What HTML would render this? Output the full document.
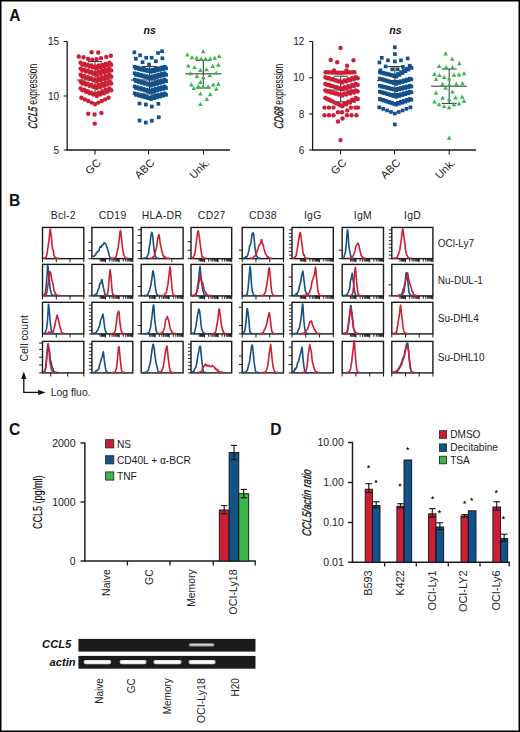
<!DOCTYPE html>
<html><head><meta charset="utf-8"><style>
html,body{margin:0;padding:0;background:#fff;}
body{width:520px;height:732px;overflow:hidden;position:relative;font-family:"Liberation Sans",sans-serif;}
svg{position:absolute;left:0;top:0;}
text{font-family:"Liberation Sans",sans-serif;}
</style></head><body>
<svg width="520" height="732" viewBox="0 0 520 732">
<rect x="0" y="0" width="520" height="732" fill="#fff"/>
<text x="9.2" y="20.5" font-size="15.6" text-anchor="start" font-weight="bold" font-style="normal" fill="#111">A</text>
<line x1="67.2" y1="41.5" x2="67.2" y2="150.6" stroke="#1a1a1a" stroke-width="1.3"/>
<line x1="66.60000000000001" y1="150" x2="230" y2="150" stroke="#1a1a1a" stroke-width="1.3"/>
<line x1="63.7" y1="41.5" x2="67.2" y2="41.5" stroke="#1a1a1a" stroke-width="1.1"/>
<text x="59.0" y="45.1" font-size="10" text-anchor="end" font-weight="normal" font-style="normal" fill="#222">15</text>
<line x1="63.7" y1="96" x2="67.2" y2="96" stroke="#1a1a1a" stroke-width="1.1"/>
<text x="59.0" y="99.6" font-size="10" text-anchor="end" font-weight="normal" font-style="normal" fill="#222">10</text>
<line x1="63.7" y1="150" x2="67.2" y2="150" stroke="#1a1a1a" stroke-width="1.1"/>
<text x="59.0" y="153.6" font-size="10" text-anchor="end" font-weight="normal" font-style="normal" fill="#222">5</text>
<line x1="95" y1="150" x2="95" y2="154.5" stroke="#1a1a1a" stroke-width="1.1"/>
<text x="0" y="0" font-size="11" text-anchor="end" font-weight="normal" font-style="normal" fill="#222" transform="translate(101.5,163.5) rotate(-45)">GC</text>
<line x1="148.5" y1="150" x2="148.5" y2="154.5" stroke="#1a1a1a" stroke-width="1.1"/>
<text x="0" y="0" font-size="11" text-anchor="end" font-weight="normal" font-style="normal" fill="#222" transform="translate(155.0,163.5) rotate(-45)">ABC</text>
<line x1="203.5" y1="150" x2="203.5" y2="154.5" stroke="#1a1a1a" stroke-width="1.1"/>
<text x="0" y="0" font-size="11" text-anchor="end" font-weight="normal" font-style="normal" fill="#222" transform="translate(210.0,163.5) rotate(-45)">Unk.</text>
<g transform="translate(37.2,96.3) rotate(-90) scale(0.68,1)"><text x="-47.93" y="0" font-size="12.5" font-style="italic" fill="#111" stroke="#111" stroke-width="0.35" transform="skewX(-10)">CCL5</text><text x="-15.98" y="0" font-size="12.5" fill="#111" xml:space="preserve"> expression</text></g>
<text x="149.6" y="33.9" font-size="10.6" text-anchor="middle" font-weight="bold" font-style="italic" fill="#111">ns</text>
<line x1="76.8" y1="80" x2="112.4" y2="80" stroke="#333" stroke-width="1"/>
<line x1="95" y1="61.5" x2="95" y2="92.9" stroke="#333" stroke-width="1"/>
<line x1="88" y1="61.5" x2="102" y2="61.5" stroke="#333" stroke-width="1"/>
<line x1="88" y1="92.9" x2="102" y2="92.9" stroke="#333" stroke-width="1"/>
<circle cx="78.8" cy="56.5" r="2.2" fill="#cc1f36"/>
<circle cx="83.5" cy="57.3" r="2.2" fill="#cc1f36"/>
<circle cx="88.1" cy="58.9" r="2.2" fill="#cc1f36"/>
<circle cx="92.2" cy="59.7" r="2.2" fill="#cc1f36"/>
<circle cx="96.6" cy="59.3" r="2.2" fill="#cc1f36"/>
<circle cx="101.0" cy="58.1" r="2.2" fill="#cc1f36"/>
<circle cx="106.3" cy="57.0" r="2.2" fill="#cc1f36"/>
<circle cx="110.8" cy="55.7" r="2.2" fill="#cc1f36"/>
<circle cx="80.6" cy="62.8" r="2.2" fill="#cc1f36"/>
<circle cx="82.4" cy="64.7" r="2.2" fill="#cc1f36"/>
<circle cx="84.2" cy="63.7" r="2.2" fill="#cc1f36"/>
<circle cx="86.0" cy="65.6" r="2.2" fill="#cc1f36"/>
<circle cx="87.8" cy="64.6" r="2.2" fill="#cc1f36"/>
<circle cx="89.6" cy="66.5" r="2.2" fill="#cc1f36"/>
<circle cx="91.4" cy="65.5" r="2.2" fill="#cc1f36"/>
<circle cx="93.2" cy="67.4" r="2.2" fill="#cc1f36"/>
<circle cx="95.0" cy="66.4" r="2.2" fill="#cc1f36"/>
<circle cx="96.8" cy="68.3" r="2.2" fill="#cc1f36"/>
<circle cx="98.6" cy="65.5" r="2.2" fill="#cc1f36"/>
<circle cx="100.4" cy="67.4" r="2.2" fill="#cc1f36"/>
<circle cx="102.2" cy="64.6" r="2.2" fill="#cc1f36"/>
<circle cx="104.0" cy="66.5" r="2.2" fill="#cc1f36"/>
<circle cx="105.8" cy="63.7" r="2.2" fill="#cc1f36"/>
<circle cx="107.6" cy="65.6" r="2.2" fill="#cc1f36"/>
<circle cx="109.4" cy="62.8" r="2.2" fill="#cc1f36"/>
<circle cx="111.2" cy="64.7" r="2.2" fill="#cc1f36"/>
<circle cx="80.6" cy="68.6" r="2.2" fill="#cc1f36"/>
<circle cx="82.4" cy="70.5" r="2.2" fill="#cc1f36"/>
<circle cx="84.2" cy="69.6" r="2.2" fill="#cc1f36"/>
<circle cx="86.0" cy="71.5" r="2.2" fill="#cc1f36"/>
<circle cx="87.8" cy="70.7" r="2.2" fill="#cc1f36"/>
<circle cx="89.6" cy="72.6" r="2.2" fill="#cc1f36"/>
<circle cx="91.4" cy="71.8" r="2.2" fill="#cc1f36"/>
<circle cx="93.2" cy="73.7" r="2.2" fill="#cc1f36"/>
<circle cx="95.0" cy="72.8" r="2.2" fill="#cc1f36"/>
<circle cx="96.8" cy="74.7" r="2.2" fill="#cc1f36"/>
<circle cx="98.6" cy="71.8" r="2.2" fill="#cc1f36"/>
<circle cx="100.4" cy="73.7" r="2.2" fill="#cc1f36"/>
<circle cx="102.2" cy="70.7" r="2.2" fill="#cc1f36"/>
<circle cx="104.0" cy="72.6" r="2.2" fill="#cc1f36"/>
<circle cx="105.8" cy="69.6" r="2.2" fill="#cc1f36"/>
<circle cx="107.6" cy="71.5" r="2.2" fill="#cc1f36"/>
<circle cx="109.4" cy="68.6" r="2.2" fill="#cc1f36"/>
<circle cx="111.2" cy="70.5" r="2.2" fill="#cc1f36"/>
<circle cx="80.6" cy="74.8" r="2.2" fill="#cc1f36"/>
<circle cx="82.4" cy="76.7" r="2.2" fill="#cc1f36"/>
<circle cx="84.2" cy="76.0" r="2.2" fill="#cc1f36"/>
<circle cx="86.0" cy="77.9" r="2.2" fill="#cc1f36"/>
<circle cx="87.8" cy="77.1" r="2.2" fill="#cc1f36"/>
<circle cx="89.6" cy="79.0" r="2.2" fill="#cc1f36"/>
<circle cx="91.4" cy="78.2" r="2.2" fill="#cc1f36"/>
<circle cx="93.2" cy="80.2" r="2.2" fill="#cc1f36"/>
<circle cx="95.0" cy="79.4" r="2.2" fill="#cc1f36"/>
<circle cx="96.8" cy="81.3" r="2.2" fill="#cc1f36"/>
<circle cx="98.6" cy="78.2" r="2.2" fill="#cc1f36"/>
<circle cx="100.4" cy="80.2" r="2.2" fill="#cc1f36"/>
<circle cx="102.2" cy="77.1" r="2.2" fill="#cc1f36"/>
<circle cx="104.0" cy="79.0" r="2.2" fill="#cc1f36"/>
<circle cx="105.8" cy="76.0" r="2.2" fill="#cc1f36"/>
<circle cx="107.6" cy="77.9" r="2.2" fill="#cc1f36"/>
<circle cx="109.4" cy="74.8" r="2.2" fill="#cc1f36"/>
<circle cx="111.2" cy="76.7" r="2.2" fill="#cc1f36"/>
<circle cx="80.6" cy="81.6" r="2.2" fill="#cc1f36"/>
<circle cx="82.4" cy="83.5" r="2.2" fill="#cc1f36"/>
<circle cx="84.2" cy="82.7" r="2.2" fill="#cc1f36"/>
<circle cx="86.0" cy="84.6" r="2.2" fill="#cc1f36"/>
<circle cx="87.8" cy="83.8" r="2.2" fill="#cc1f36"/>
<circle cx="89.6" cy="85.8" r="2.2" fill="#cc1f36"/>
<circle cx="91.4" cy="85.0" r="2.2" fill="#cc1f36"/>
<circle cx="93.2" cy="86.9" r="2.2" fill="#cc1f36"/>
<circle cx="95.0" cy="86.1" r="2.2" fill="#cc1f36"/>
<circle cx="96.8" cy="88.0" r="2.2" fill="#cc1f36"/>
<circle cx="98.6" cy="85.0" r="2.2" fill="#cc1f36"/>
<circle cx="100.4" cy="86.9" r="2.2" fill="#cc1f36"/>
<circle cx="102.2" cy="83.8" r="2.2" fill="#cc1f36"/>
<circle cx="104.0" cy="85.8" r="2.2" fill="#cc1f36"/>
<circle cx="105.8" cy="82.7" r="2.2" fill="#cc1f36"/>
<circle cx="107.6" cy="84.6" r="2.2" fill="#cc1f36"/>
<circle cx="109.4" cy="81.6" r="2.2" fill="#cc1f36"/>
<circle cx="111.2" cy="83.5" r="2.2" fill="#cc1f36"/>
<circle cx="80.6" cy="88.4" r="2.2" fill="#cc1f36"/>
<circle cx="82.4" cy="90.3" r="2.2" fill="#cc1f36"/>
<circle cx="84.2" cy="89.8" r="2.2" fill="#cc1f36"/>
<circle cx="86.0" cy="91.7" r="2.2" fill="#cc1f36"/>
<circle cx="87.8" cy="91.2" r="2.2" fill="#cc1f36"/>
<circle cx="89.6" cy="93.2" r="2.2" fill="#cc1f36"/>
<circle cx="91.4" cy="92.7" r="2.2" fill="#cc1f36"/>
<circle cx="93.2" cy="94.6" r="2.2" fill="#cc1f36"/>
<circle cx="95.0" cy="94.1" r="2.2" fill="#cc1f36"/>
<circle cx="96.8" cy="96.0" r="2.2" fill="#cc1f36"/>
<circle cx="98.6" cy="92.7" r="2.2" fill="#cc1f36"/>
<circle cx="100.4" cy="94.6" r="2.2" fill="#cc1f36"/>
<circle cx="102.2" cy="91.2" r="2.2" fill="#cc1f36"/>
<circle cx="104.0" cy="93.2" r="2.2" fill="#cc1f36"/>
<circle cx="105.8" cy="89.8" r="2.2" fill="#cc1f36"/>
<circle cx="107.6" cy="91.7" r="2.2" fill="#cc1f36"/>
<circle cx="109.4" cy="88.4" r="2.2" fill="#cc1f36"/>
<circle cx="111.2" cy="90.3" r="2.2" fill="#cc1f36"/>
<circle cx="81.4" cy="97.8" r="2.2" fill="#cc1f36"/>
<circle cx="84.8" cy="99.4" r="2.2" fill="#cc1f36"/>
<circle cx="88.2" cy="101.0" r="2.2" fill="#cc1f36"/>
<circle cx="91.6" cy="102.6" r="2.2" fill="#cc1f36"/>
<circle cx="95.0" cy="104.2" r="2.2" fill="#cc1f36"/>
<circle cx="98.4" cy="102.6" r="2.2" fill="#cc1f36"/>
<circle cx="101.8" cy="101.0" r="2.2" fill="#cc1f36"/>
<circle cx="105.2" cy="99.4" r="2.2" fill="#cc1f36"/>
<circle cx="108.6" cy="97.8" r="2.2" fill="#cc1f36"/>
<circle cx="91.6" cy="52.3" r="2.2" fill="#cc1f36"/>
<circle cx="98.2" cy="52.5" r="2.2" fill="#cc1f36"/>
<circle cx="88.2" cy="113.8" r="2.2" fill="#cc1f36"/>
<circle cx="94.6" cy="114.5" r="2.2" fill="#cc1f36"/>
<circle cx="101.4" cy="113.0" r="2.2" fill="#cc1f36"/>
<circle cx="94.7" cy="123.6" r="2.2" fill="#cc1f36"/>
<line x1="131" y1="80" x2="167.5" y2="80" stroke="#3a2a1a" stroke-width="1"/>
<line x1="149.5" y1="66.4" x2="149.5" y2="94" stroke="#3a2a1a" stroke-width="1"/>
<line x1="142.2" y1="66.4" x2="156.8" y2="66.4" stroke="#3a2a1a" stroke-width="1"/>
<line x1="142.2" y1="94" x2="156.8" y2="94" stroke="#3a2a1a" stroke-width="1"/>
<rect x="132.5" y="50.5" width="3.7" height="3.7" fill="#12518a"/>
<rect x="138.2" y="53.4" width="3.7" height="3.7" fill="#12518a"/>
<rect x="134.0" y="56.9" width="3.7" height="3.7" fill="#12518a"/>
<rect x="144.3" y="55.9" width="3.7" height="3.7" fill="#12518a"/>
<rect x="140.7" y="60.4" width="3.7" height="3.7" fill="#12518a"/>
<rect x="149.8" y="55.9" width="3.7" height="3.7" fill="#12518a"/>
<rect x="154.0" y="59.4" width="3.7" height="3.7" fill="#12518a"/>
<rect x="156.2" y="51.1" width="3.7" height="3.7" fill="#12518a"/>
<rect x="160.2" y="49.4" width="3.7" height="3.7" fill="#12518a"/>
<rect x="160.5" y="56.4" width="3.7" height="3.7" fill="#12518a"/>
<rect x="147.2" y="62.6" width="3.7" height="3.7" fill="#12518a"/>
<rect x="132.8" y="65.0" width="3.7" height="3.7" fill="#12518a"/>
<rect x="134.2" y="66.5" width="3.7" height="3.7" fill="#12518a"/>
<rect x="135.8" y="65.7" width="3.7" height="3.7" fill="#12518a"/>
<rect x="137.2" y="67.2" width="3.7" height="3.7" fill="#12518a"/>
<rect x="138.8" y="66.4" width="3.7" height="3.7" fill="#12518a"/>
<rect x="140.2" y="68.0" width="3.7" height="3.7" fill="#12518a"/>
<rect x="141.8" y="67.0" width="3.7" height="3.7" fill="#12518a"/>
<rect x="143.2" y="68.6" width="3.7" height="3.7" fill="#12518a"/>
<rect x="144.8" y="67.8" width="3.7" height="3.7" fill="#12518a"/>
<rect x="146.2" y="69.3" width="3.7" height="3.7" fill="#12518a"/>
<rect x="147.8" y="68.5" width="3.7" height="3.7" fill="#12518a"/>
<rect x="149.2" y="70.0" width="3.7" height="3.7" fill="#12518a"/>
<rect x="150.8" y="67.8" width="3.7" height="3.7" fill="#12518a"/>
<rect x="152.2" y="69.3" width="3.7" height="3.7" fill="#12518a"/>
<rect x="153.8" y="67.0" width="3.7" height="3.7" fill="#12518a"/>
<rect x="155.2" y="68.6" width="3.7" height="3.7" fill="#12518a"/>
<rect x="156.8" y="66.4" width="3.7" height="3.7" fill="#12518a"/>
<rect x="158.2" y="68.0" width="3.7" height="3.7" fill="#12518a"/>
<rect x="159.8" y="65.7" width="3.7" height="3.7" fill="#12518a"/>
<rect x="161.2" y="67.2" width="3.7" height="3.7" fill="#12518a"/>
<rect x="162.8" y="65.0" width="3.7" height="3.7" fill="#12518a"/>
<rect x="164.2" y="66.5" width="3.7" height="3.7" fill="#12518a"/>
<rect x="132.8" y="71.4" width="3.7" height="3.7" fill="#12518a"/>
<rect x="134.2" y="73.0" width="3.7" height="3.7" fill="#12518a"/>
<rect x="135.8" y="72.1" width="3.7" height="3.7" fill="#12518a"/>
<rect x="137.2" y="73.7" width="3.7" height="3.7" fill="#12518a"/>
<rect x="138.8" y="72.9" width="3.7" height="3.7" fill="#12518a"/>
<rect x="140.2" y="74.5" width="3.7" height="3.7" fill="#12518a"/>
<rect x="141.8" y="73.6" width="3.7" height="3.7" fill="#12518a"/>
<rect x="143.2" y="75.2" width="3.7" height="3.7" fill="#12518a"/>
<rect x="144.8" y="74.4" width="3.7" height="3.7" fill="#12518a"/>
<rect x="146.2" y="76.0" width="3.7" height="3.7" fill="#12518a"/>
<rect x="147.8" y="75.2" width="3.7" height="3.7" fill="#12518a"/>
<rect x="149.2" y="76.8" width="3.7" height="3.7" fill="#12518a"/>
<rect x="150.8" y="74.4" width="3.7" height="3.7" fill="#12518a"/>
<rect x="152.2" y="76.0" width="3.7" height="3.7" fill="#12518a"/>
<rect x="153.8" y="73.6" width="3.7" height="3.7" fill="#12518a"/>
<rect x="155.2" y="75.2" width="3.7" height="3.7" fill="#12518a"/>
<rect x="156.8" y="72.9" width="3.7" height="3.7" fill="#12518a"/>
<rect x="158.2" y="74.5" width="3.7" height="3.7" fill="#12518a"/>
<rect x="159.8" y="72.1" width="3.7" height="3.7" fill="#12518a"/>
<rect x="161.2" y="73.7" width="3.7" height="3.7" fill="#12518a"/>
<rect x="162.8" y="71.4" width="3.7" height="3.7" fill="#12518a"/>
<rect x="164.2" y="73.0" width="3.7" height="3.7" fill="#12518a"/>
<rect x="132.8" y="77.8" width="3.7" height="3.7" fill="#12518a"/>
<rect x="134.2" y="79.3" width="3.7" height="3.7" fill="#12518a"/>
<rect x="135.8" y="78.6" width="3.7" height="3.7" fill="#12518a"/>
<rect x="137.2" y="80.2" width="3.7" height="3.7" fill="#12518a"/>
<rect x="138.8" y="79.5" width="3.7" height="3.7" fill="#12518a"/>
<rect x="140.2" y="81.1" width="3.7" height="3.7" fill="#12518a"/>
<rect x="141.8" y="80.4" width="3.7" height="3.7" fill="#12518a"/>
<rect x="143.2" y="82.0" width="3.7" height="3.7" fill="#12518a"/>
<rect x="144.8" y="81.3" width="3.7" height="3.7" fill="#12518a"/>
<rect x="146.2" y="82.9" width="3.7" height="3.7" fill="#12518a"/>
<rect x="147.8" y="82.2" width="3.7" height="3.7" fill="#12518a"/>
<rect x="149.2" y="83.8" width="3.7" height="3.7" fill="#12518a"/>
<rect x="150.8" y="81.3" width="3.7" height="3.7" fill="#12518a"/>
<rect x="152.2" y="82.9" width="3.7" height="3.7" fill="#12518a"/>
<rect x="153.8" y="80.4" width="3.7" height="3.7" fill="#12518a"/>
<rect x="155.2" y="82.0" width="3.7" height="3.7" fill="#12518a"/>
<rect x="156.8" y="79.5" width="3.7" height="3.7" fill="#12518a"/>
<rect x="158.2" y="81.1" width="3.7" height="3.7" fill="#12518a"/>
<rect x="159.8" y="78.6" width="3.7" height="3.7" fill="#12518a"/>
<rect x="161.2" y="80.2" width="3.7" height="3.7" fill="#12518a"/>
<rect x="162.8" y="77.8" width="3.7" height="3.7" fill="#12518a"/>
<rect x="164.2" y="79.3" width="3.7" height="3.7" fill="#12518a"/>
<rect x="132.8" y="84.6" width="3.7" height="3.7" fill="#12518a"/>
<rect x="134.2" y="86.2" width="3.7" height="3.7" fill="#12518a"/>
<rect x="135.8" y="85.4" width="3.7" height="3.7" fill="#12518a"/>
<rect x="137.2" y="87.0" width="3.7" height="3.7" fill="#12518a"/>
<rect x="138.8" y="86.2" width="3.7" height="3.7" fill="#12518a"/>
<rect x="140.2" y="87.8" width="3.7" height="3.7" fill="#12518a"/>
<rect x="141.8" y="87.1" width="3.7" height="3.7" fill="#12518a"/>
<rect x="143.2" y="88.7" width="3.7" height="3.7" fill="#12518a"/>
<rect x="144.8" y="87.9" width="3.7" height="3.7" fill="#12518a"/>
<rect x="146.2" y="89.5" width="3.7" height="3.7" fill="#12518a"/>
<rect x="147.8" y="88.8" width="3.7" height="3.7" fill="#12518a"/>
<rect x="149.2" y="90.3" width="3.7" height="3.7" fill="#12518a"/>
<rect x="150.8" y="87.9" width="3.7" height="3.7" fill="#12518a"/>
<rect x="152.2" y="89.5" width="3.7" height="3.7" fill="#12518a"/>
<rect x="153.8" y="87.1" width="3.7" height="3.7" fill="#12518a"/>
<rect x="155.2" y="88.7" width="3.7" height="3.7" fill="#12518a"/>
<rect x="156.8" y="86.2" width="3.7" height="3.7" fill="#12518a"/>
<rect x="158.2" y="87.8" width="3.7" height="3.7" fill="#12518a"/>
<rect x="159.8" y="85.4" width="3.7" height="3.7" fill="#12518a"/>
<rect x="161.2" y="87.0" width="3.7" height="3.7" fill="#12518a"/>
<rect x="162.8" y="84.6" width="3.7" height="3.7" fill="#12518a"/>
<rect x="164.2" y="86.2" width="3.7" height="3.7" fill="#12518a"/>
<rect x="132.8" y="91.5" width="3.7" height="3.7" fill="#12518a"/>
<rect x="134.2" y="93.0" width="3.7" height="3.7" fill="#12518a"/>
<rect x="135.8" y="92.3" width="3.7" height="3.7" fill="#12518a"/>
<rect x="137.2" y="93.9" width="3.7" height="3.7" fill="#12518a"/>
<rect x="138.8" y="93.1" width="3.7" height="3.7" fill="#12518a"/>
<rect x="140.2" y="94.7" width="3.7" height="3.7" fill="#12518a"/>
<rect x="141.8" y="93.9" width="3.7" height="3.7" fill="#12518a"/>
<rect x="143.2" y="95.5" width="3.7" height="3.7" fill="#12518a"/>
<rect x="144.8" y="94.7" width="3.7" height="3.7" fill="#12518a"/>
<rect x="146.2" y="96.3" width="3.7" height="3.7" fill="#12518a"/>
<rect x="147.8" y="95.6" width="3.7" height="3.7" fill="#12518a"/>
<rect x="149.2" y="97.2" width="3.7" height="3.7" fill="#12518a"/>
<rect x="150.8" y="94.7" width="3.7" height="3.7" fill="#12518a"/>
<rect x="152.2" y="96.3" width="3.7" height="3.7" fill="#12518a"/>
<rect x="153.8" y="93.9" width="3.7" height="3.7" fill="#12518a"/>
<rect x="155.2" y="95.5" width="3.7" height="3.7" fill="#12518a"/>
<rect x="156.8" y="93.1" width="3.7" height="3.7" fill="#12518a"/>
<rect x="158.2" y="94.7" width="3.7" height="3.7" fill="#12518a"/>
<rect x="159.8" y="92.3" width="3.7" height="3.7" fill="#12518a"/>
<rect x="161.2" y="93.9" width="3.7" height="3.7" fill="#12518a"/>
<rect x="162.8" y="91.5" width="3.7" height="3.7" fill="#12518a"/>
<rect x="164.2" y="93.0" width="3.7" height="3.7" fill="#12518a"/>
<rect x="137.7" y="101.7" width="3.7" height="3.7" fill="#12518a"/>
<rect x="144.0" y="102.7" width="3.7" height="3.7" fill="#12518a"/>
<rect x="150.0" y="104.7" width="3.7" height="3.7" fill="#12518a"/>
<rect x="156.5" y="102.0" width="3.7" height="3.7" fill="#12518a"/>
<rect x="137.7" y="118.7" width="3.7" height="3.7" fill="#12518a"/>
<rect x="144.0" y="120.7" width="3.7" height="3.7" fill="#12518a"/>
<rect x="150.0" y="118.9" width="3.7" height="3.7" fill="#12518a"/>
<rect x="157.0" y="115.4" width="3.7" height="3.7" fill="#12518a"/>
<line x1="185.2" y1="73.8" x2="221.5" y2="73.8" stroke="#333" stroke-width="1"/>
<line x1="203.3" y1="60.3" x2="203.3" y2="88" stroke="#333" stroke-width="1"/>
<line x1="195.70000000000002" y1="60.3" x2="210.9" y2="60.3" stroke="#333" stroke-width="1"/>
<line x1="195.70000000000002" y1="88" x2="210.9" y2="88" stroke="#333" stroke-width="1"/>
<path d="M203.3 49.0L205.6 53.2L201.0 53.2Z" fill="#3ab54a"/>
<path d="M187.3 52.3L189.6 56.5L185.0 56.5Z" fill="#3ab54a"/>
<path d="M192.0 55.1L194.3 59.3L189.7 59.3Z" fill="#3ab54a"/>
<path d="M196.7 55.5L199.0 59.7L194.4 59.7Z" fill="#3ab54a"/>
<path d="M201.2 56.4L203.5 60.6L198.9 60.6Z" fill="#3ab54a"/>
<path d="M205.5 56.6L207.8 60.8L203.2 60.8Z" fill="#3ab54a"/>
<path d="M210.2 56.4L212.5 60.6L207.9 60.6Z" fill="#3ab54a"/>
<path d="M214.7 55.5L217.0 59.7L212.4 59.7Z" fill="#3ab54a"/>
<path d="M219.3 53.9L221.6 58.1L217.0 58.1Z" fill="#3ab54a"/>
<path d="M188.3 63.4L190.6 67.6L186.0 67.6Z" fill="#3ab54a"/>
<path d="M194.5 64.9L196.8 69.1L192.2 69.1Z" fill="#3ab54a"/>
<path d="M200.4 67.7L202.7 71.9L198.1 71.9Z" fill="#3ab54a"/>
<path d="M206.5 67.1L208.8 71.3L204.2 71.3Z" fill="#3ab54a"/>
<path d="M212.7 63.7L215.0 67.9L210.4 67.9Z" fill="#3ab54a"/>
<path d="M218.4 62.5L220.7 66.7L216.1 66.7Z" fill="#3ab54a"/>
<path d="M190.5 71.1L192.8 75.3L188.2 75.3Z" fill="#3ab54a"/>
<path d="M196.9 73.8L199.2 78.0L194.6 78.0Z" fill="#3ab54a"/>
<path d="M203.3 75.0L205.6 79.2L201.0 79.2Z" fill="#3ab54a"/>
<path d="M209.8 73.0L212.1 77.2L207.5 77.2Z" fill="#3ab54a"/>
<path d="M216.3 70.5L218.6 74.7L214.0 74.7Z" fill="#3ab54a"/>
<path d="M200.4 79.7L202.7 83.9L198.1 83.9Z" fill="#3ab54a"/>
<path d="M191.4 82.2L193.7 86.4L189.1 86.4Z" fill="#3ab54a"/>
<path d="M193.8 85.9L196.1 90.1L191.5 90.1Z" fill="#3ab54a"/>
<path d="M198.4 84.0L200.7 88.2L196.1 88.2Z" fill="#3ab54a"/>
<path d="M203.3 84.0L205.6 88.2L201.0 88.2Z" fill="#3ab54a"/>
<path d="M208.2 84.3L210.5 88.5L205.9 88.5Z" fill="#3ab54a"/>
<path d="M213.3 82.2L215.6 86.4L211.0 86.4Z" fill="#3ab54a"/>
<path d="M218.4 81.6L220.7 85.8L216.1 85.8Z" fill="#3ab54a"/>
<path d="M216.3 86.5L218.6 90.7L214.0 90.7Z" fill="#3ab54a"/>
<path d="M200.4 91.4L202.7 95.6L198.1 95.6Z" fill="#3ab54a"/>
<path d="M210.2 92.0L212.5 96.2L207.9 96.2Z" fill="#3ab54a"/>
<path d="M206.8 96.7L209.1 100.9L204.5 100.9Z" fill="#3ab54a"/>
<path d="M200.4 101.9L202.7 106.1L198.1 106.1Z" fill="#3ab54a"/>
<line x1="312.6" y1="41.5" x2="312.6" y2="150.6" stroke="#1a1a1a" stroke-width="1.3"/>
<line x1="312.0" y1="150" x2="476" y2="150" stroke="#1a1a1a" stroke-width="1.3"/>
<line x1="309.1" y1="41.5" x2="312.6" y2="41.5" stroke="#1a1a1a" stroke-width="1.1"/>
<text x="304.40000000000003" y="45.1" font-size="10" text-anchor="end" font-weight="normal" font-style="normal" fill="#222">12</text>
<line x1="309.1" y1="77.8" x2="312.6" y2="77.8" stroke="#1a1a1a" stroke-width="1.1"/>
<text x="304.40000000000003" y="81.39999999999999" font-size="10" text-anchor="end" font-weight="normal" font-style="normal" fill="#222">10</text>
<line x1="309.1" y1="114" x2="312.6" y2="114" stroke="#1a1a1a" stroke-width="1.1"/>
<text x="304.40000000000003" y="117.6" font-size="10" text-anchor="end" font-weight="normal" font-style="normal" fill="#222">8</text>
<line x1="309.1" y1="150" x2="312.6" y2="150" stroke="#1a1a1a" stroke-width="1.1"/>
<text x="304.40000000000003" y="153.6" font-size="10" text-anchor="end" font-weight="normal" font-style="normal" fill="#222">6</text>
<line x1="340.5" y1="150" x2="340.5" y2="154.5" stroke="#1a1a1a" stroke-width="1.1"/>
<text x="0" y="0" font-size="11" text-anchor="end" font-weight="normal" font-style="normal" fill="#222" transform="translate(347.0,163.5) rotate(-45)">GC</text>
<line x1="394.5" y1="150" x2="394.5" y2="154.5" stroke="#1a1a1a" stroke-width="1.1"/>
<text x="0" y="0" font-size="11" text-anchor="end" font-weight="normal" font-style="normal" fill="#222" transform="translate(401.0,163.5) rotate(-45)">ABC</text>
<line x1="449.2" y1="150" x2="449.2" y2="154.5" stroke="#1a1a1a" stroke-width="1.1"/>
<text x="0" y="0" font-size="11" text-anchor="end" font-weight="normal" font-style="normal" fill="#222" transform="translate(455.7,163.5) rotate(-45)">Unk.</text>
<g transform="translate(283,96.3) rotate(-90) scale(0.68,1)"><text x="-47.93" y="0" font-size="12.5" font-style="italic" fill="#111" stroke="#111" stroke-width="0.35" transform="skewX(-10)">CD68</text><text x="-15.98" y="0" font-size="12.5" fill="#111" xml:space="preserve"> expression</text></g>
<text x="395.5" y="33.9" font-size="10.6" text-anchor="middle" font-weight="bold" font-style="italic" fill="#111">ns</text>
<line x1="323" y1="90" x2="358" y2="90" stroke="#333" stroke-width="1"/>
<line x1="340.7" y1="76.2" x2="340.7" y2="101.8" stroke="#333" stroke-width="1"/>
<line x1="333.7" y1="76.2" x2="347.7" y2="76.2" stroke="#333" stroke-width="1"/>
<line x1="333.7" y1="101.8" x2="347.7" y2="101.8" stroke="#333" stroke-width="1"/>
<circle cx="340.5" cy="47.9" r="2.2" fill="#cc1f36"/>
<circle cx="330.7" cy="59.9" r="2.2" fill="#cc1f36"/>
<circle cx="337.2" cy="62.2" r="2.2" fill="#cc1f36"/>
<circle cx="353.5" cy="60.2" r="2.2" fill="#cc1f36"/>
<circle cx="347.1" cy="65.8" r="2.2" fill="#cc1f36"/>
<circle cx="325.6" cy="72.2" r="2.2" fill="#cc1f36"/>
<circle cx="328.0" cy="72.3" r="2.2" fill="#cc1f36"/>
<circle cx="330.4" cy="72.4" r="2.2" fill="#cc1f36"/>
<circle cx="332.8" cy="72.5" r="2.2" fill="#cc1f36"/>
<circle cx="335.2" cy="72.6" r="2.2" fill="#cc1f36"/>
<circle cx="337.6" cy="72.7" r="2.2" fill="#cc1f36"/>
<circle cx="340.0" cy="72.8" r="2.2" fill="#cc1f36"/>
<circle cx="342.4" cy="72.7" r="2.2" fill="#cc1f36"/>
<circle cx="344.8" cy="72.6" r="2.2" fill="#cc1f36"/>
<circle cx="347.2" cy="72.5" r="2.2" fill="#cc1f36"/>
<circle cx="349.6" cy="72.4" r="2.2" fill="#cc1f36"/>
<circle cx="352.0" cy="72.3" r="2.2" fill="#cc1f36"/>
<circle cx="354.4" cy="72.2" r="2.2" fill="#cc1f36"/>
<circle cx="334.0" cy="70.5" r="2.2" fill="#cc1f36"/>
<circle cx="346.5" cy="70.5" r="2.2" fill="#cc1f36"/>
<circle cx="325.4" cy="77.2" r="2.2" fill="#cc1f36"/>
<circle cx="327.3" cy="78.2" r="2.2" fill="#cc1f36"/>
<circle cx="329.2" cy="78.2" r="2.2" fill="#cc1f36"/>
<circle cx="331.1" cy="79.2" r="2.2" fill="#cc1f36"/>
<circle cx="333.0" cy="79.3" r="2.2" fill="#cc1f36"/>
<circle cx="334.9" cy="80.3" r="2.2" fill="#cc1f36"/>
<circle cx="336.8" cy="80.4" r="2.2" fill="#cc1f36"/>
<circle cx="338.7" cy="81.4" r="2.2" fill="#cc1f36"/>
<circle cx="340.6" cy="81.4" r="2.2" fill="#cc1f36"/>
<circle cx="342.5" cy="82.4" r="2.2" fill="#cc1f36"/>
<circle cx="344.4" cy="80.4" r="2.2" fill="#cc1f36"/>
<circle cx="346.3" cy="81.4" r="2.2" fill="#cc1f36"/>
<circle cx="348.2" cy="79.3" r="2.2" fill="#cc1f36"/>
<circle cx="350.1" cy="80.3" r="2.2" fill="#cc1f36"/>
<circle cx="352.0" cy="78.2" r="2.2" fill="#cc1f36"/>
<circle cx="353.9" cy="79.2" r="2.2" fill="#cc1f36"/>
<circle cx="355.8" cy="77.2" r="2.2" fill="#cc1f36"/>
<circle cx="357.7" cy="78.2" r="2.2" fill="#cc1f36"/>
<circle cx="325.4" cy="83.9" r="2.2" fill="#cc1f36"/>
<circle cx="327.3" cy="84.9" r="2.2" fill="#cc1f36"/>
<circle cx="329.2" cy="85.0" r="2.2" fill="#cc1f36"/>
<circle cx="331.1" cy="86.0" r="2.2" fill="#cc1f36"/>
<circle cx="333.0" cy="86.1" r="2.2" fill="#cc1f36"/>
<circle cx="334.9" cy="87.1" r="2.2" fill="#cc1f36"/>
<circle cx="336.8" cy="87.2" r="2.2" fill="#cc1f36"/>
<circle cx="338.7" cy="88.2" r="2.2" fill="#cc1f36"/>
<circle cx="340.6" cy="88.3" r="2.2" fill="#cc1f36"/>
<circle cx="342.5" cy="89.3" r="2.2" fill="#cc1f36"/>
<circle cx="344.4" cy="87.2" r="2.2" fill="#cc1f36"/>
<circle cx="346.3" cy="88.2" r="2.2" fill="#cc1f36"/>
<circle cx="348.2" cy="86.1" r="2.2" fill="#cc1f36"/>
<circle cx="350.1" cy="87.1" r="2.2" fill="#cc1f36"/>
<circle cx="352.0" cy="85.0" r="2.2" fill="#cc1f36"/>
<circle cx="353.9" cy="86.0" r="2.2" fill="#cc1f36"/>
<circle cx="355.8" cy="83.9" r="2.2" fill="#cc1f36"/>
<circle cx="357.7" cy="84.9" r="2.2" fill="#cc1f36"/>
<circle cx="325.4" cy="90.5" r="2.2" fill="#cc1f36"/>
<circle cx="327.3" cy="91.5" r="2.2" fill="#cc1f36"/>
<circle cx="329.2" cy="91.5" r="2.2" fill="#cc1f36"/>
<circle cx="331.1" cy="92.5" r="2.2" fill="#cc1f36"/>
<circle cx="333.0" cy="92.5" r="2.2" fill="#cc1f36"/>
<circle cx="334.9" cy="93.5" r="2.2" fill="#cc1f36"/>
<circle cx="336.8" cy="93.5" r="2.2" fill="#cc1f36"/>
<circle cx="338.7" cy="94.5" r="2.2" fill="#cc1f36"/>
<circle cx="340.6" cy="94.5" r="2.2" fill="#cc1f36"/>
<circle cx="342.5" cy="95.5" r="2.2" fill="#cc1f36"/>
<circle cx="344.4" cy="93.5" r="2.2" fill="#cc1f36"/>
<circle cx="346.3" cy="94.5" r="2.2" fill="#cc1f36"/>
<circle cx="348.2" cy="92.5" r="2.2" fill="#cc1f36"/>
<circle cx="350.1" cy="93.5" r="2.2" fill="#cc1f36"/>
<circle cx="352.0" cy="91.5" r="2.2" fill="#cc1f36"/>
<circle cx="353.9" cy="92.5" r="2.2" fill="#cc1f36"/>
<circle cx="355.8" cy="90.5" r="2.2" fill="#cc1f36"/>
<circle cx="357.7" cy="91.5" r="2.2" fill="#cc1f36"/>
<circle cx="325.4" cy="98.0" r="2.2" fill="#cc1f36"/>
<circle cx="327.3" cy="99.0" r="2.2" fill="#cc1f36"/>
<circle cx="329.2" cy="99.8" r="2.2" fill="#cc1f36"/>
<circle cx="331.1" cy="100.8" r="2.2" fill="#cc1f36"/>
<circle cx="333.0" cy="101.6" r="2.2" fill="#cc1f36"/>
<circle cx="334.9" cy="102.6" r="2.2" fill="#cc1f36"/>
<circle cx="336.8" cy="103.4" r="2.2" fill="#cc1f36"/>
<circle cx="338.7" cy="104.4" r="2.2" fill="#cc1f36"/>
<circle cx="340.6" cy="105.2" r="2.2" fill="#cc1f36"/>
<circle cx="342.5" cy="106.2" r="2.2" fill="#cc1f36"/>
<circle cx="344.4" cy="103.4" r="2.2" fill="#cc1f36"/>
<circle cx="346.3" cy="104.4" r="2.2" fill="#cc1f36"/>
<circle cx="348.2" cy="101.6" r="2.2" fill="#cc1f36"/>
<circle cx="350.1" cy="102.6" r="2.2" fill="#cc1f36"/>
<circle cx="352.0" cy="99.8" r="2.2" fill="#cc1f36"/>
<circle cx="353.9" cy="100.8" r="2.2" fill="#cc1f36"/>
<circle cx="355.8" cy="98.0" r="2.2" fill="#cc1f36"/>
<circle cx="357.7" cy="99.0" r="2.2" fill="#cc1f36"/>
<circle cx="324.5" cy="107.6" r="2.2" fill="#cc1f36"/>
<circle cx="329.0" cy="107.6" r="2.2" fill="#cc1f36"/>
<circle cx="333.5" cy="107.6" r="2.2" fill="#cc1f36"/>
<circle cx="351.0" cy="107.6" r="2.2" fill="#cc1f36"/>
<circle cx="355.5" cy="107.6" r="2.2" fill="#cc1f36"/>
<circle cx="358.0" cy="107.6" r="2.2" fill="#cc1f36"/>
<circle cx="338.0" cy="112.2" r="2.2" fill="#cc1f36"/>
<circle cx="342.0" cy="112.2" r="2.2" fill="#cc1f36"/>
<circle cx="347.3" cy="110.4" r="2.2" fill="#cc1f36"/>
<circle cx="324.5" cy="115.2" r="2.2" fill="#cc1f36"/>
<circle cx="329.0" cy="115.2" r="2.2" fill="#cc1f36"/>
<circle cx="333.5" cy="115.2" r="2.2" fill="#cc1f36"/>
<circle cx="347.0" cy="115.2" r="2.2" fill="#cc1f36"/>
<circle cx="351.5" cy="115.2" r="2.2" fill="#cc1f36"/>
<circle cx="356.5" cy="115.2" r="2.2" fill="#cc1f36"/>
<circle cx="342.5" cy="118.5" r="2.2" fill="#cc1f36"/>
<circle cx="338.0" cy="121.5" r="2.2" fill="#cc1f36"/>
<circle cx="340.5" cy="140.1" r="2.2" fill="#cc1f36"/>
<line x1="377" y1="80.4" x2="413" y2="80.4" stroke="#3a2a1a" stroke-width="1"/>
<line x1="394.9" y1="66.6" x2="394.9" y2="93.6" stroke="#3a2a1a" stroke-width="1"/>
<line x1="387.4" y1="66.6" x2="402.4" y2="66.6" stroke="#3a2a1a" stroke-width="1"/>
<line x1="387.4" y1="93.6" x2="402.4" y2="93.6" stroke="#3a2a1a" stroke-width="1"/>
<rect x="393.0" y="45.4" width="3.7" height="3.7" fill="#12518a"/>
<rect x="393.0" y="52.2" width="3.7" height="3.7" fill="#12518a"/>
<rect x="379.9" y="56.0" width="3.7" height="3.7" fill="#12518a"/>
<rect x="386.1" y="58.5" width="3.7" height="3.7" fill="#12518a"/>
<rect x="393.0" y="59.6" width="3.7" height="3.7" fill="#12518a"/>
<rect x="399.1" y="58.5" width="3.7" height="3.7" fill="#12518a"/>
<rect x="405.8" y="56.6" width="3.7" height="3.7" fill="#12518a"/>
<rect x="377.6" y="60.6" width="3.7" height="3.7" fill="#12518a"/>
<rect x="383.8" y="64.6" width="3.7" height="3.7" fill="#12518a"/>
<rect x="390.4" y="67.5" width="3.7" height="3.7" fill="#12518a"/>
<rect x="395.8" y="67.5" width="3.7" height="3.7" fill="#12518a"/>
<rect x="401.1" y="65.0" width="3.7" height="3.7" fill="#12518a"/>
<rect x="407.8" y="63.9" width="3.7" height="3.7" fill="#12518a"/>
<rect x="378.6" y="68.5" width="3.7" height="3.7" fill="#12518a"/>
<rect x="378.1" y="70.2" width="3.7" height="3.7" fill="#12518a"/>
<rect x="379.6" y="71.0" width="3.7" height="3.7" fill="#12518a"/>
<rect x="381.1" y="70.9" width="3.7" height="3.7" fill="#12518a"/>
<rect x="382.6" y="71.7" width="3.7" height="3.7" fill="#12518a"/>
<rect x="384.1" y="71.7" width="3.7" height="3.7" fill="#12518a"/>
<rect x="385.6" y="72.5" width="3.7" height="3.7" fill="#12518a"/>
<rect x="387.1" y="72.4" width="3.7" height="3.7" fill="#12518a"/>
<rect x="388.6" y="73.2" width="3.7" height="3.7" fill="#12518a"/>
<rect x="390.1" y="73.2" width="3.7" height="3.7" fill="#12518a"/>
<rect x="391.6" y="74.0" width="3.7" height="3.7" fill="#12518a"/>
<rect x="393.1" y="74.0" width="3.7" height="3.7" fill="#12518a"/>
<rect x="394.6" y="74.8" width="3.7" height="3.7" fill="#12518a"/>
<rect x="396.1" y="72.2" width="3.7" height="3.7" fill="#12518a"/>
<rect x="397.6" y="73.0" width="3.7" height="3.7" fill="#12518a"/>
<rect x="399.1" y="70.4" width="3.7" height="3.7" fill="#12518a"/>
<rect x="400.6" y="71.2" width="3.7" height="3.7" fill="#12518a"/>
<rect x="402.1" y="68.7" width="3.7" height="3.7" fill="#12518a"/>
<rect x="403.6" y="69.5" width="3.7" height="3.7" fill="#12518a"/>
<rect x="405.1" y="66.9" width="3.7" height="3.7" fill="#12518a"/>
<rect x="406.6" y="67.7" width="3.7" height="3.7" fill="#12518a"/>
<rect x="408.1" y="65.2" width="3.7" height="3.7" fill="#12518a"/>
<rect x="409.6" y="66.0" width="3.7" height="3.7" fill="#12518a"/>
<rect x="378.0" y="76.8" width="3.7" height="3.7" fill="#12518a"/>
<rect x="379.5" y="77.5" width="3.7" height="3.7" fill="#12518a"/>
<rect x="381.0" y="77.6" width="3.7" height="3.7" fill="#12518a"/>
<rect x="382.5" y="78.4" width="3.7" height="3.7" fill="#12518a"/>
<rect x="384.0" y="78.5" width="3.7" height="3.7" fill="#12518a"/>
<rect x="385.5" y="79.3" width="3.7" height="3.7" fill="#12518a"/>
<rect x="387.0" y="79.4" width="3.7" height="3.7" fill="#12518a"/>
<rect x="388.5" y="80.2" width="3.7" height="3.7" fill="#12518a"/>
<rect x="390.0" y="80.3" width="3.7" height="3.7" fill="#12518a"/>
<rect x="391.5" y="81.1" width="3.7" height="3.7" fill="#12518a"/>
<rect x="393.0" y="81.2" width="3.7" height="3.7" fill="#12518a"/>
<rect x="394.5" y="82.0" width="3.7" height="3.7" fill="#12518a"/>
<rect x="396.0" y="80.3" width="3.7" height="3.7" fill="#12518a"/>
<rect x="397.5" y="81.1" width="3.7" height="3.7" fill="#12518a"/>
<rect x="399.0" y="79.4" width="3.7" height="3.7" fill="#12518a"/>
<rect x="400.5" y="80.2" width="3.7" height="3.7" fill="#12518a"/>
<rect x="402.0" y="78.5" width="3.7" height="3.7" fill="#12518a"/>
<rect x="403.5" y="79.3" width="3.7" height="3.7" fill="#12518a"/>
<rect x="405.0" y="77.6" width="3.7" height="3.7" fill="#12518a"/>
<rect x="406.5" y="78.4" width="3.7" height="3.7" fill="#12518a"/>
<rect x="408.0" y="76.8" width="3.7" height="3.7" fill="#12518a"/>
<rect x="409.5" y="77.5" width="3.7" height="3.7" fill="#12518a"/>
<rect x="378.0" y="83.9" width="3.7" height="3.7" fill="#12518a"/>
<rect x="379.5" y="84.7" width="3.7" height="3.7" fill="#12518a"/>
<rect x="381.0" y="84.6" width="3.7" height="3.7" fill="#12518a"/>
<rect x="382.5" y="85.4" width="3.7" height="3.7" fill="#12518a"/>
<rect x="384.0" y="85.3" width="3.7" height="3.7" fill="#12518a"/>
<rect x="385.5" y="86.1" width="3.7" height="3.7" fill="#12518a"/>
<rect x="387.0" y="86.1" width="3.7" height="3.7" fill="#12518a"/>
<rect x="388.5" y="86.9" width="3.7" height="3.7" fill="#12518a"/>
<rect x="390.0" y="86.8" width="3.7" height="3.7" fill="#12518a"/>
<rect x="391.5" y="87.6" width="3.7" height="3.7" fill="#12518a"/>
<rect x="393.0" y="87.6" width="3.7" height="3.7" fill="#12518a"/>
<rect x="394.5" y="88.4" width="3.7" height="3.7" fill="#12518a"/>
<rect x="396.0" y="86.8" width="3.7" height="3.7" fill="#12518a"/>
<rect x="397.5" y="87.6" width="3.7" height="3.7" fill="#12518a"/>
<rect x="399.0" y="86.1" width="3.7" height="3.7" fill="#12518a"/>
<rect x="400.5" y="86.9" width="3.7" height="3.7" fill="#12518a"/>
<rect x="402.0" y="85.3" width="3.7" height="3.7" fill="#12518a"/>
<rect x="403.5" y="86.1" width="3.7" height="3.7" fill="#12518a"/>
<rect x="405.0" y="84.6" width="3.7" height="3.7" fill="#12518a"/>
<rect x="406.5" y="85.4" width="3.7" height="3.7" fill="#12518a"/>
<rect x="408.0" y="83.9" width="3.7" height="3.7" fill="#12518a"/>
<rect x="409.5" y="84.7" width="3.7" height="3.7" fill="#12518a"/>
<rect x="378.0" y="89.8" width="3.7" height="3.7" fill="#12518a"/>
<rect x="379.5" y="90.5" width="3.7" height="3.7" fill="#12518a"/>
<rect x="381.0" y="90.6" width="3.7" height="3.7" fill="#12518a"/>
<rect x="382.5" y="91.4" width="3.7" height="3.7" fill="#12518a"/>
<rect x="384.0" y="91.5" width="3.7" height="3.7" fill="#12518a"/>
<rect x="385.5" y="92.3" width="3.7" height="3.7" fill="#12518a"/>
<rect x="387.0" y="92.4" width="3.7" height="3.7" fill="#12518a"/>
<rect x="388.5" y="93.2" width="3.7" height="3.7" fill="#12518a"/>
<rect x="390.0" y="93.3" width="3.7" height="3.7" fill="#12518a"/>
<rect x="391.5" y="94.1" width="3.7" height="3.7" fill="#12518a"/>
<rect x="393.0" y="94.2" width="3.7" height="3.7" fill="#12518a"/>
<rect x="394.5" y="95.0" width="3.7" height="3.7" fill="#12518a"/>
<rect x="396.0" y="93.3" width="3.7" height="3.7" fill="#12518a"/>
<rect x="397.5" y="94.1" width="3.7" height="3.7" fill="#12518a"/>
<rect x="399.0" y="92.4" width="3.7" height="3.7" fill="#12518a"/>
<rect x="400.5" y="93.2" width="3.7" height="3.7" fill="#12518a"/>
<rect x="402.0" y="91.5" width="3.7" height="3.7" fill="#12518a"/>
<rect x="403.5" y="92.3" width="3.7" height="3.7" fill="#12518a"/>
<rect x="405.0" y="90.6" width="3.7" height="3.7" fill="#12518a"/>
<rect x="406.5" y="91.4" width="3.7" height="3.7" fill="#12518a"/>
<rect x="408.0" y="89.8" width="3.7" height="3.7" fill="#12518a"/>
<rect x="409.5" y="90.5" width="3.7" height="3.7" fill="#12518a"/>
<rect x="378.0" y="97.1" width="3.7" height="3.7" fill="#12518a"/>
<rect x="379.5" y="97.9" width="3.7" height="3.7" fill="#12518a"/>
<rect x="381.0" y="98.0" width="3.7" height="3.7" fill="#12518a"/>
<rect x="382.5" y="98.8" width="3.7" height="3.7" fill="#12518a"/>
<rect x="384.0" y="99.0" width="3.7" height="3.7" fill="#12518a"/>
<rect x="385.5" y="99.8" width="3.7" height="3.7" fill="#12518a"/>
<rect x="387.0" y="100.0" width="3.7" height="3.7" fill="#12518a"/>
<rect x="388.5" y="100.8" width="3.7" height="3.7" fill="#12518a"/>
<rect x="390.0" y="101.0" width="3.7" height="3.7" fill="#12518a"/>
<rect x="391.5" y="101.8" width="3.7" height="3.7" fill="#12518a"/>
<rect x="393.0" y="102.0" width="3.7" height="3.7" fill="#12518a"/>
<rect x="394.5" y="102.8" width="3.7" height="3.7" fill="#12518a"/>
<rect x="396.0" y="101.0" width="3.7" height="3.7" fill="#12518a"/>
<rect x="397.5" y="101.8" width="3.7" height="3.7" fill="#12518a"/>
<rect x="399.0" y="100.0" width="3.7" height="3.7" fill="#12518a"/>
<rect x="400.5" y="100.8" width="3.7" height="3.7" fill="#12518a"/>
<rect x="402.0" y="99.0" width="3.7" height="3.7" fill="#12518a"/>
<rect x="403.5" y="99.8" width="3.7" height="3.7" fill="#12518a"/>
<rect x="405.0" y="98.0" width="3.7" height="3.7" fill="#12518a"/>
<rect x="406.5" y="98.8" width="3.7" height="3.7" fill="#12518a"/>
<rect x="408.0" y="97.1" width="3.7" height="3.7" fill="#12518a"/>
<rect x="409.5" y="97.9" width="3.7" height="3.7" fill="#12518a"/>
<rect x="377.4" y="105.5" width="3.7" height="3.7" fill="#12518a"/>
<rect x="381.3" y="107.0" width="3.7" height="3.7" fill="#12518a"/>
<rect x="385.2" y="108.6" width="3.7" height="3.7" fill="#12518a"/>
<rect x="389.1" y="110.1" width="3.7" height="3.7" fill="#12518a"/>
<rect x="393.0" y="111.7" width="3.7" height="3.7" fill="#12518a"/>
<rect x="396.9" y="110.1" width="3.7" height="3.7" fill="#12518a"/>
<rect x="400.8" y="108.6" width="3.7" height="3.7" fill="#12518a"/>
<rect x="404.7" y="107.0" width="3.7" height="3.7" fill="#12518a"/>
<rect x="408.6" y="105.5" width="3.7" height="3.7" fill="#12518a"/>
<rect x="393.0" y="122.6" width="3.7" height="3.7" fill="#12518a"/>
<line x1="431.1" y1="86.2" x2="467" y2="86.2" stroke="#333" stroke-width="1"/>
<line x1="449.2" y1="69" x2="449.2" y2="103.4" stroke="#333" stroke-width="1"/>
<line x1="441.7" y1="69" x2="456.7" y2="69" stroke="#333" stroke-width="1"/>
<line x1="441.7" y1="103.4" x2="456.7" y2="103.4" stroke="#333" stroke-width="1"/>
<path d="M445.6 51.2L447.9 55.4L443.3 55.4Z" fill="#3ab54a"/>
<path d="M452.2 56.5L454.5 60.7L449.9 60.7Z" fill="#3ab54a"/>
<path d="M459.4 61.1L461.7 65.3L457.1 65.3Z" fill="#3ab54a"/>
<path d="M439.1 63.9L441.4 68.1L436.8 68.1Z" fill="#3ab54a"/>
<path d="M446.1 64.9L448.4 69.1L443.8 69.1Z" fill="#3ab54a"/>
<path d="M452.5 64.9L454.8 69.1L450.2 69.1Z" fill="#3ab54a"/>
<path d="M434.5 71.8L436.8 76.0L432.2 76.0Z" fill="#3ab54a"/>
<path d="M439.5 72.9L441.8 77.1L437.2 77.1Z" fill="#3ab54a"/>
<path d="M436.0 76.9L438.3 81.1L433.7 81.1Z" fill="#3ab54a"/>
<path d="M444.1 74.9L446.4 79.1L441.8 79.1Z" fill="#3ab54a"/>
<path d="M449.2 76.4L451.5 80.6L446.9 80.6Z" fill="#3ab54a"/>
<path d="M454.0 72.6L456.3 76.8L451.7 76.8Z" fill="#3ab54a"/>
<path d="M459.0 72.3L461.3 76.5L456.7 76.5Z" fill="#3ab54a"/>
<path d="M464.0 71.1L466.3 75.3L461.7 75.3Z" fill="#3ab54a"/>
<path d="M442.6 81.8L444.9 86.0L440.3 86.0Z" fill="#3ab54a"/>
<path d="M449.5 82.5L451.8 86.7L447.2 86.7Z" fill="#3ab54a"/>
<path d="M445.6 85.6L447.9 89.8L443.3 89.8Z" fill="#3ab54a"/>
<path d="M456.3 81.8L458.6 86.0L454.0 86.0Z" fill="#3ab54a"/>
<path d="M462.5 81.0L464.8 85.2L460.2 85.2Z" fill="#3ab54a"/>
<path d="M436.0 90.5L438.3 94.7L433.7 94.7Z" fill="#3ab54a"/>
<path d="M452.5 89.4L454.8 93.6L450.2 93.6Z" fill="#3ab54a"/>
<path d="M442.6 95.5L444.9 99.7L440.3 99.7Z" fill="#3ab54a"/>
<path d="M449.2 97.1L451.5 101.3L446.9 101.3Z" fill="#3ab54a"/>
<path d="M455.6 95.2L457.9 99.4L453.3 99.4Z" fill="#3ab54a"/>
<path d="M462.2 94.5L464.5 98.7L459.9 98.7Z" fill="#3ab54a"/>
<path d="M434.5 99.4L436.8 103.6L432.2 103.6Z" fill="#3ab54a"/>
<path d="M439.1 102.0L441.4 106.2L436.8 106.2Z" fill="#3ab54a"/>
<path d="M444.1 103.9L446.4 108.1L441.8 108.1Z" fill="#3ab54a"/>
<path d="M449.2 105.0L451.5 109.2L446.9 109.2Z" fill="#3ab54a"/>
<path d="M454.0 102.0L456.3 106.2L451.7 106.2Z" fill="#3ab54a"/>
<path d="M459.0 101.3L461.3 105.5L456.7 105.5Z" fill="#3ab54a"/>
<path d="M464.0 98.6L466.3 102.8L461.7 102.8Z" fill="#3ab54a"/>
<path d="M449.2 135.6L451.5 139.8L446.9 139.8Z" fill="#3ab54a"/>
<text x="9.0" y="205.5" font-size="15.6" text-anchor="start" font-weight="bold" font-style="normal" fill="#111">B</text>
<text x="63.25" y="218.9" font-size="10.4" text-anchor="middle" letter-spacing="0.3" fill="#222">Bcl-2</text>
<text x="112.65" y="218.9" font-size="10.4" text-anchor="middle" letter-spacing="0.3" fill="#222">CD19</text>
<text x="161.95" y="218.9" font-size="10.4" text-anchor="middle" letter-spacing="0.3" fill="#222">HLA-DR</text>
<text x="211.75" y="218.9" font-size="10.4" text-anchor="middle" letter-spacing="0.3" fill="#222">CD27</text>
<text x="262.95" y="218.9" font-size="10.4" text-anchor="middle" letter-spacing="0.3" fill="#222">CD38</text>
<text x="312.75" y="218.9" font-size="10.4" text-anchor="middle" letter-spacing="0.3" fill="#222">IgG</text>
<text x="362.95" y="218.9" font-size="10.4" text-anchor="middle" letter-spacing="0.3" fill="#222">IgM</text>
<text x="412.55" y="218.9" font-size="10.4" text-anchor="middle" letter-spacing="0.3" fill="#222">IgD</text>
<text x="437.8" y="246.95" font-size="10" text-anchor="start" font-weight="normal" font-style="normal" fill="#222">OCl-Ly7</text>
<text x="437.8" y="283.9" font-size="10" text-anchor="start" font-weight="normal" font-style="normal" fill="#222">Nu-DUL-1</text>
<text x="437.8" y="321.8" font-size="10" text-anchor="start" font-weight="normal" font-style="normal" fill="#222">Su-DHL4</text>
<text x="437.8" y="360.9" font-size="10" text-anchor="start" font-weight="normal" font-style="normal" fill="#222">Su-DHL10</text>
<rect x="42.5" y="227.45" width="41.3" height="31.19999999999999" fill="none" stroke="#1a1a1a" stroke-width="1.4"/>
<line x1="42.5" y1="258.65" x2="42.5" y2="262.25" stroke="#1a1a1a" stroke-width="1.0"/>
<line x1="56.266666666666666" y1="258.65" x2="56.266666666666666" y2="262.25" stroke="#1a1a1a" stroke-width="1.0"/>
<line x1="70.03333333333333" y1="258.65" x2="70.03333333333333" y2="262.25" stroke="#1a1a1a" stroke-width="1.0"/>
<line x1="83.8" y1="258.65" x2="83.8" y2="262.25" stroke="#1a1a1a" stroke-width="1.0"/>
<rect x="91.9" y="227.45" width="40.900000000000006" height="31.19999999999999" fill="none" stroke="#1a1a1a" stroke-width="1.4"/>
<line x1="100.10808454843789" y1="258.65" x2="100.10808454843789" y2="261.54999999999995" stroke="#1a1a1a" stroke-width="0.95"/>
<line x1="101.42929105911439" y1="258.65" x2="101.42929105911439" y2="261.54999999999995" stroke="#1a1a1a" stroke-width="0.95"/>
<line x1="102.50879538023035" y1="258.65" x2="102.50879538023035" y2="261.54999999999995" stroke="#1a1a1a" stroke-width="0.95"/>
<line x1="103.42150327886104" y1="258.65" x2="103.42150327886104" y2="261.54999999999995" stroke="#1a1a1a" stroke-width="0.95"/>
<line x1="104.21212682265684" y1="258.65" x2="104.21212682265684" y2="261.54999999999995" stroke="#1a1a1a" stroke-width="0.95"/>
<line x1="104.9095062120228" y1="258.65" x2="104.9095062120228" y2="261.54999999999995" stroke="#1a1a1a" stroke-width="0.95"/>
<line x1="105.53333333333335" y1="258.65" x2="105.53333333333335" y2="262.25" stroke="#1a1a1a" stroke-width="0.95"/>
<line x1="109.63737560755229" y1="258.65" x2="109.63737560755229" y2="261.54999999999995" stroke="#1a1a1a" stroke-width="0.95"/>
<line x1="112.03808643934474" y1="258.65" x2="112.03808643934474" y2="261.54999999999995" stroke="#1a1a1a" stroke-width="0.95"/>
<line x1="113.74141788177124" y1="258.65" x2="113.74141788177124" y2="261.54999999999995" stroke="#1a1a1a" stroke-width="0.95"/>
<line x1="115.06262439244773" y1="258.65" x2="115.06262439244773" y2="261.54999999999995" stroke="#1a1a1a" stroke-width="0.95"/>
<line x1="116.1421287135637" y1="258.65" x2="116.1421287135637" y2="261.54999999999995" stroke="#1a1a1a" stroke-width="0.95"/>
<line x1="117.05483661219438" y1="258.65" x2="117.05483661219438" y2="261.54999999999995" stroke="#1a1a1a" stroke-width="0.95"/>
<line x1="117.84546015599018" y1="258.65" x2="117.84546015599018" y2="261.54999999999995" stroke="#1a1a1a" stroke-width="0.95"/>
<line x1="118.54283954535614" y1="258.65" x2="118.54283954535614" y2="261.54999999999995" stroke="#1a1a1a" stroke-width="0.95"/>
<line x1="119.16666666666667" y1="258.65" x2="119.16666666666667" y2="262.25" stroke="#1a1a1a" stroke-width="0.95"/>
<line x1="123.27070894088561" y1="258.65" x2="123.27070894088561" y2="261.54999999999995" stroke="#1a1a1a" stroke-width="0.95"/>
<line x1="125.67141977267806" y1="258.65" x2="125.67141977267806" y2="261.54999999999995" stroke="#1a1a1a" stroke-width="0.95"/>
<line x1="127.37475121510457" y1="258.65" x2="127.37475121510457" y2="261.54999999999995" stroke="#1a1a1a" stroke-width="0.95"/>
<line x1="128.69595772578106" y1="258.65" x2="128.69595772578106" y2="261.54999999999995" stroke="#1a1a1a" stroke-width="0.95"/>
<line x1="129.77546204689702" y1="258.65" x2="129.77546204689702" y2="261.54999999999995" stroke="#1a1a1a" stroke-width="0.95"/>
<line x1="130.6881699455277" y1="258.65" x2="130.6881699455277" y2="261.54999999999995" stroke="#1a1a1a" stroke-width="0.95"/>
<line x1="131.4787934893235" y1="258.65" x2="131.4787934893235" y2="261.54999999999995" stroke="#1a1a1a" stroke-width="0.95"/>
<line x1="132.17617287868947" y1="258.65" x2="132.17617287868947" y2="261.54999999999995" stroke="#1a1a1a" stroke-width="0.95"/>
<line x1="132.8" y1="258.65" x2="132.8" y2="262.25" stroke="#1a1a1a" stroke-width="0.95"/>
<line x1="88.5" y1="258.65" x2="91.9" y2="258.65" stroke="#1a1a1a" stroke-width="1.0"/>
<line x1="88.5" y1="250.486" x2="91.9" y2="250.486" stroke="#1a1a1a" stroke-width="1.0"/>
<line x1="88.5" y1="242.32199999999997" x2="91.9" y2="242.32199999999997" stroke="#1a1a1a" stroke-width="1.0"/>
<rect x="141.2" y="227.45" width="41.900000000000006" height="31.19999999999999" fill="none" stroke="#1a1a1a" stroke-width="1.4"/>
<line x1="171.78699999999998" y1="258.65" x2="171.78699999999998" y2="262.15" stroke="#222" stroke-width="0.9"/>
<line x1="137.79999999999998" y1="258.65" x2="141.2" y2="258.65" stroke="#1a1a1a" stroke-width="1.0"/>
<line x1="137.79999999999998" y1="250.486" x2="141.2" y2="250.486" stroke="#1a1a1a" stroke-width="1.0"/>
<line x1="137.79999999999998" y1="242.95" x2="141.2" y2="242.95" stroke="#1a1a1a" stroke-width="1.0"/>
<line x1="137.79999999999998" y1="235.414" x2="141.2" y2="235.414" stroke="#1a1a1a" stroke-width="1.0"/>
<line x1="137.79999999999998" y1="229.76199999999997" x2="141.2" y2="229.76199999999997" stroke="#1a1a1a" stroke-width="1.0"/>
<rect x="191.0" y="227.45" width="40.69999999999999" height="31.19999999999999" fill="none" stroke="#1a1a1a" stroke-width="1.4"/>
<line x1="199.1679472156827" y1="258.65" x2="199.1679472156827" y2="261.54999999999995" stroke="#1a1a1a" stroke-width="0.95"/>
<line x1="200.4826930588253" y1="258.65" x2="200.4826930588253" y2="261.54999999999995" stroke="#1a1a1a" stroke-width="0.95"/>
<line x1="201.55691863020476" y1="258.65" x2="201.55691863020476" y2="261.54999999999995" stroke="#1a1a1a" stroke-width="0.95"/>
<line x1="202.46516340952675" y1="258.65" x2="202.46516340952675" y2="261.54999999999995" stroke="#1a1a1a" stroke-width="0.95"/>
<line x1="203.25192082352402" y1="258.65" x2="203.25192082352402" y2="261.54999999999995" stroke="#1a1a1a" stroke-width="0.95"/>
<line x1="203.94589004472684" y1="258.65" x2="203.94589004472684" y2="261.54999999999995" stroke="#1a1a1a" stroke-width="0.95"/>
<line x1="204.56666666666666" y1="258.65" x2="204.56666666666666" y2="262.25" stroke="#1a1a1a" stroke-width="0.95"/>
<line x1="208.65064027450802" y1="258.65" x2="208.65064027450802" y2="261.54999999999995" stroke="#1a1a1a" stroke-width="0.95"/>
<line x1="211.0396116890301" y1="258.65" x2="211.0396116890301" y2="261.54999999999995" stroke="#1a1a1a" stroke-width="0.95"/>
<line x1="212.73461388234935" y1="258.65" x2="212.73461388234935" y2="261.54999999999995" stroke="#1a1a1a" stroke-width="0.95"/>
<line x1="214.04935972549197" y1="258.65" x2="214.04935972549197" y2="261.54999999999995" stroke="#1a1a1a" stroke-width="0.95"/>
<line x1="215.12358529687143" y1="258.65" x2="215.12358529687143" y2="261.54999999999995" stroke="#1a1a1a" stroke-width="0.95"/>
<line x1="216.03183007619342" y1="258.65" x2="216.03183007619342" y2="261.54999999999995" stroke="#1a1a1a" stroke-width="0.95"/>
<line x1="216.81858749019068" y1="258.65" x2="216.81858749019068" y2="261.54999999999995" stroke="#1a1a1a" stroke-width="0.95"/>
<line x1="217.5125567113935" y1="258.65" x2="217.5125567113935" y2="261.54999999999995" stroke="#1a1a1a" stroke-width="0.95"/>
<line x1="218.13333333333333" y1="258.65" x2="218.13333333333333" y2="262.25" stroke="#1a1a1a" stroke-width="0.95"/>
<line x1="222.21730694117468" y1="258.65" x2="222.21730694117468" y2="261.54999999999995" stroke="#1a1a1a" stroke-width="0.95"/>
<line x1="224.60627835569676" y1="258.65" x2="224.60627835569676" y2="261.54999999999995" stroke="#1a1a1a" stroke-width="0.95"/>
<line x1="226.301280549016" y1="258.65" x2="226.301280549016" y2="261.54999999999995" stroke="#1a1a1a" stroke-width="0.95"/>
<line x1="227.61602639215863" y1="258.65" x2="227.61602639215863" y2="261.54999999999995" stroke="#1a1a1a" stroke-width="0.95"/>
<line x1="228.6902519635381" y1="258.65" x2="228.6902519635381" y2="261.54999999999995" stroke="#1a1a1a" stroke-width="0.95"/>
<line x1="229.59849674286008" y1="258.65" x2="229.59849674286008" y2="261.54999999999995" stroke="#1a1a1a" stroke-width="0.95"/>
<line x1="230.38525415685734" y1="258.65" x2="230.38525415685734" y2="261.54999999999995" stroke="#1a1a1a" stroke-width="0.95"/>
<line x1="231.07922337806016" y1="258.65" x2="231.07922337806016" y2="261.54999999999995" stroke="#1a1a1a" stroke-width="0.95"/>
<line x1="231.7" y1="258.65" x2="231.7" y2="262.25" stroke="#1a1a1a" stroke-width="0.95"/>
<line x1="187.6" y1="258.65" x2="191.0" y2="258.65" stroke="#1a1a1a" stroke-width="1.0"/>
<line x1="187.6" y1="250.17199999999997" x2="191.0" y2="250.17199999999997" stroke="#1a1a1a" stroke-width="1.0"/>
<line x1="187.6" y1="241.694" x2="191.0" y2="241.694" stroke="#1a1a1a" stroke-width="1.0"/>
<rect x="242.2" y="227.45" width="41.30000000000001" height="31.19999999999999" fill="none" stroke="#1a1a1a" stroke-width="1.4"/>
<line x1="242.2" y1="258.65" x2="242.2" y2="262.25" stroke="#1a1a1a" stroke-width="1.0"/>
<line x1="255.96666666666667" y1="258.65" x2="255.96666666666667" y2="262.25" stroke="#1a1a1a" stroke-width="1.0"/>
<line x1="269.73333333333335" y1="258.65" x2="269.73333333333335" y2="262.25" stroke="#1a1a1a" stroke-width="1.0"/>
<line x1="283.5" y1="258.65" x2="283.5" y2="262.25" stroke="#1a1a1a" stroke-width="1.0"/>
<line x1="238.79999999999998" y1="258.65" x2="242.2" y2="258.65" stroke="#1a1a1a" stroke-width="1.0"/>
<line x1="238.79999999999998" y1="250.17199999999997" x2="242.2" y2="250.17199999999997" stroke="#1a1a1a" stroke-width="1.0"/>
<rect x="292.0" y="227.45" width="41.30000000000001" height="31.19999999999999" fill="none" stroke="#1a1a1a" stroke-width="1.4"/>
<line x1="300.2883592139483" y1="258.65" x2="300.2883592139483" y2="261.54999999999995" stroke="#1a1a1a" stroke-width="0.95"/>
<line x1="301.6224870596925" y1="258.65" x2="301.6224870596925" y2="261.54999999999995" stroke="#1a1a1a" stroke-width="0.95"/>
<line x1="302.7125488802815" y1="258.65" x2="302.7125488802815" y2="261.54999999999995" stroke="#1a1a1a" stroke-width="0.95"/>
<line x1="303.6341830175296" y1="258.65" x2="303.6341830175296" y2="261.54999999999995" stroke="#1a1a1a" stroke-width="0.95"/>
<line x1="304.43253882092245" y1="258.65" x2="304.43253882092245" y2="261.54999999999995" stroke="#1a1a1a" stroke-width="0.95"/>
<line x1="305.1367385466147" y1="258.65" x2="305.1367385466147" y2="261.54999999999995" stroke="#1a1a1a" stroke-width="0.95"/>
<line x1="305.76666666666665" y1="258.65" x2="305.76666666666665" y2="262.25" stroke="#1a1a1a" stroke-width="0.95"/>
<line x1="309.9108462736408" y1="258.65" x2="309.9108462736408" y2="261.54999999999995" stroke="#1a1a1a" stroke-width="0.95"/>
<line x1="312.33503593997403" y1="258.65" x2="312.33503593997403" y2="261.54999999999995" stroke="#1a1a1a" stroke-width="0.95"/>
<line x1="314.05502588061495" y1="258.65" x2="314.05502588061495" y2="261.54999999999995" stroke="#1a1a1a" stroke-width="0.95"/>
<line x1="315.38915372635915" y1="258.65" x2="315.38915372635915" y2="261.54999999999995" stroke="#1a1a1a" stroke-width="0.95"/>
<line x1="316.4792155469481" y1="258.65" x2="316.4792155469481" y2="261.54999999999995" stroke="#1a1a1a" stroke-width="0.95"/>
<line x1="317.40084968419626" y1="258.65" x2="317.40084968419626" y2="261.54999999999995" stroke="#1a1a1a" stroke-width="0.95"/>
<line x1="318.1992054875891" y1="258.65" x2="318.1992054875891" y2="261.54999999999995" stroke="#1a1a1a" stroke-width="0.95"/>
<line x1="318.90340521328136" y1="258.65" x2="318.90340521328136" y2="261.54999999999995" stroke="#1a1a1a" stroke-width="0.95"/>
<line x1="319.53333333333336" y1="258.65" x2="319.53333333333336" y2="262.25" stroke="#1a1a1a" stroke-width="0.95"/>
<line x1="323.6775129403075" y1="258.65" x2="323.6775129403075" y2="261.54999999999995" stroke="#1a1a1a" stroke-width="0.95"/>
<line x1="326.10170260664074" y1="258.65" x2="326.10170260664074" y2="261.54999999999995" stroke="#1a1a1a" stroke-width="0.95"/>
<line x1="327.82169254728166" y1="258.65" x2="327.82169254728166" y2="261.54999999999995" stroke="#1a1a1a" stroke-width="0.95"/>
<line x1="329.15582039302586" y1="258.65" x2="329.15582039302586" y2="261.54999999999995" stroke="#1a1a1a" stroke-width="0.95"/>
<line x1="330.24588221361483" y1="258.65" x2="330.24588221361483" y2="261.54999999999995" stroke="#1a1a1a" stroke-width="0.95"/>
<line x1="331.16751635086297" y1="258.65" x2="331.16751635086297" y2="261.54999999999995" stroke="#1a1a1a" stroke-width="0.95"/>
<line x1="331.9658721542558" y1="258.65" x2="331.9658721542558" y2="261.54999999999995" stroke="#1a1a1a" stroke-width="0.95"/>
<line x1="332.67007187994807" y1="258.65" x2="332.67007187994807" y2="261.54999999999995" stroke="#1a1a1a" stroke-width="0.95"/>
<line x1="333.3" y1="258.65" x2="333.3" y2="262.25" stroke="#1a1a1a" stroke-width="0.95"/>
<line x1="289.0" y1="258.65" x2="292.0" y2="258.65" stroke="#1a1a1a" stroke-width="0.95"/>
<line x1="289.0" y1="255.04999999999998" x2="292.0" y2="255.04999999999998" stroke="#1a1a1a" stroke-width="0.95"/>
<line x1="289.0" y1="251.45" x2="292.0" y2="251.45" stroke="#1a1a1a" stroke-width="0.95"/>
<line x1="289.0" y1="247.84999999999997" x2="292.0" y2="247.84999999999997" stroke="#1a1a1a" stroke-width="0.95"/>
<line x1="289.0" y1="244.24999999999997" x2="292.0" y2="244.24999999999997" stroke="#1a1a1a" stroke-width="0.95"/>
<line x1="289.0" y1="240.64999999999998" x2="292.0" y2="240.64999999999998" stroke="#1a1a1a" stroke-width="0.95"/>
<line x1="289.0" y1="237.04999999999998" x2="292.0" y2="237.04999999999998" stroke="#1a1a1a" stroke-width="0.95"/>
<line x1="289.0" y1="233.45" x2="292.0" y2="233.45" stroke="#1a1a1a" stroke-width="0.95"/>
<line x1="289.0" y1="229.84999999999997" x2="292.0" y2="229.84999999999997" stroke="#1a1a1a" stroke-width="0.95"/>
<rect x="342.2" y="227.45" width="41.30000000000001" height="31.19999999999999" fill="none" stroke="#1a1a1a" stroke-width="1.4"/>
<line x1="350.4883592139483" y1="258.65" x2="350.4883592139483" y2="261.54999999999995" stroke="#1a1a1a" stroke-width="0.95"/>
<line x1="351.8224870596925" y1="258.65" x2="351.8224870596925" y2="261.54999999999995" stroke="#1a1a1a" stroke-width="0.95"/>
<line x1="352.91254888028146" y1="258.65" x2="352.91254888028146" y2="261.54999999999995" stroke="#1a1a1a" stroke-width="0.95"/>
<line x1="353.8341830175296" y1="258.65" x2="353.8341830175296" y2="261.54999999999995" stroke="#1a1a1a" stroke-width="0.95"/>
<line x1="354.63253882092243" y1="258.65" x2="354.63253882092243" y2="261.54999999999995" stroke="#1a1a1a" stroke-width="0.95"/>
<line x1="355.3367385466147" y1="258.65" x2="355.3367385466147" y2="261.54999999999995" stroke="#1a1a1a" stroke-width="0.95"/>
<line x1="355.96666666666664" y1="258.65" x2="355.96666666666664" y2="262.25" stroke="#1a1a1a" stroke-width="0.95"/>
<line x1="360.1108462736408" y1="258.65" x2="360.1108462736408" y2="261.54999999999995" stroke="#1a1a1a" stroke-width="0.95"/>
<line x1="362.535035939974" y1="258.65" x2="362.535035939974" y2="261.54999999999995" stroke="#1a1a1a" stroke-width="0.95"/>
<line x1="364.25502588061494" y1="258.65" x2="364.25502588061494" y2="261.54999999999995" stroke="#1a1a1a" stroke-width="0.95"/>
<line x1="365.58915372635914" y1="258.65" x2="365.58915372635914" y2="261.54999999999995" stroke="#1a1a1a" stroke-width="0.95"/>
<line x1="366.6792155469481" y1="258.65" x2="366.6792155469481" y2="261.54999999999995" stroke="#1a1a1a" stroke-width="0.95"/>
<line x1="367.60084968419625" y1="258.65" x2="367.60084968419625" y2="261.54999999999995" stroke="#1a1a1a" stroke-width="0.95"/>
<line x1="368.3992054875891" y1="258.65" x2="368.3992054875891" y2="261.54999999999995" stroke="#1a1a1a" stroke-width="0.95"/>
<line x1="369.10340521328135" y1="258.65" x2="369.10340521328135" y2="261.54999999999995" stroke="#1a1a1a" stroke-width="0.95"/>
<line x1="369.73333333333335" y1="258.65" x2="369.73333333333335" y2="262.25" stroke="#1a1a1a" stroke-width="0.95"/>
<line x1="373.8775129403075" y1="258.65" x2="373.8775129403075" y2="261.54999999999995" stroke="#1a1a1a" stroke-width="0.95"/>
<line x1="376.30170260664073" y1="258.65" x2="376.30170260664073" y2="261.54999999999995" stroke="#1a1a1a" stroke-width="0.95"/>
<line x1="378.02169254728165" y1="258.65" x2="378.02169254728165" y2="261.54999999999995" stroke="#1a1a1a" stroke-width="0.95"/>
<line x1="379.35582039302585" y1="258.65" x2="379.35582039302585" y2="261.54999999999995" stroke="#1a1a1a" stroke-width="0.95"/>
<line x1="380.4458822136148" y1="258.65" x2="380.4458822136148" y2="261.54999999999995" stroke="#1a1a1a" stroke-width="0.95"/>
<line x1="381.36751635086296" y1="258.65" x2="381.36751635086296" y2="261.54999999999995" stroke="#1a1a1a" stroke-width="0.95"/>
<line x1="382.1658721542558" y1="258.65" x2="382.1658721542558" y2="261.54999999999995" stroke="#1a1a1a" stroke-width="0.95"/>
<line x1="382.87007187994806" y1="258.65" x2="382.87007187994806" y2="261.54999999999995" stroke="#1a1a1a" stroke-width="0.95"/>
<line x1="383.5" y1="258.65" x2="383.5" y2="262.25" stroke="#1a1a1a" stroke-width="0.95"/>
<line x1="338.8" y1="258.65" x2="342.2" y2="258.65" stroke="#1a1a1a" stroke-width="1.0"/>
<line x1="338.8" y1="250.17199999999997" x2="342.2" y2="250.17199999999997" stroke="#1a1a1a" stroke-width="1.0"/>
<rect x="391.8" y="227.45" width="41.099999999999966" height="31.19999999999999" fill="none" stroke="#1a1a1a" stroke-width="1.4"/>
<line x1="400.0482218811931" y1="258.65" x2="400.0482218811931" y2="261.54999999999995" stroke="#1a1a1a" stroke-width="0.95"/>
<line x1="401.37588905940345" y1="258.65" x2="401.37588905940345" y2="261.54999999999995" stroke="#1a1a1a" stroke-width="0.95"/>
<line x1="402.46067213025594" y1="258.65" x2="402.46067213025594" y2="261.54999999999995" stroke="#1a1a1a" stroke-width="0.95"/>
<line x1="403.3778431481953" y1="258.65" x2="403.3778431481953" y2="261.54999999999995" stroke="#1a1a1a" stroke-width="0.95"/>
<line x1="404.1723328217896" y1="258.65" x2="404.1723328217896" y2="261.54999999999995" stroke="#1a1a1a" stroke-width="0.95"/>
<line x1="404.8731223793188" y1="258.65" x2="404.8731223793188" y2="261.54999999999995" stroke="#1a1a1a" stroke-width="0.95"/>
<line x1="405.5" y1="258.65" x2="405.5" y2="262.25" stroke="#1a1a1a" stroke-width="0.95"/>
<line x1="409.62411094059655" y1="258.65" x2="409.62411094059655" y2="261.54999999999995" stroke="#1a1a1a" stroke-width="0.95"/>
<line x1="412.0365611896594" y1="258.65" x2="412.0365611896594" y2="261.54999999999995" stroke="#1a1a1a" stroke-width="0.95"/>
<line x1="413.7482218811931" y1="258.65" x2="413.7482218811931" y2="261.54999999999995" stroke="#1a1a1a" stroke-width="0.95"/>
<line x1="415.07588905940344" y1="258.65" x2="415.07588905940344" y2="261.54999999999995" stroke="#1a1a1a" stroke-width="0.95"/>
<line x1="416.16067213025593" y1="258.65" x2="416.16067213025593" y2="261.54999999999995" stroke="#1a1a1a" stroke-width="0.95"/>
<line x1="417.0778431481953" y1="258.65" x2="417.0778431481953" y2="261.54999999999995" stroke="#1a1a1a" stroke-width="0.95"/>
<line x1="417.8723328217896" y1="258.65" x2="417.8723328217896" y2="261.54999999999995" stroke="#1a1a1a" stroke-width="0.95"/>
<line x1="418.57312237931876" y1="258.65" x2="418.57312237931876" y2="261.54999999999995" stroke="#1a1a1a" stroke-width="0.95"/>
<line x1="419.2" y1="258.65" x2="419.2" y2="262.25" stroke="#1a1a1a" stroke-width="0.95"/>
<line x1="423.32411094059654" y1="258.65" x2="423.32411094059654" y2="261.54999999999995" stroke="#1a1a1a" stroke-width="0.95"/>
<line x1="425.73656118965937" y1="258.65" x2="425.73656118965937" y2="261.54999999999995" stroke="#1a1a1a" stroke-width="0.95"/>
<line x1="427.4482218811931" y1="258.65" x2="427.4482218811931" y2="261.54999999999995" stroke="#1a1a1a" stroke-width="0.95"/>
<line x1="428.7758890594034" y1="258.65" x2="428.7758890594034" y2="261.54999999999995" stroke="#1a1a1a" stroke-width="0.95"/>
<line x1="429.8606721302559" y1="258.65" x2="429.8606721302559" y2="261.54999999999995" stroke="#1a1a1a" stroke-width="0.95"/>
<line x1="430.7778431481953" y1="258.65" x2="430.7778431481953" y2="261.54999999999995" stroke="#1a1a1a" stroke-width="0.95"/>
<line x1="431.5723328217896" y1="258.65" x2="431.5723328217896" y2="261.54999999999995" stroke="#1a1a1a" stroke-width="0.95"/>
<line x1="432.27312237931875" y1="258.65" x2="432.27312237931875" y2="261.54999999999995" stroke="#1a1a1a" stroke-width="0.95"/>
<line x1="432.9" y1="258.65" x2="432.9" y2="262.25" stroke="#1a1a1a" stroke-width="0.95"/>
<line x1="388.8" y1="258.65" x2="391.8" y2="258.65" stroke="#1a1a1a" stroke-width="0.95"/>
<line x1="388.8" y1="255.04999999999998" x2="391.8" y2="255.04999999999998" stroke="#1a1a1a" stroke-width="0.95"/>
<line x1="388.8" y1="251.45" x2="391.8" y2="251.45" stroke="#1a1a1a" stroke-width="0.95"/>
<line x1="388.8" y1="247.84999999999997" x2="391.8" y2="247.84999999999997" stroke="#1a1a1a" stroke-width="0.95"/>
<line x1="388.8" y1="244.24999999999997" x2="391.8" y2="244.24999999999997" stroke="#1a1a1a" stroke-width="0.95"/>
<line x1="388.8" y1="240.64999999999998" x2="391.8" y2="240.64999999999998" stroke="#1a1a1a" stroke-width="0.95"/>
<line x1="388.8" y1="237.04999999999998" x2="391.8" y2="237.04999999999998" stroke="#1a1a1a" stroke-width="0.95"/>
<line x1="388.8" y1="233.45" x2="391.8" y2="233.45" stroke="#1a1a1a" stroke-width="0.95"/>
<line x1="388.8" y1="229.84999999999997" x2="391.8" y2="229.84999999999997" stroke="#1a1a1a" stroke-width="0.95"/>
<rect x="42.5" y="264.4" width="41.3" height="31.5" fill="none" stroke="#1a1a1a" stroke-width="1.4"/>
<line x1="42.5" y1="295.9" x2="42.5" y2="299.5" stroke="#1a1a1a" stroke-width="1.0"/>
<line x1="56.266666666666666" y1="295.9" x2="56.266666666666666" y2="299.5" stroke="#1a1a1a" stroke-width="1.0"/>
<line x1="70.03333333333333" y1="295.9" x2="70.03333333333333" y2="299.5" stroke="#1a1a1a" stroke-width="1.0"/>
<line x1="83.8" y1="295.9" x2="83.8" y2="299.5" stroke="#1a1a1a" stroke-width="1.0"/>
<rect x="91.9" y="264.4" width="40.900000000000006" height="31.5" fill="none" stroke="#1a1a1a" stroke-width="1.4"/>
<line x1="100.10808454843789" y1="295.9" x2="100.10808454843789" y2="298.79999999999995" stroke="#1a1a1a" stroke-width="0.95"/>
<line x1="101.42929105911439" y1="295.9" x2="101.42929105911439" y2="298.79999999999995" stroke="#1a1a1a" stroke-width="0.95"/>
<line x1="102.50879538023035" y1="295.9" x2="102.50879538023035" y2="298.79999999999995" stroke="#1a1a1a" stroke-width="0.95"/>
<line x1="103.42150327886104" y1="295.9" x2="103.42150327886104" y2="298.79999999999995" stroke="#1a1a1a" stroke-width="0.95"/>
<line x1="104.21212682265684" y1="295.9" x2="104.21212682265684" y2="298.79999999999995" stroke="#1a1a1a" stroke-width="0.95"/>
<line x1="104.9095062120228" y1="295.9" x2="104.9095062120228" y2="298.79999999999995" stroke="#1a1a1a" stroke-width="0.95"/>
<line x1="105.53333333333335" y1="295.9" x2="105.53333333333335" y2="299.5" stroke="#1a1a1a" stroke-width="0.95"/>
<line x1="109.63737560755229" y1="295.9" x2="109.63737560755229" y2="298.79999999999995" stroke="#1a1a1a" stroke-width="0.95"/>
<line x1="112.03808643934474" y1="295.9" x2="112.03808643934474" y2="298.79999999999995" stroke="#1a1a1a" stroke-width="0.95"/>
<line x1="113.74141788177124" y1="295.9" x2="113.74141788177124" y2="298.79999999999995" stroke="#1a1a1a" stroke-width="0.95"/>
<line x1="115.06262439244773" y1="295.9" x2="115.06262439244773" y2="298.79999999999995" stroke="#1a1a1a" stroke-width="0.95"/>
<line x1="116.1421287135637" y1="295.9" x2="116.1421287135637" y2="298.79999999999995" stroke="#1a1a1a" stroke-width="0.95"/>
<line x1="117.05483661219438" y1="295.9" x2="117.05483661219438" y2="298.79999999999995" stroke="#1a1a1a" stroke-width="0.95"/>
<line x1="117.84546015599018" y1="295.9" x2="117.84546015599018" y2="298.79999999999995" stroke="#1a1a1a" stroke-width="0.95"/>
<line x1="118.54283954535614" y1="295.9" x2="118.54283954535614" y2="298.79999999999995" stroke="#1a1a1a" stroke-width="0.95"/>
<line x1="119.16666666666667" y1="295.9" x2="119.16666666666667" y2="299.5" stroke="#1a1a1a" stroke-width="0.95"/>
<line x1="123.27070894088561" y1="295.9" x2="123.27070894088561" y2="298.79999999999995" stroke="#1a1a1a" stroke-width="0.95"/>
<line x1="125.67141977267806" y1="295.9" x2="125.67141977267806" y2="298.79999999999995" stroke="#1a1a1a" stroke-width="0.95"/>
<line x1="127.37475121510457" y1="295.9" x2="127.37475121510457" y2="298.79999999999995" stroke="#1a1a1a" stroke-width="0.95"/>
<line x1="128.69595772578106" y1="295.9" x2="128.69595772578106" y2="298.79999999999995" stroke="#1a1a1a" stroke-width="0.95"/>
<line x1="129.77546204689702" y1="295.9" x2="129.77546204689702" y2="298.79999999999995" stroke="#1a1a1a" stroke-width="0.95"/>
<line x1="130.6881699455277" y1="295.9" x2="130.6881699455277" y2="298.79999999999995" stroke="#1a1a1a" stroke-width="0.95"/>
<line x1="131.4787934893235" y1="295.9" x2="131.4787934893235" y2="298.79999999999995" stroke="#1a1a1a" stroke-width="0.95"/>
<line x1="132.17617287868947" y1="295.9" x2="132.17617287868947" y2="298.79999999999995" stroke="#1a1a1a" stroke-width="0.95"/>
<line x1="132.8" y1="295.9" x2="132.8" y2="299.5" stroke="#1a1a1a" stroke-width="0.95"/>
<line x1="88.5" y1="295.9" x2="91.9" y2="295.9" stroke="#1a1a1a" stroke-width="1.0"/>
<line x1="88.5" y1="283.34" x2="91.9" y2="283.34" stroke="#1a1a1a" stroke-width="1.0"/>
<rect x="141.2" y="264.4" width="41.900000000000006" height="31.5" fill="none" stroke="#1a1a1a" stroke-width="1.4"/>
<line x1="149.60877121221387" y1="295.9" x2="149.60877121221387" y2="298.79999999999995" stroke="#1a1a1a" stroke-width="0.95"/>
<line x1="150.96228106055972" y1="295.9" x2="150.96228106055972" y2="298.79999999999995" stroke="#1a1a1a" stroke-width="0.95"/>
<line x1="152.0681791303582" y1="295.9" x2="152.0681791303582" y2="298.79999999999995" stroke="#1a1a1a" stroke-width="0.95"/>
<line x1="153.00320262553245" y1="295.9" x2="153.00320262553245" y2="298.79999999999995" stroke="#1a1a1a" stroke-width="0.95"/>
<line x1="153.8131568183208" y1="295.9" x2="153.8131568183208" y2="298.79999999999995" stroke="#1a1a1a" stroke-width="0.95"/>
<line x1="154.52758704850257" y1="295.9" x2="154.52758704850257" y2="298.79999999999995" stroke="#1a1a1a" stroke-width="0.95"/>
<line x1="155.16666666666666" y1="295.9" x2="155.16666666666666" y2="299.5" stroke="#1a1a1a" stroke-width="0.95"/>
<line x1="159.3710522727736" y1="295.9" x2="159.3710522727736" y2="298.79999999999995" stroke="#1a1a1a" stroke-width="0.95"/>
<line x1="161.83046019091793" y1="295.9" x2="161.83046019091793" y2="298.79999999999995" stroke="#1a1a1a" stroke-width="0.95"/>
<line x1="163.57543787888054" y1="295.9" x2="163.57543787888054" y2="298.79999999999995" stroke="#1a1a1a" stroke-width="0.95"/>
<line x1="164.9289477272264" y1="295.9" x2="164.9289477272264" y2="298.79999999999995" stroke="#1a1a1a" stroke-width="0.95"/>
<line x1="166.03484579702487" y1="295.9" x2="166.03484579702487" y2="298.79999999999995" stroke="#1a1a1a" stroke-width="0.95"/>
<line x1="166.96986929219912" y1="295.9" x2="166.96986929219912" y2="298.79999999999995" stroke="#1a1a1a" stroke-width="0.95"/>
<line x1="167.77982348498747" y1="295.9" x2="167.77982348498747" y2="298.79999999999995" stroke="#1a1a1a" stroke-width="0.95"/>
<line x1="168.49425371516924" y1="295.9" x2="168.49425371516924" y2="298.79999999999995" stroke="#1a1a1a" stroke-width="0.95"/>
<line x1="169.13333333333333" y1="295.9" x2="169.13333333333333" y2="299.5" stroke="#1a1a1a" stroke-width="0.95"/>
<line x1="173.33771893944026" y1="295.9" x2="173.33771893944026" y2="298.79999999999995" stroke="#1a1a1a" stroke-width="0.95"/>
<line x1="175.7971268575846" y1="295.9" x2="175.7971268575846" y2="298.79999999999995" stroke="#1a1a1a" stroke-width="0.95"/>
<line x1="177.5421045455472" y1="295.9" x2="177.5421045455472" y2="298.79999999999995" stroke="#1a1a1a" stroke-width="0.95"/>
<line x1="178.89561439389306" y1="295.9" x2="178.89561439389306" y2="298.79999999999995" stroke="#1a1a1a" stroke-width="0.95"/>
<line x1="180.00151246369154" y1="295.9" x2="180.00151246369154" y2="298.79999999999995" stroke="#1a1a1a" stroke-width="0.95"/>
<line x1="180.9365359588658" y1="295.9" x2="180.9365359588658" y2="298.79999999999995" stroke="#1a1a1a" stroke-width="0.95"/>
<line x1="181.74649015165414" y1="295.9" x2="181.74649015165414" y2="298.79999999999995" stroke="#1a1a1a" stroke-width="0.95"/>
<line x1="182.4609203818359" y1="295.9" x2="182.4609203818359" y2="298.79999999999995" stroke="#1a1a1a" stroke-width="0.95"/>
<line x1="183.1" y1="295.9" x2="183.1" y2="299.5" stroke="#1a1a1a" stroke-width="0.95"/>
<line x1="137.79999999999998" y1="295.9" x2="141.2" y2="295.9" stroke="#1a1a1a" stroke-width="1.0"/>
<line x1="137.79999999999998" y1="286.47999999999996" x2="141.2" y2="286.47999999999996" stroke="#1a1a1a" stroke-width="1.0"/>
<rect x="191.0" y="264.4" width="40.69999999999999" height="31.5" fill="none" stroke="#1a1a1a" stroke-width="1.4"/>
<line x1="199.1679472156827" y1="295.9" x2="199.1679472156827" y2="298.79999999999995" stroke="#1a1a1a" stroke-width="0.95"/>
<line x1="200.4826930588253" y1="295.9" x2="200.4826930588253" y2="298.79999999999995" stroke="#1a1a1a" stroke-width="0.95"/>
<line x1="201.55691863020476" y1="295.9" x2="201.55691863020476" y2="298.79999999999995" stroke="#1a1a1a" stroke-width="0.95"/>
<line x1="202.46516340952675" y1="295.9" x2="202.46516340952675" y2="298.79999999999995" stroke="#1a1a1a" stroke-width="0.95"/>
<line x1="203.25192082352402" y1="295.9" x2="203.25192082352402" y2="298.79999999999995" stroke="#1a1a1a" stroke-width="0.95"/>
<line x1="203.94589004472684" y1="295.9" x2="203.94589004472684" y2="298.79999999999995" stroke="#1a1a1a" stroke-width="0.95"/>
<line x1="204.56666666666666" y1="295.9" x2="204.56666666666666" y2="299.5" stroke="#1a1a1a" stroke-width="0.95"/>
<line x1="208.65064027450802" y1="295.9" x2="208.65064027450802" y2="298.79999999999995" stroke="#1a1a1a" stroke-width="0.95"/>
<line x1="211.0396116890301" y1="295.9" x2="211.0396116890301" y2="298.79999999999995" stroke="#1a1a1a" stroke-width="0.95"/>
<line x1="212.73461388234935" y1="295.9" x2="212.73461388234935" y2="298.79999999999995" stroke="#1a1a1a" stroke-width="0.95"/>
<line x1="214.04935972549197" y1="295.9" x2="214.04935972549197" y2="298.79999999999995" stroke="#1a1a1a" stroke-width="0.95"/>
<line x1="215.12358529687143" y1="295.9" x2="215.12358529687143" y2="298.79999999999995" stroke="#1a1a1a" stroke-width="0.95"/>
<line x1="216.03183007619342" y1="295.9" x2="216.03183007619342" y2="298.79999999999995" stroke="#1a1a1a" stroke-width="0.95"/>
<line x1="216.81858749019068" y1="295.9" x2="216.81858749019068" y2="298.79999999999995" stroke="#1a1a1a" stroke-width="0.95"/>
<line x1="217.5125567113935" y1="295.9" x2="217.5125567113935" y2="298.79999999999995" stroke="#1a1a1a" stroke-width="0.95"/>
<line x1="218.13333333333333" y1="295.9" x2="218.13333333333333" y2="299.5" stroke="#1a1a1a" stroke-width="0.95"/>
<line x1="222.21730694117468" y1="295.9" x2="222.21730694117468" y2="298.79999999999995" stroke="#1a1a1a" stroke-width="0.95"/>
<line x1="224.60627835569676" y1="295.9" x2="224.60627835569676" y2="298.79999999999995" stroke="#1a1a1a" stroke-width="0.95"/>
<line x1="226.301280549016" y1="295.9" x2="226.301280549016" y2="298.79999999999995" stroke="#1a1a1a" stroke-width="0.95"/>
<line x1="227.61602639215863" y1="295.9" x2="227.61602639215863" y2="298.79999999999995" stroke="#1a1a1a" stroke-width="0.95"/>
<line x1="228.6902519635381" y1="295.9" x2="228.6902519635381" y2="298.79999999999995" stroke="#1a1a1a" stroke-width="0.95"/>
<line x1="229.59849674286008" y1="295.9" x2="229.59849674286008" y2="298.79999999999995" stroke="#1a1a1a" stroke-width="0.95"/>
<line x1="230.38525415685734" y1="295.9" x2="230.38525415685734" y2="298.79999999999995" stroke="#1a1a1a" stroke-width="0.95"/>
<line x1="231.07922337806016" y1="295.9" x2="231.07922337806016" y2="298.79999999999995" stroke="#1a1a1a" stroke-width="0.95"/>
<line x1="231.7" y1="295.9" x2="231.7" y2="299.5" stroke="#1a1a1a" stroke-width="0.95"/>
<rect x="242.2" y="264.4" width="41.30000000000001" height="31.5" fill="none" stroke="#1a1a1a" stroke-width="1.4"/>
<line x1="242.2" y1="295.9" x2="242.2" y2="299.5" stroke="#1a1a1a" stroke-width="1.0"/>
<line x1="255.96666666666667" y1="295.9" x2="255.96666666666667" y2="299.5" stroke="#1a1a1a" stroke-width="1.0"/>
<line x1="269.73333333333335" y1="295.9" x2="269.73333333333335" y2="299.5" stroke="#1a1a1a" stroke-width="1.0"/>
<line x1="283.5" y1="295.9" x2="283.5" y2="299.5" stroke="#1a1a1a" stroke-width="1.0"/>
<rect x="292.0" y="264.4" width="41.30000000000001" height="31.5" fill="none" stroke="#1a1a1a" stroke-width="1.4"/>
<line x1="300.2883592139483" y1="295.9" x2="300.2883592139483" y2="298.79999999999995" stroke="#1a1a1a" stroke-width="0.95"/>
<line x1="301.6224870596925" y1="295.9" x2="301.6224870596925" y2="298.79999999999995" stroke="#1a1a1a" stroke-width="0.95"/>
<line x1="302.7125488802815" y1="295.9" x2="302.7125488802815" y2="298.79999999999995" stroke="#1a1a1a" stroke-width="0.95"/>
<line x1="303.6341830175296" y1="295.9" x2="303.6341830175296" y2="298.79999999999995" stroke="#1a1a1a" stroke-width="0.95"/>
<line x1="304.43253882092245" y1="295.9" x2="304.43253882092245" y2="298.79999999999995" stroke="#1a1a1a" stroke-width="0.95"/>
<line x1="305.1367385466147" y1="295.9" x2="305.1367385466147" y2="298.79999999999995" stroke="#1a1a1a" stroke-width="0.95"/>
<line x1="305.76666666666665" y1="295.9" x2="305.76666666666665" y2="299.5" stroke="#1a1a1a" stroke-width="0.95"/>
<line x1="309.9108462736408" y1="295.9" x2="309.9108462736408" y2="298.79999999999995" stroke="#1a1a1a" stroke-width="0.95"/>
<line x1="312.33503593997403" y1="295.9" x2="312.33503593997403" y2="298.79999999999995" stroke="#1a1a1a" stroke-width="0.95"/>
<line x1="314.05502588061495" y1="295.9" x2="314.05502588061495" y2="298.79999999999995" stroke="#1a1a1a" stroke-width="0.95"/>
<line x1="315.38915372635915" y1="295.9" x2="315.38915372635915" y2="298.79999999999995" stroke="#1a1a1a" stroke-width="0.95"/>
<line x1="316.4792155469481" y1="295.9" x2="316.4792155469481" y2="298.79999999999995" stroke="#1a1a1a" stroke-width="0.95"/>
<line x1="317.40084968419626" y1="295.9" x2="317.40084968419626" y2="298.79999999999995" stroke="#1a1a1a" stroke-width="0.95"/>
<line x1="318.1992054875891" y1="295.9" x2="318.1992054875891" y2="298.79999999999995" stroke="#1a1a1a" stroke-width="0.95"/>
<line x1="318.90340521328136" y1="295.9" x2="318.90340521328136" y2="298.79999999999995" stroke="#1a1a1a" stroke-width="0.95"/>
<line x1="319.53333333333336" y1="295.9" x2="319.53333333333336" y2="299.5" stroke="#1a1a1a" stroke-width="0.95"/>
<line x1="323.6775129403075" y1="295.9" x2="323.6775129403075" y2="298.79999999999995" stroke="#1a1a1a" stroke-width="0.95"/>
<line x1="326.10170260664074" y1="295.9" x2="326.10170260664074" y2="298.79999999999995" stroke="#1a1a1a" stroke-width="0.95"/>
<line x1="327.82169254728166" y1="295.9" x2="327.82169254728166" y2="298.79999999999995" stroke="#1a1a1a" stroke-width="0.95"/>
<line x1="329.15582039302586" y1="295.9" x2="329.15582039302586" y2="298.79999999999995" stroke="#1a1a1a" stroke-width="0.95"/>
<line x1="330.24588221361483" y1="295.9" x2="330.24588221361483" y2="298.79999999999995" stroke="#1a1a1a" stroke-width="0.95"/>
<line x1="331.16751635086297" y1="295.9" x2="331.16751635086297" y2="298.79999999999995" stroke="#1a1a1a" stroke-width="0.95"/>
<line x1="331.9658721542558" y1="295.9" x2="331.9658721542558" y2="298.79999999999995" stroke="#1a1a1a" stroke-width="0.95"/>
<line x1="332.67007187994807" y1="295.9" x2="332.67007187994807" y2="298.79999999999995" stroke="#1a1a1a" stroke-width="0.95"/>
<line x1="333.3" y1="295.9" x2="333.3" y2="299.5" stroke="#1a1a1a" stroke-width="0.95"/>
<line x1="288.6" y1="295.9" x2="292.0" y2="295.9" stroke="#1a1a1a" stroke-width="1.0"/>
<line x1="288.6" y1="286.47999999999996" x2="292.0" y2="286.47999999999996" stroke="#1a1a1a" stroke-width="1.0"/>
<line x1="288.6" y1="277.06" x2="292.0" y2="277.06" stroke="#1a1a1a" stroke-width="1.0"/>
<rect x="342.2" y="264.4" width="41.30000000000001" height="31.5" fill="none" stroke="#1a1a1a" stroke-width="1.4"/>
<line x1="350.4883592139483" y1="295.9" x2="350.4883592139483" y2="298.79999999999995" stroke="#1a1a1a" stroke-width="0.95"/>
<line x1="351.8224870596925" y1="295.9" x2="351.8224870596925" y2="298.79999999999995" stroke="#1a1a1a" stroke-width="0.95"/>
<line x1="352.91254888028146" y1="295.9" x2="352.91254888028146" y2="298.79999999999995" stroke="#1a1a1a" stroke-width="0.95"/>
<line x1="353.8341830175296" y1="295.9" x2="353.8341830175296" y2="298.79999999999995" stroke="#1a1a1a" stroke-width="0.95"/>
<line x1="354.63253882092243" y1="295.9" x2="354.63253882092243" y2="298.79999999999995" stroke="#1a1a1a" stroke-width="0.95"/>
<line x1="355.3367385466147" y1="295.9" x2="355.3367385466147" y2="298.79999999999995" stroke="#1a1a1a" stroke-width="0.95"/>
<line x1="355.96666666666664" y1="295.9" x2="355.96666666666664" y2="299.5" stroke="#1a1a1a" stroke-width="0.95"/>
<line x1="360.1108462736408" y1="295.9" x2="360.1108462736408" y2="298.79999999999995" stroke="#1a1a1a" stroke-width="0.95"/>
<line x1="362.535035939974" y1="295.9" x2="362.535035939974" y2="298.79999999999995" stroke="#1a1a1a" stroke-width="0.95"/>
<line x1="364.25502588061494" y1="295.9" x2="364.25502588061494" y2="298.79999999999995" stroke="#1a1a1a" stroke-width="0.95"/>
<line x1="365.58915372635914" y1="295.9" x2="365.58915372635914" y2="298.79999999999995" stroke="#1a1a1a" stroke-width="0.95"/>
<line x1="366.6792155469481" y1="295.9" x2="366.6792155469481" y2="298.79999999999995" stroke="#1a1a1a" stroke-width="0.95"/>
<line x1="367.60084968419625" y1="295.9" x2="367.60084968419625" y2="298.79999999999995" stroke="#1a1a1a" stroke-width="0.95"/>
<line x1="368.3992054875891" y1="295.9" x2="368.3992054875891" y2="298.79999999999995" stroke="#1a1a1a" stroke-width="0.95"/>
<line x1="369.10340521328135" y1="295.9" x2="369.10340521328135" y2="298.79999999999995" stroke="#1a1a1a" stroke-width="0.95"/>
<line x1="369.73333333333335" y1="295.9" x2="369.73333333333335" y2="299.5" stroke="#1a1a1a" stroke-width="0.95"/>
<line x1="373.8775129403075" y1="295.9" x2="373.8775129403075" y2="298.79999999999995" stroke="#1a1a1a" stroke-width="0.95"/>
<line x1="376.30170260664073" y1="295.9" x2="376.30170260664073" y2="298.79999999999995" stroke="#1a1a1a" stroke-width="0.95"/>
<line x1="378.02169254728165" y1="295.9" x2="378.02169254728165" y2="298.79999999999995" stroke="#1a1a1a" stroke-width="0.95"/>
<line x1="379.35582039302585" y1="295.9" x2="379.35582039302585" y2="298.79999999999995" stroke="#1a1a1a" stroke-width="0.95"/>
<line x1="380.4458822136148" y1="295.9" x2="380.4458822136148" y2="298.79999999999995" stroke="#1a1a1a" stroke-width="0.95"/>
<line x1="381.36751635086296" y1="295.9" x2="381.36751635086296" y2="298.79999999999995" stroke="#1a1a1a" stroke-width="0.95"/>
<line x1="382.1658721542558" y1="295.9" x2="382.1658721542558" y2="298.79999999999995" stroke="#1a1a1a" stroke-width="0.95"/>
<line x1="382.87007187994806" y1="295.9" x2="382.87007187994806" y2="298.79999999999995" stroke="#1a1a1a" stroke-width="0.95"/>
<line x1="383.5" y1="295.9" x2="383.5" y2="299.5" stroke="#1a1a1a" stroke-width="0.95"/>
<rect x="391.8" y="264.4" width="41.099999999999966" height="31.5" fill="none" stroke="#1a1a1a" stroke-width="1.4"/>
<line x1="400.0482218811931" y1="295.9" x2="400.0482218811931" y2="298.79999999999995" stroke="#1a1a1a" stroke-width="0.95"/>
<line x1="401.37588905940345" y1="295.9" x2="401.37588905940345" y2="298.79999999999995" stroke="#1a1a1a" stroke-width="0.95"/>
<line x1="402.46067213025594" y1="295.9" x2="402.46067213025594" y2="298.79999999999995" stroke="#1a1a1a" stroke-width="0.95"/>
<line x1="403.3778431481953" y1="295.9" x2="403.3778431481953" y2="298.79999999999995" stroke="#1a1a1a" stroke-width="0.95"/>
<line x1="404.1723328217896" y1="295.9" x2="404.1723328217896" y2="298.79999999999995" stroke="#1a1a1a" stroke-width="0.95"/>
<line x1="404.8731223793188" y1="295.9" x2="404.8731223793188" y2="298.79999999999995" stroke="#1a1a1a" stroke-width="0.95"/>
<line x1="405.5" y1="295.9" x2="405.5" y2="299.5" stroke="#1a1a1a" stroke-width="0.95"/>
<line x1="409.62411094059655" y1="295.9" x2="409.62411094059655" y2="298.79999999999995" stroke="#1a1a1a" stroke-width="0.95"/>
<line x1="412.0365611896594" y1="295.9" x2="412.0365611896594" y2="298.79999999999995" stroke="#1a1a1a" stroke-width="0.95"/>
<line x1="413.7482218811931" y1="295.9" x2="413.7482218811931" y2="298.79999999999995" stroke="#1a1a1a" stroke-width="0.95"/>
<line x1="415.07588905940344" y1="295.9" x2="415.07588905940344" y2="298.79999999999995" stroke="#1a1a1a" stroke-width="0.95"/>
<line x1="416.16067213025593" y1="295.9" x2="416.16067213025593" y2="298.79999999999995" stroke="#1a1a1a" stroke-width="0.95"/>
<line x1="417.0778431481953" y1="295.9" x2="417.0778431481953" y2="298.79999999999995" stroke="#1a1a1a" stroke-width="0.95"/>
<line x1="417.8723328217896" y1="295.9" x2="417.8723328217896" y2="298.79999999999995" stroke="#1a1a1a" stroke-width="0.95"/>
<line x1="418.57312237931876" y1="295.9" x2="418.57312237931876" y2="298.79999999999995" stroke="#1a1a1a" stroke-width="0.95"/>
<line x1="419.2" y1="295.9" x2="419.2" y2="299.5" stroke="#1a1a1a" stroke-width="0.95"/>
<line x1="423.32411094059654" y1="295.9" x2="423.32411094059654" y2="298.79999999999995" stroke="#1a1a1a" stroke-width="0.95"/>
<line x1="425.73656118965937" y1="295.9" x2="425.73656118965937" y2="298.79999999999995" stroke="#1a1a1a" stroke-width="0.95"/>
<line x1="427.4482218811931" y1="295.9" x2="427.4482218811931" y2="298.79999999999995" stroke="#1a1a1a" stroke-width="0.95"/>
<line x1="428.7758890594034" y1="295.9" x2="428.7758890594034" y2="298.79999999999995" stroke="#1a1a1a" stroke-width="0.95"/>
<line x1="429.8606721302559" y1="295.9" x2="429.8606721302559" y2="298.79999999999995" stroke="#1a1a1a" stroke-width="0.95"/>
<line x1="430.7778431481953" y1="295.9" x2="430.7778431481953" y2="298.79999999999995" stroke="#1a1a1a" stroke-width="0.95"/>
<line x1="431.5723328217896" y1="295.9" x2="431.5723328217896" y2="298.79999999999995" stroke="#1a1a1a" stroke-width="0.95"/>
<line x1="432.27312237931875" y1="295.9" x2="432.27312237931875" y2="298.79999999999995" stroke="#1a1a1a" stroke-width="0.95"/>
<line x1="432.9" y1="295.9" x2="432.9" y2="299.5" stroke="#1a1a1a" stroke-width="0.95"/>
<line x1="388.40000000000003" y1="295.9" x2="391.8" y2="295.9" stroke="#1a1a1a" stroke-width="1.0"/>
<line x1="388.40000000000003" y1="284.90999999999997" x2="391.8" y2="284.90999999999997" stroke="#1a1a1a" stroke-width="1.0"/>
<rect x="42.5" y="302.3" width="41.3" height="31.599999999999966" fill="none" stroke="#1a1a1a" stroke-width="1.4"/>
<line x1="42.5" y1="333.9" x2="42.5" y2="337.5" stroke="#1a1a1a" stroke-width="1.0"/>
<line x1="56.266666666666666" y1="333.9" x2="56.266666666666666" y2="337.5" stroke="#1a1a1a" stroke-width="1.0"/>
<line x1="70.03333333333333" y1="333.9" x2="70.03333333333333" y2="337.5" stroke="#1a1a1a" stroke-width="1.0"/>
<line x1="83.8" y1="333.9" x2="83.8" y2="337.5" stroke="#1a1a1a" stroke-width="1.0"/>
<rect x="91.9" y="302.3" width="40.900000000000006" height="31.599999999999966" fill="none" stroke="#1a1a1a" stroke-width="1.4"/>
<line x1="100.10808454843789" y1="333.9" x2="100.10808454843789" y2="336.79999999999995" stroke="#1a1a1a" stroke-width="0.95"/>
<line x1="101.42929105911439" y1="333.9" x2="101.42929105911439" y2="336.79999999999995" stroke="#1a1a1a" stroke-width="0.95"/>
<line x1="102.50879538023035" y1="333.9" x2="102.50879538023035" y2="336.79999999999995" stroke="#1a1a1a" stroke-width="0.95"/>
<line x1="103.42150327886104" y1="333.9" x2="103.42150327886104" y2="336.79999999999995" stroke="#1a1a1a" stroke-width="0.95"/>
<line x1="104.21212682265684" y1="333.9" x2="104.21212682265684" y2="336.79999999999995" stroke="#1a1a1a" stroke-width="0.95"/>
<line x1="104.9095062120228" y1="333.9" x2="104.9095062120228" y2="336.79999999999995" stroke="#1a1a1a" stroke-width="0.95"/>
<line x1="105.53333333333335" y1="333.9" x2="105.53333333333335" y2="337.5" stroke="#1a1a1a" stroke-width="0.95"/>
<line x1="109.63737560755229" y1="333.9" x2="109.63737560755229" y2="336.79999999999995" stroke="#1a1a1a" stroke-width="0.95"/>
<line x1="112.03808643934474" y1="333.9" x2="112.03808643934474" y2="336.79999999999995" stroke="#1a1a1a" stroke-width="0.95"/>
<line x1="113.74141788177124" y1="333.9" x2="113.74141788177124" y2="336.79999999999995" stroke="#1a1a1a" stroke-width="0.95"/>
<line x1="115.06262439244773" y1="333.9" x2="115.06262439244773" y2="336.79999999999995" stroke="#1a1a1a" stroke-width="0.95"/>
<line x1="116.1421287135637" y1="333.9" x2="116.1421287135637" y2="336.79999999999995" stroke="#1a1a1a" stroke-width="0.95"/>
<line x1="117.05483661219438" y1="333.9" x2="117.05483661219438" y2="336.79999999999995" stroke="#1a1a1a" stroke-width="0.95"/>
<line x1="117.84546015599018" y1="333.9" x2="117.84546015599018" y2="336.79999999999995" stroke="#1a1a1a" stroke-width="0.95"/>
<line x1="118.54283954535614" y1="333.9" x2="118.54283954535614" y2="336.79999999999995" stroke="#1a1a1a" stroke-width="0.95"/>
<line x1="119.16666666666667" y1="333.9" x2="119.16666666666667" y2="337.5" stroke="#1a1a1a" stroke-width="0.95"/>
<line x1="123.27070894088561" y1="333.9" x2="123.27070894088561" y2="336.79999999999995" stroke="#1a1a1a" stroke-width="0.95"/>
<line x1="125.67141977267806" y1="333.9" x2="125.67141977267806" y2="336.79999999999995" stroke="#1a1a1a" stroke-width="0.95"/>
<line x1="127.37475121510457" y1="333.9" x2="127.37475121510457" y2="336.79999999999995" stroke="#1a1a1a" stroke-width="0.95"/>
<line x1="128.69595772578106" y1="333.9" x2="128.69595772578106" y2="336.79999999999995" stroke="#1a1a1a" stroke-width="0.95"/>
<line x1="129.77546204689702" y1="333.9" x2="129.77546204689702" y2="336.79999999999995" stroke="#1a1a1a" stroke-width="0.95"/>
<line x1="130.6881699455277" y1="333.9" x2="130.6881699455277" y2="336.79999999999995" stroke="#1a1a1a" stroke-width="0.95"/>
<line x1="131.4787934893235" y1="333.9" x2="131.4787934893235" y2="336.79999999999995" stroke="#1a1a1a" stroke-width="0.95"/>
<line x1="132.17617287868947" y1="333.9" x2="132.17617287868947" y2="336.79999999999995" stroke="#1a1a1a" stroke-width="0.95"/>
<line x1="132.8" y1="333.9" x2="132.8" y2="337.5" stroke="#1a1a1a" stroke-width="0.95"/>
<line x1="88.9" y1="333.9" x2="91.9" y2="333.9" stroke="#1a1a1a" stroke-width="0.95"/>
<line x1="88.9" y1="330.29999999999995" x2="91.9" y2="330.29999999999995" stroke="#1a1a1a" stroke-width="0.95"/>
<line x1="88.9" y1="326.7" x2="91.9" y2="326.7" stroke="#1a1a1a" stroke-width="0.95"/>
<line x1="88.9" y1="323.09999999999997" x2="91.9" y2="323.09999999999997" stroke="#1a1a1a" stroke-width="0.95"/>
<line x1="88.9" y1="319.5" x2="91.9" y2="319.5" stroke="#1a1a1a" stroke-width="0.95"/>
<line x1="88.9" y1="315.9" x2="91.9" y2="315.9" stroke="#1a1a1a" stroke-width="0.95"/>
<line x1="88.9" y1="312.29999999999995" x2="91.9" y2="312.29999999999995" stroke="#1a1a1a" stroke-width="0.95"/>
<line x1="88.9" y1="308.7" x2="91.9" y2="308.7" stroke="#1a1a1a" stroke-width="0.95"/>
<line x1="88.9" y1="305.09999999999997" x2="91.9" y2="305.09999999999997" stroke="#1a1a1a" stroke-width="0.95"/>
<rect x="141.2" y="302.3" width="41.900000000000006" height="31.599999999999966" fill="none" stroke="#1a1a1a" stroke-width="1.4"/>
<line x1="149.60877121221387" y1="333.9" x2="149.60877121221387" y2="336.79999999999995" stroke="#1a1a1a" stroke-width="0.95"/>
<line x1="150.96228106055972" y1="333.9" x2="150.96228106055972" y2="336.79999999999995" stroke="#1a1a1a" stroke-width="0.95"/>
<line x1="152.0681791303582" y1="333.9" x2="152.0681791303582" y2="336.79999999999995" stroke="#1a1a1a" stroke-width="0.95"/>
<line x1="153.00320262553245" y1="333.9" x2="153.00320262553245" y2="336.79999999999995" stroke="#1a1a1a" stroke-width="0.95"/>
<line x1="153.8131568183208" y1="333.9" x2="153.8131568183208" y2="336.79999999999995" stroke="#1a1a1a" stroke-width="0.95"/>
<line x1="154.52758704850257" y1="333.9" x2="154.52758704850257" y2="336.79999999999995" stroke="#1a1a1a" stroke-width="0.95"/>
<line x1="155.16666666666666" y1="333.9" x2="155.16666666666666" y2="337.5" stroke="#1a1a1a" stroke-width="0.95"/>
<line x1="159.3710522727736" y1="333.9" x2="159.3710522727736" y2="336.79999999999995" stroke="#1a1a1a" stroke-width="0.95"/>
<line x1="161.83046019091793" y1="333.9" x2="161.83046019091793" y2="336.79999999999995" stroke="#1a1a1a" stroke-width="0.95"/>
<line x1="163.57543787888054" y1="333.9" x2="163.57543787888054" y2="336.79999999999995" stroke="#1a1a1a" stroke-width="0.95"/>
<line x1="164.9289477272264" y1="333.9" x2="164.9289477272264" y2="336.79999999999995" stroke="#1a1a1a" stroke-width="0.95"/>
<line x1="166.03484579702487" y1="333.9" x2="166.03484579702487" y2="336.79999999999995" stroke="#1a1a1a" stroke-width="0.95"/>
<line x1="166.96986929219912" y1="333.9" x2="166.96986929219912" y2="336.79999999999995" stroke="#1a1a1a" stroke-width="0.95"/>
<line x1="167.77982348498747" y1="333.9" x2="167.77982348498747" y2="336.79999999999995" stroke="#1a1a1a" stroke-width="0.95"/>
<line x1="168.49425371516924" y1="333.9" x2="168.49425371516924" y2="336.79999999999995" stroke="#1a1a1a" stroke-width="0.95"/>
<line x1="169.13333333333333" y1="333.9" x2="169.13333333333333" y2="337.5" stroke="#1a1a1a" stroke-width="0.95"/>
<line x1="173.33771893944026" y1="333.9" x2="173.33771893944026" y2="336.79999999999995" stroke="#1a1a1a" stroke-width="0.95"/>
<line x1="175.7971268575846" y1="333.9" x2="175.7971268575846" y2="336.79999999999995" stroke="#1a1a1a" stroke-width="0.95"/>
<line x1="177.5421045455472" y1="333.9" x2="177.5421045455472" y2="336.79999999999995" stroke="#1a1a1a" stroke-width="0.95"/>
<line x1="178.89561439389306" y1="333.9" x2="178.89561439389306" y2="336.79999999999995" stroke="#1a1a1a" stroke-width="0.95"/>
<line x1="180.00151246369154" y1="333.9" x2="180.00151246369154" y2="336.79999999999995" stroke="#1a1a1a" stroke-width="0.95"/>
<line x1="180.9365359588658" y1="333.9" x2="180.9365359588658" y2="336.79999999999995" stroke="#1a1a1a" stroke-width="0.95"/>
<line x1="181.74649015165414" y1="333.9" x2="181.74649015165414" y2="336.79999999999995" stroke="#1a1a1a" stroke-width="0.95"/>
<line x1="182.4609203818359" y1="333.9" x2="182.4609203818359" y2="336.79999999999995" stroke="#1a1a1a" stroke-width="0.95"/>
<line x1="183.1" y1="333.9" x2="183.1" y2="337.5" stroke="#1a1a1a" stroke-width="0.95"/>
<line x1="137.79999999999998" y1="333.9" x2="141.2" y2="333.9" stroke="#1a1a1a" stroke-width="1.0"/>
<line x1="137.79999999999998" y1="325.42199999999997" x2="141.2" y2="325.42199999999997" stroke="#1a1a1a" stroke-width="1.0"/>
<rect x="191.0" y="302.3" width="40.69999999999999" height="31.599999999999966" fill="none" stroke="#1a1a1a" stroke-width="1.4"/>
<line x1="199.1679472156827" y1="333.9" x2="199.1679472156827" y2="336.79999999999995" stroke="#1a1a1a" stroke-width="0.95"/>
<line x1="200.4826930588253" y1="333.9" x2="200.4826930588253" y2="336.79999999999995" stroke="#1a1a1a" stroke-width="0.95"/>
<line x1="201.55691863020476" y1="333.9" x2="201.55691863020476" y2="336.79999999999995" stroke="#1a1a1a" stroke-width="0.95"/>
<line x1="202.46516340952675" y1="333.9" x2="202.46516340952675" y2="336.79999999999995" stroke="#1a1a1a" stroke-width="0.95"/>
<line x1="203.25192082352402" y1="333.9" x2="203.25192082352402" y2="336.79999999999995" stroke="#1a1a1a" stroke-width="0.95"/>
<line x1="203.94589004472684" y1="333.9" x2="203.94589004472684" y2="336.79999999999995" stroke="#1a1a1a" stroke-width="0.95"/>
<line x1="204.56666666666666" y1="333.9" x2="204.56666666666666" y2="337.5" stroke="#1a1a1a" stroke-width="0.95"/>
<line x1="208.65064027450802" y1="333.9" x2="208.65064027450802" y2="336.79999999999995" stroke="#1a1a1a" stroke-width="0.95"/>
<line x1="211.0396116890301" y1="333.9" x2="211.0396116890301" y2="336.79999999999995" stroke="#1a1a1a" stroke-width="0.95"/>
<line x1="212.73461388234935" y1="333.9" x2="212.73461388234935" y2="336.79999999999995" stroke="#1a1a1a" stroke-width="0.95"/>
<line x1="214.04935972549197" y1="333.9" x2="214.04935972549197" y2="336.79999999999995" stroke="#1a1a1a" stroke-width="0.95"/>
<line x1="215.12358529687143" y1="333.9" x2="215.12358529687143" y2="336.79999999999995" stroke="#1a1a1a" stroke-width="0.95"/>
<line x1="216.03183007619342" y1="333.9" x2="216.03183007619342" y2="336.79999999999995" stroke="#1a1a1a" stroke-width="0.95"/>
<line x1="216.81858749019068" y1="333.9" x2="216.81858749019068" y2="336.79999999999995" stroke="#1a1a1a" stroke-width="0.95"/>
<line x1="217.5125567113935" y1="333.9" x2="217.5125567113935" y2="336.79999999999995" stroke="#1a1a1a" stroke-width="0.95"/>
<line x1="218.13333333333333" y1="333.9" x2="218.13333333333333" y2="337.5" stroke="#1a1a1a" stroke-width="0.95"/>
<line x1="222.21730694117468" y1="333.9" x2="222.21730694117468" y2="336.79999999999995" stroke="#1a1a1a" stroke-width="0.95"/>
<line x1="224.60627835569676" y1="333.9" x2="224.60627835569676" y2="336.79999999999995" stroke="#1a1a1a" stroke-width="0.95"/>
<line x1="226.301280549016" y1="333.9" x2="226.301280549016" y2="336.79999999999995" stroke="#1a1a1a" stroke-width="0.95"/>
<line x1="227.61602639215863" y1="333.9" x2="227.61602639215863" y2="336.79999999999995" stroke="#1a1a1a" stroke-width="0.95"/>
<line x1="228.6902519635381" y1="333.9" x2="228.6902519635381" y2="336.79999999999995" stroke="#1a1a1a" stroke-width="0.95"/>
<line x1="229.59849674286008" y1="333.9" x2="229.59849674286008" y2="336.79999999999995" stroke="#1a1a1a" stroke-width="0.95"/>
<line x1="230.38525415685734" y1="333.9" x2="230.38525415685734" y2="336.79999999999995" stroke="#1a1a1a" stroke-width="0.95"/>
<line x1="231.07922337806016" y1="333.9" x2="231.07922337806016" y2="336.79999999999995" stroke="#1a1a1a" stroke-width="0.95"/>
<line x1="231.7" y1="333.9" x2="231.7" y2="337.5" stroke="#1a1a1a" stroke-width="0.95"/>
<rect x="242.2" y="302.3" width="41.30000000000001" height="31.599999999999966" fill="none" stroke="#1a1a1a" stroke-width="1.4"/>
<line x1="242.2" y1="333.9" x2="242.2" y2="337.5" stroke="#1a1a1a" stroke-width="1.0"/>
<line x1="255.96666666666667" y1="333.9" x2="255.96666666666667" y2="337.5" stroke="#1a1a1a" stroke-width="1.0"/>
<line x1="269.73333333333335" y1="333.9" x2="269.73333333333335" y2="337.5" stroke="#1a1a1a" stroke-width="1.0"/>
<line x1="283.5" y1="333.9" x2="283.5" y2="337.5" stroke="#1a1a1a" stroke-width="1.0"/>
<line x1="238.79999999999998" y1="333.9" x2="242.2" y2="333.9" stroke="#1a1a1a" stroke-width="1.0"/>
<line x1="238.79999999999998" y1="325.42199999999997" x2="242.2" y2="325.42199999999997" stroke="#1a1a1a" stroke-width="1.0"/>
<line x1="238.79999999999998" y1="307.21" x2="242.2" y2="307.21" stroke="#1a1a1a" stroke-width="1.0"/>
<rect x="292.0" y="302.3" width="41.30000000000001" height="31.599999999999966" fill="none" stroke="#1a1a1a" stroke-width="1.4"/>
<line x1="292.0" y1="333.9" x2="292.0" y2="337.5" stroke="#1a1a1a" stroke-width="1.0"/>
<line x1="305.76666666666665" y1="333.9" x2="305.76666666666665" y2="337.5" stroke="#1a1a1a" stroke-width="1.0"/>
<line x1="319.53333333333336" y1="333.9" x2="319.53333333333336" y2="337.5" stroke="#1a1a1a" stroke-width="1.0"/>
<line x1="333.3" y1="333.9" x2="333.3" y2="337.5" stroke="#1a1a1a" stroke-width="1.0"/>
<line x1="289.0" y1="333.9" x2="292.0" y2="333.9" stroke="#1a1a1a" stroke-width="0.95"/>
<line x1="289.0" y1="330.29999999999995" x2="292.0" y2="330.29999999999995" stroke="#1a1a1a" stroke-width="0.95"/>
<line x1="289.0" y1="326.7" x2="292.0" y2="326.7" stroke="#1a1a1a" stroke-width="0.95"/>
<line x1="289.0" y1="323.09999999999997" x2="292.0" y2="323.09999999999997" stroke="#1a1a1a" stroke-width="0.95"/>
<line x1="289.0" y1="319.5" x2="292.0" y2="319.5" stroke="#1a1a1a" stroke-width="0.95"/>
<line x1="289.0" y1="315.9" x2="292.0" y2="315.9" stroke="#1a1a1a" stroke-width="0.95"/>
<line x1="289.0" y1="312.29999999999995" x2="292.0" y2="312.29999999999995" stroke="#1a1a1a" stroke-width="0.95"/>
<line x1="289.0" y1="308.7" x2="292.0" y2="308.7" stroke="#1a1a1a" stroke-width="0.95"/>
<line x1="289.0" y1="305.09999999999997" x2="292.0" y2="305.09999999999997" stroke="#1a1a1a" stroke-width="0.95"/>
<rect x="342.2" y="302.3" width="41.30000000000001" height="31.599999999999966" fill="none" stroke="#1a1a1a" stroke-width="1.4"/>
<line x1="350.4883592139483" y1="333.9" x2="350.4883592139483" y2="336.79999999999995" stroke="#1a1a1a" stroke-width="0.95"/>
<line x1="351.8224870596925" y1="333.9" x2="351.8224870596925" y2="336.79999999999995" stroke="#1a1a1a" stroke-width="0.95"/>
<line x1="352.91254888028146" y1="333.9" x2="352.91254888028146" y2="336.79999999999995" stroke="#1a1a1a" stroke-width="0.95"/>
<line x1="353.8341830175296" y1="333.9" x2="353.8341830175296" y2="336.79999999999995" stroke="#1a1a1a" stroke-width="0.95"/>
<line x1="354.63253882092243" y1="333.9" x2="354.63253882092243" y2="336.79999999999995" stroke="#1a1a1a" stroke-width="0.95"/>
<line x1="355.3367385466147" y1="333.9" x2="355.3367385466147" y2="336.79999999999995" stroke="#1a1a1a" stroke-width="0.95"/>
<line x1="355.96666666666664" y1="333.9" x2="355.96666666666664" y2="337.5" stroke="#1a1a1a" stroke-width="0.95"/>
<line x1="360.1108462736408" y1="333.9" x2="360.1108462736408" y2="336.79999999999995" stroke="#1a1a1a" stroke-width="0.95"/>
<line x1="362.535035939974" y1="333.9" x2="362.535035939974" y2="336.79999999999995" stroke="#1a1a1a" stroke-width="0.95"/>
<line x1="364.25502588061494" y1="333.9" x2="364.25502588061494" y2="336.79999999999995" stroke="#1a1a1a" stroke-width="0.95"/>
<line x1="365.58915372635914" y1="333.9" x2="365.58915372635914" y2="336.79999999999995" stroke="#1a1a1a" stroke-width="0.95"/>
<line x1="366.6792155469481" y1="333.9" x2="366.6792155469481" y2="336.79999999999995" stroke="#1a1a1a" stroke-width="0.95"/>
<line x1="367.60084968419625" y1="333.9" x2="367.60084968419625" y2="336.79999999999995" stroke="#1a1a1a" stroke-width="0.95"/>
<line x1="368.3992054875891" y1="333.9" x2="368.3992054875891" y2="336.79999999999995" stroke="#1a1a1a" stroke-width="0.95"/>
<line x1="369.10340521328135" y1="333.9" x2="369.10340521328135" y2="336.79999999999995" stroke="#1a1a1a" stroke-width="0.95"/>
<line x1="369.73333333333335" y1="333.9" x2="369.73333333333335" y2="337.5" stroke="#1a1a1a" stroke-width="0.95"/>
<line x1="373.8775129403075" y1="333.9" x2="373.8775129403075" y2="336.79999999999995" stroke="#1a1a1a" stroke-width="0.95"/>
<line x1="376.30170260664073" y1="333.9" x2="376.30170260664073" y2="336.79999999999995" stroke="#1a1a1a" stroke-width="0.95"/>
<line x1="378.02169254728165" y1="333.9" x2="378.02169254728165" y2="336.79999999999995" stroke="#1a1a1a" stroke-width="0.95"/>
<line x1="379.35582039302585" y1="333.9" x2="379.35582039302585" y2="336.79999999999995" stroke="#1a1a1a" stroke-width="0.95"/>
<line x1="380.4458822136148" y1="333.9" x2="380.4458822136148" y2="336.79999999999995" stroke="#1a1a1a" stroke-width="0.95"/>
<line x1="381.36751635086296" y1="333.9" x2="381.36751635086296" y2="336.79999999999995" stroke="#1a1a1a" stroke-width="0.95"/>
<line x1="382.1658721542558" y1="333.9" x2="382.1658721542558" y2="336.79999999999995" stroke="#1a1a1a" stroke-width="0.95"/>
<line x1="382.87007187994806" y1="333.9" x2="382.87007187994806" y2="336.79999999999995" stroke="#1a1a1a" stroke-width="0.95"/>
<line x1="383.5" y1="333.9" x2="383.5" y2="337.5" stroke="#1a1a1a" stroke-width="0.95"/>
<rect x="391.8" y="302.3" width="41.099999999999966" height="31.599999999999966" fill="none" stroke="#1a1a1a" stroke-width="1.4"/>
<line x1="391.8" y1="333.9" x2="391.8" y2="337.5" stroke="#1a1a1a" stroke-width="1.0"/>
<line x1="405.5" y1="333.9" x2="405.5" y2="337.5" stroke="#1a1a1a" stroke-width="1.0"/>
<line x1="419.2" y1="333.9" x2="419.2" y2="337.5" stroke="#1a1a1a" stroke-width="1.0"/>
<line x1="432.9" y1="333.9" x2="432.9" y2="337.5" stroke="#1a1a1a" stroke-width="1.0"/>
<rect x="42.5" y="341.4" width="41.3" height="31.5" fill="none" stroke="#1a1a1a" stroke-width="1.4"/>
<line x1="50.76" y1="372.9" x2="50.76" y2="376.5" stroke="#1a1a1a" stroke-width="1.0"/>
<line x1="67.693" y1="372.9" x2="67.693" y2="376.5" stroke="#1a1a1a" stroke-width="1.0"/>
<line x1="83.8" y1="372.9" x2="83.8" y2="376.5" stroke="#1a1a1a" stroke-width="1.0"/>
<line x1="39.1" y1="372.9" x2="42.5" y2="372.9" stroke="#1a1a1a" stroke-width="1.0"/>
<line x1="39.1" y1="365.04999999999995" x2="42.5" y2="365.04999999999995" stroke="#1a1a1a" stroke-width="1.0"/>
<line x1="39.1" y1="357.2" x2="42.5" y2="357.2" stroke="#1a1a1a" stroke-width="1.0"/>
<line x1="39.1" y1="349.34999999999997" x2="42.5" y2="349.34999999999997" stroke="#1a1a1a" stroke-width="1.0"/>
<line x1="39.1" y1="343.07" x2="42.5" y2="343.07" stroke="#1a1a1a" stroke-width="1.0"/>
<rect x="91.9" y="341.4" width="40.900000000000006" height="31.5" fill="none" stroke="#1a1a1a" stroke-width="1.4"/>
<line x1="88.9" y1="372.9" x2="91.9" y2="372.9" stroke="#1a1a1a" stroke-width="0.95"/>
<line x1="88.9" y1="369.29999999999995" x2="91.9" y2="369.29999999999995" stroke="#1a1a1a" stroke-width="0.95"/>
<line x1="88.9" y1="365.7" x2="91.9" y2="365.7" stroke="#1a1a1a" stroke-width="0.95"/>
<line x1="88.9" y1="362.09999999999997" x2="91.9" y2="362.09999999999997" stroke="#1a1a1a" stroke-width="0.95"/>
<line x1="88.9" y1="358.5" x2="91.9" y2="358.5" stroke="#1a1a1a" stroke-width="0.95"/>
<line x1="88.9" y1="354.9" x2="91.9" y2="354.9" stroke="#1a1a1a" stroke-width="0.95"/>
<line x1="88.9" y1="351.29999999999995" x2="91.9" y2="351.29999999999995" stroke="#1a1a1a" stroke-width="0.95"/>
<line x1="88.9" y1="347.7" x2="91.9" y2="347.7" stroke="#1a1a1a" stroke-width="0.95"/>
<line x1="88.9" y1="344.09999999999997" x2="91.9" y2="344.09999999999997" stroke="#1a1a1a" stroke-width="0.95"/>
<rect x="141.2" y="341.4" width="41.900000000000006" height="31.5" fill="none" stroke="#1a1a1a" stroke-width="1.4"/>
<rect x="191.0" y="341.4" width="40.69999999999999" height="31.5" fill="none" stroke="#1a1a1a" stroke-width="1.4"/>
<line x1="188.0" y1="372.9" x2="191.0" y2="372.9" stroke="#1a1a1a" stroke-width="0.95"/>
<line x1="188.0" y1="369.29999999999995" x2="191.0" y2="369.29999999999995" stroke="#1a1a1a" stroke-width="0.95"/>
<line x1="188.0" y1="365.7" x2="191.0" y2="365.7" stroke="#1a1a1a" stroke-width="0.95"/>
<line x1="188.0" y1="362.09999999999997" x2="191.0" y2="362.09999999999997" stroke="#1a1a1a" stroke-width="0.95"/>
<line x1="188.0" y1="358.5" x2="191.0" y2="358.5" stroke="#1a1a1a" stroke-width="0.95"/>
<line x1="188.0" y1="354.9" x2="191.0" y2="354.9" stroke="#1a1a1a" stroke-width="0.95"/>
<line x1="188.0" y1="351.29999999999995" x2="191.0" y2="351.29999999999995" stroke="#1a1a1a" stroke-width="0.95"/>
<line x1="188.0" y1="347.7" x2="191.0" y2="347.7" stroke="#1a1a1a" stroke-width="0.95"/>
<line x1="188.0" y1="344.09999999999997" x2="191.0" y2="344.09999999999997" stroke="#1a1a1a" stroke-width="0.95"/>
<rect x="242.2" y="341.4" width="41.30000000000001" height="31.5" fill="none" stroke="#1a1a1a" stroke-width="1.4"/>
<line x1="238.79999999999998" y1="372.9" x2="242.2" y2="372.9" stroke="#1a1a1a" stroke-width="1.0"/>
<line x1="238.79999999999998" y1="364.42199999999997" x2="242.2" y2="364.42199999999997" stroke="#1a1a1a" stroke-width="1.0"/>
<line x1="238.79999999999998" y1="355.94399999999996" x2="242.2" y2="355.94399999999996" stroke="#1a1a1a" stroke-width="1.0"/>
<rect x="292.0" y="341.4" width="41.30000000000001" height="31.5" fill="none" stroke="#1a1a1a" stroke-width="1.4"/>
<line x1="288.6" y1="372.9" x2="292.0" y2="372.9" stroke="#1a1a1a" stroke-width="1.0"/>
<line x1="288.6" y1="364.42199999999997" x2="292.0" y2="364.42199999999997" stroke="#1a1a1a" stroke-width="1.0"/>
<line x1="288.6" y1="355.63" x2="292.0" y2="355.63" stroke="#1a1a1a" stroke-width="1.0"/>
<line x1="288.6" y1="347.152" x2="292.0" y2="347.152" stroke="#1a1a1a" stroke-width="1.0"/>
<rect x="342.2" y="341.4" width="41.30000000000001" height="31.5" fill="none" stroke="#1a1a1a" stroke-width="1.4"/>
<line x1="342.2" y1="372.9" x2="342.2" y2="376.5" stroke="#1a1a1a" stroke-width="1.0"/>
<line x1="355.96666666666664" y1="372.9" x2="355.96666666666664" y2="376.5" stroke="#1a1a1a" stroke-width="1.0"/>
<line x1="369.73333333333335" y1="372.9" x2="369.73333333333335" y2="376.5" stroke="#1a1a1a" stroke-width="1.0"/>
<line x1="383.5" y1="372.9" x2="383.5" y2="376.5" stroke="#1a1a1a" stroke-width="1.0"/>
<rect x="391.8" y="341.4" width="41.099999999999966" height="31.5" fill="none" stroke="#1a1a1a" stroke-width="1.4"/>
<line x1="391.8" y1="372.9" x2="391.8" y2="376.5" stroke="#1a1a1a" stroke-width="1.0"/>
<line x1="405.5" y1="372.9" x2="405.5" y2="376.5" stroke="#1a1a1a" stroke-width="1.0"/>
<line x1="419.2" y1="372.9" x2="419.2" y2="376.5" stroke="#1a1a1a" stroke-width="1.0"/>
<line x1="432.9" y1="372.9" x2="432.9" y2="376.5" stroke="#1a1a1a" stroke-width="1.0"/>
<path d="M43.1 258.4 L43.6 258.3 L44.0 258.3 L44.5 258.2 L44.9 258.0 L45.4 257.8 L45.8 257.2 L46.3 257.1 L46.7 255.0 L47.2 252.9 L47.6 249.5 L48.1 246.7 L48.5 243.6 L49.0 240.6 L49.4 236.4 L49.9 231.4 L50.3 229.1 L50.8 232.8 L51.2 235.8 L51.7 240.4 L52.1 246.0 L52.6 249.1 L53.0 249.5 L53.5 251.2 L53.9 255.3 L54.4 256.2 L54.8 256.6 L55.3 257.6 L55.7 257.7 L56.2 258.0 L56.6 258.1 L57.1 258.2 L57.5 258.3 L58.0 258.3 L58.4 258.4 L58.9 258.4" fill="none" stroke="#cc1f36" stroke-width="1.6" stroke-linejoin="round"/>
<path d="M92.5 256.8 L93.0 256.2 L93.4 256.4 L93.9 256.4 L94.3 256.1 L94.8 255.1 L95.2 255.1 L95.7 254.8 L96.1 253.4 L96.6 252.5 L97.0 252.0 L97.5 252.2 L97.9 251.4 L98.4 251.0 L98.8 251.0 L99.3 249.5 L99.7 248.0 L100.2 246.6 L100.6 247.1 L101.1 247.1 L101.5 245.9 L102.0 245.5 L102.4 245.2 L102.9 245.2 L103.3 244.4 L103.8 243.0 L104.2 242.6 L104.7 243.3 L105.1 243.4 L105.6 243.7 L106.0 244.5 L106.5 245.7 L106.9 247.0 L107.4 248.3 L107.8 250.3 L108.3 251.6 L108.7 253.0 L109.2 255.2 L109.6 256.3 L110.1 257.6 L110.5 258.4 L111.0 258.4 L111.4 258.4 L111.9 258.4 L112.3 258.4" fill="none" stroke="#12518a" stroke-width="1.6" stroke-linejoin="round"/>
<path d="M111.4 258.4 L111.9 258.3 L112.3 258.3 L112.8 258.3 L113.2 258.2 L113.7 258.1 L114.1 258.0 L114.6 257.8 L115.0 257.8 L115.5 257.5 L115.9 257.3 L116.4 255.4 L116.8 253.8 L117.3 250.8 L117.7 249.8 L118.2 248.0 L118.6 244.1 L119.1 240.1 L119.5 236.7 L120.0 232.7 L120.4 230.4 L120.9 232.2 L121.3 236.8 L121.8 240.7 L122.2 245.3 L122.7 248.9 L123.1 251.2 L123.6 254.2 L124.0 255.1 L124.5 256.2 L124.9 257.1 L125.4 257.7 L125.8 258.0 L126.3 258.2 L126.7 258.3 L127.2 258.3 L127.6 258.4 L128.1 258.4 L128.5 258.4" fill="none" stroke="#cc1f36" stroke-width="1.6" stroke-linejoin="round"/>
<path d="M142.7 258.4 L143.1 258.3 L143.6 258.3 L144.0 258.3 L144.5 258.2 L144.9 258.1 L145.4 258.0 L145.8 257.8 L146.3 257.7 L146.7 257.2 L147.2 256.7 L147.6 255.1 L148.1 254.5 L148.5 253.8 L149.0 249.7 L149.4 247.0 L149.9 244.4 L150.3 240.5 L150.8 236.8 L151.2 234.6 L151.7 232.3 L152.1 232.7 L152.6 235.4 L153.0 239.4 L153.5 244.4 L153.9 248.6 L154.4 251.6 L154.8 254.1 L155.3 256.0 L155.7 256.9 L156.2 258.4 L156.6 258.0 L157.1 258.2 L157.5 258.3 L158.0 258.3 L158.4 258.4 L158.9 258.4 L159.3 258.4" fill="none" stroke="#12518a" stroke-width="1.6" stroke-linejoin="round"/>
<path d="M149.4 258.4 L149.9 258.3 L150.3 258.3 L150.8 258.3 L151.2 258.2 L151.7 258.1 L152.1 258.0 L152.6 257.7 L153.0 256.9 L153.5 257.4 L153.9 256.8 L154.4 255.3 L154.8 253.8 L155.3 252.4 L155.7 250.0 L156.2 248.9 L156.6 246.6 L157.1 243.6 L157.5 240.2 L158.0 237.4 L158.4 235.7 L158.9 234.5 L159.3 236.3 L159.8 239.9 L160.2 243.3 L160.7 245.4 L161.1 247.4 L161.6 249.9 L162.0 251.8 L162.5 252.4 L162.9 254.7 L163.4 256.4 L163.8 255.9 L164.3 257.2 L164.7 256.9 L165.2 257.0 L165.6 257.8 L166.1 258.0 L166.5 258.1 L167.0 258.2 L167.4 258.3 L167.9 258.3 L168.3 258.3 L168.8 258.4 L169.2 258.4" fill="none" stroke="#cc1f36" stroke-width="1.6" stroke-linejoin="round"/>
<path d="M191.6 258.2 L192.0 258.0 L192.5 257.8 L192.9 258.2 L193.4 256.9 L193.8 255.9 L194.3 255.1 L194.7 253.7 L195.2 251.8 L195.6 247.6 L196.1 244.3 L196.5 241.4 L197.0 237.4 L197.4 233.7 L197.9 231.3 L198.3 230.8 L198.8 233.5 L199.2 236.1 L199.7 239.4 L200.1 243.4 L200.6 247.1 L201.0 250.3 L201.5 253.5 L201.9 256.1 L202.4 257.0 L202.8 256.7 L203.3 258.4 L203.7 257.9 L204.2 258.1 L204.6 258.2 L205.1 258.3 L205.5 258.3 L206.0 258.4 L206.4 258.4 L206.9 258.4" fill="none" stroke="#cc1f36" stroke-width="1.6" stroke-linejoin="round"/>
<path d="M242.8 258.3 L243.2 258.2 L243.7 258.2 L244.1 258.1 L244.6 258.0 L245.0 257.8 L245.5 256.8 L245.9 257.6 L246.4 256.9 L246.8 256.7 L247.3 256.1 L247.7 254.8 L248.2 253.3 L248.6 251.6 L249.1 249.4 L249.5 246.4 L250.0 245.4 L250.4 244.9 L250.9 242.5 L251.3 239.9 L251.8 236.8 L252.2 233.4 L252.7 233.1 L253.1 232.8 L253.6 233.5 L254.0 237.2 L254.5 242.6 L254.9 246.8 L255.4 250.1 L255.8 252.8 L256.3 255.1 L256.7 256.2 L257.2 256.4 L257.6 257.8 L258.1 258.0 L258.5 258.2 L259.0 258.3 L259.4 258.3 L259.9 258.4 L260.3 258.4 L260.8 258.4" fill="none" stroke="#12518a" stroke-width="1.6" stroke-linejoin="round"/>
<path d="M249.5 258.4 L250.0 258.3 L250.4 258.3 L250.9 258.3 L251.3 258.2 L251.8 258.2 L252.2 258.1 L252.7 258.0 L253.1 257.8 L253.6 257.3 L254.0 256.6 L254.5 256.2 L254.9 255.9 L255.4 255.5 L255.8 255.9 L256.3 254.1 L256.7 252.1 L257.2 251.0 L257.6 250.2 L258.1 248.4 L258.5 246.9 L259.0 245.6 L259.4 244.6 L259.9 244.3 L260.3 243.9 L260.8 242.5 L261.2 239.7 L261.7 239.7 L262.1 242.8 L262.6 244.1 L263.0 244.3 L263.5 246.2 L263.9 248.4 L264.4 250.0 L264.8 251.5 L265.3 253.2 L265.7 254.3 L266.2 255.0 L266.6 255.7 L267.1 256.3 L267.5 257.2 L268.0 256.7 L268.4 257.3 L268.9 257.8 L269.3 258.0 L269.8 258.1 L270.2 258.2 L270.7 258.2 L271.1 258.3 L271.6 258.3 L272.0 258.3 L272.5 258.4" fill="none" stroke="#cc1f36" stroke-width="1.6" stroke-linejoin="round"/>
<path d="M292.6 258.3 L293.1 258.3 L293.5 258.2 L293.9 258.1 L294.4 257.9 L294.8 256.9 L295.3 257.2 L295.7 256.2 L296.2 255.6 L296.6 252.8 L297.1 250.3 L297.5 247.6 L298.0 245.0 L298.4 241.9 L298.9 238.5 L299.3 236.3 L299.8 233.5 L300.2 232.5 L300.7 234.3 L301.1 237.7 L301.6 241.1 L302.0 244.6 L302.5 247.8 L302.9 251.8 L303.4 254.3 L303.8 255.2 L304.3 254.9 L304.7 257.9 L305.2 257.7 L305.6 257.9 L306.1 258.1 L306.5 258.2 L307.0 258.3 L307.4 258.3 L307.9 258.4 L308.3 258.4" fill="none" stroke="#cc1f36" stroke-width="1.6" stroke-linejoin="round"/>
<path d="M342.8 258.2 L343.2 258.0 L343.7 258.0 L344.1 256.8 L344.6 254.8 L345.0 253.6 L345.5 251.6 L345.9 247.4 L346.4 242.4 L346.8 236.8 L347.3 231.0 L347.7 229.8 L348.2 235.4 L348.6 242.3 L349.1 246.9 L349.5 249.9 L350.0 252.3 L350.4 254.3 L350.9 256.4 L351.3 257.7 L351.8 257.9 L352.2 258.1 L352.7 258.2 L353.1 258.3 L353.6 258.4 L354.0 258.4 L354.5 258.4" fill="none" stroke="#12518a" stroke-width="1.6" stroke-linejoin="round"/>
<path d="M347.7 258.4 L348.2 258.3 L348.6 258.3 L349.1 258.3 L349.5 258.2 L350.0 258.1 L350.4 258.0 L350.9 257.9 L351.3 257.1 L351.8 256.8 L352.2 256.6 L352.7 256.2 L353.1 255.8 L353.6 254.8 L354.0 253.5 L354.5 252.3 L354.9 250.9 L355.4 248.4 L355.8 246.6 L356.3 246.2 L356.7 245.0 L357.2 244.0 L357.6 243.2 L358.1 243.2 L358.5 244.1 L359.0 245.7 L359.4 247.9 L359.9 250.1 L360.3 251.7 L360.8 253.7 L361.2 255.5 L361.7 256.1 L362.1 256.7 L362.6 256.9 L363.0 257.9 L363.5 258.1 L363.9 258.2 L364.4 258.3 L364.8 258.3 L365.3 258.4 L365.7 258.4 L366.2 258.4" fill="none" stroke="#cc1f36" stroke-width="1.6" stroke-linejoin="round"/>
<path d="M392.9 258.4 L393.3 258.3 L393.8 258.3 L394.2 258.3 L394.6 258.2 L395.1 258.1 L395.5 258.0 L396.0 257.9 L396.4 258.0 L396.9 257.9 L397.3 257.1 L397.8 255.6 L398.2 255.0 L398.7 253.6 L399.1 251.7 L399.6 251.1 L400.0 248.6 L400.5 245.0 L400.9 242.0 L401.4 238.8 L401.8 235.0 L402.3 231.3 L402.7 228.6 L403.2 230.9 L403.6 234.6 L404.1 237.8 L404.5 240.9 L405.0 244.9 L405.4 249.0 L405.9 251.8 L406.3 253.7 L406.8 254.9 L407.2 255.5 L407.7 256.7 L408.1 258.3 L408.6 257.7 L409.0 258.0 L409.5 258.1 L409.9 258.2 L410.4 258.3 L410.8 258.3 L411.3 258.4 L411.7 258.4" fill="none" stroke="#cc1f36" stroke-width="1.6" stroke-linejoin="round"/>
<path d="M43.1 295.6 L43.6 295.5 L44.0 295.3 L44.5 294.9 L44.9 293.6 L45.4 292.8 L45.8 289.2 L46.3 284.5 L46.7 279.0 L47.2 272.8 L47.6 265.1 L48.1 267.1 L48.5 272.1 L49.0 277.6 L49.4 281.9 L49.9 286.6 L50.3 289.5 L50.8 291.1 L51.2 293.2 L51.7 294.6 L52.1 295.0 L52.6 295.1 L53.0 295.3 L53.5 295.4 L53.9 295.5 L54.4 295.6 L54.8 295.6 L55.3 295.6 L55.7 295.7" fill="none" stroke="#12518a" stroke-width="1.6" stroke-linejoin="round"/>
<path d="M43.1 295.6 L43.6 295.6 L44.0 295.6 L44.5 295.5 L44.9 295.4 L45.4 295.2 L45.8 295.0 L46.3 294.3 L46.7 293.4 L47.2 290.8 L47.6 287.1 L48.1 283.9 L48.5 280.4 L49.0 277.0 L49.4 274.2 L49.9 271.6 L50.3 272.0 L50.8 273.1 L51.2 275.8 L51.7 279.3 L52.1 281.3 L52.6 282.1 L53.0 283.9 L53.5 287.6 L53.9 290.0 L54.4 291.7 L54.8 291.6 L55.3 294.1 L55.7 294.0 L56.2 294.8 L56.6 294.9 L57.1 295.2 L57.5 295.3 L58.0 295.4 L58.4 295.5 L58.9 295.5 L59.3 295.6 L59.8 295.6 L60.2 295.6" fill="none" stroke="#cc1f36" stroke-width="1.6" stroke-linejoin="round"/>
<path d="M92.5 295.6 L93.0 295.5 L93.4 295.5 L93.9 295.4 L94.3 295.3 L94.8 295.2 L95.2 295.0 L95.7 294.2 L96.1 294.9 L96.6 294.5 L97.0 292.8 L97.5 291.8 L97.9 290.1 L98.4 289.2 L98.8 288.6 L99.3 286.7 L99.7 283.8 L100.2 283.6 L100.6 283.7 L101.1 282.4 L101.5 280.2 L102.0 279.6 L102.4 282.2 L102.9 284.6 L103.3 286.8 L103.8 289.0 L104.2 291.0 L104.7 293.2 L105.1 295.1 L105.6 294.6 L106.0 295.2 L106.5 295.4 L106.9 295.5 L107.4 295.6 L107.8 295.6 L108.3 295.6 L108.7 295.7" fill="none" stroke="#12518a" stroke-width="1.6" stroke-linejoin="round"/>
<path d="M104.2 295.7 L104.7 295.7 L105.1 295.6 L105.6 295.6 L106.0 295.5 L106.5 295.4 L106.9 295.1 L107.4 294.4 L107.8 292.2 L108.3 289.2 L108.7 283.8 L109.2 278.7 L109.6 274.2 L110.1 269.7 L110.5 272.6 L111.0 276.6 L111.4 282.3 L111.9 288.0 L112.3 292.0 L112.8 294.3 L113.2 294.2 L113.7 295.2 L114.1 295.4 L114.6 295.5 L115.0 295.6 L115.5 295.6 L115.9 295.7 L116.4 295.7" fill="none" stroke="#cc1f36" stroke-width="1.6" stroke-linejoin="round"/>
<path d="M144.0 295.6 L144.5 295.6 L144.9 295.6 L145.4 295.5 L145.8 295.5 L146.3 295.4 L146.7 295.3 L147.2 295.1 L147.6 294.4 L148.1 293.7 L148.5 292.6 L149.0 291.7 L149.4 290.8 L149.9 288.9 L150.3 287.4 L150.8 285.6 L151.2 282.5 L151.7 279.9 L152.1 276.6 L152.6 272.5 L153.0 270.8 L153.5 272.9 L153.9 275.2 L154.4 277.9 L154.8 282.9 L155.3 286.7 L155.7 289.6 L156.2 291.9 L156.6 293.4 L157.1 294.8 L157.5 295.1 L158.0 295.3 L158.4 295.5 L158.9 295.5 L159.3 295.6 L159.8 295.6 L160.2 295.6" fill="none" stroke="#12518a" stroke-width="1.6" stroke-linejoin="round"/>
<path d="M161.1 295.6 L161.6 295.6 L162.0 295.6 L162.5 295.5 L162.9 295.5 L163.4 295.4 L163.8 295.3 L164.3 295.1 L164.7 294.9 L165.2 293.5 L165.6 293.2 L166.1 293.1 L166.5 291.8 L167.0 289.6 L167.4 287.2 L167.9 284.7 L168.3 281.2 L168.8 277.7 L169.2 273.5 L169.7 269.0 L170.1 266.8 L170.6 271.5 L171.0 277.1 L171.5 281.8 L171.9 287.3 L172.4 291.3 L172.8 293.1 L173.3 295.2 L173.7 295.1 L174.2 295.4 L174.6 295.5 L175.1 295.6 L175.5 295.6 L176.0 295.7 L176.4 295.7" fill="none" stroke="#cc1f36" stroke-width="1.6" stroke-linejoin="round"/>
<path d="M192.0 295.6 L192.5 295.6 L192.9 295.6 L193.4 295.6 L193.8 295.5 L194.3 295.4 L194.7 295.3 L195.2 295.0 L195.6 294.9 L196.1 294.2 L196.5 292.8 L197.0 291.0 L197.4 287.8 L197.9 285.0 L198.3 282.3 L198.8 277.8 L199.2 272.9 L199.7 268.2 L200.1 266.5 L200.6 272.4 L201.0 277.7 L201.5 281.3 L201.9 284.6 L202.4 286.9 L202.8 290.3 L203.3 292.1 L203.7 292.6 L204.2 295.1 L204.6 294.9 L205.1 295.2 L205.5 295.4 L206.0 295.5 L206.4 295.6 L206.9 295.6 L207.3 295.6 L207.8 295.6" fill="none" stroke="#12518a" stroke-width="1.6" stroke-linejoin="round"/>
<path d="M191.6 295.6 L192.0 295.6 L192.5 295.6 L192.9 295.5 L193.4 295.5 L193.8 295.4 L194.3 295.2 L194.7 295.0 L195.2 294.9 L195.6 293.6 L196.1 293.8 L196.5 292.6 L197.0 291.6 L197.4 289.9 L197.9 289.1 L198.3 285.8 L198.8 283.0 L199.2 281.7 L199.7 279.1 L200.1 275.3 L200.6 275.0 L201.0 278.9 L201.5 280.9 L201.9 281.8 L202.4 282.1 L202.8 283.5 L203.3 285.9 L203.7 287.6 L204.2 289.6 L204.6 291.0 L205.1 291.6 L205.5 292.1 L206.0 293.3 L206.4 294.4 L206.9 294.2 L207.3 295.0 L207.8 295.2 L208.2 295.3 L208.7 295.4 L209.1 295.5 L209.6 295.5 L210.0 295.6 L210.5 295.6 L210.9 295.6" fill="none" stroke="#cc1f36" stroke-width="1.6" stroke-linejoin="round"/>
<path d="M243.7 295.7 L244.1 295.6 L244.6 295.6 L245.0 295.6 L245.5 295.5 L245.9 295.4 L246.4 295.1 L246.8 293.9 L247.3 294.0 L247.7 290.9 L248.2 287.3 L248.6 282.5 L249.1 277.1 L249.5 272.4 L250.0 266.5 L250.4 268.2 L250.9 274.9 L251.3 282.2 L251.8 287.4 L252.2 290.5 L252.7 292.2 L253.1 293.5 L253.6 294.9 L254.0 295.3 L254.5 295.5 L254.9 295.6 L255.4 295.6 L255.8 295.6 L256.3 295.7" fill="none" stroke="#12518a" stroke-width="1.6" stroke-linejoin="round"/>
<path d="M260.3 295.6 L260.8 295.6 L261.2 295.6 L261.7 295.6 L262.1 295.5 L262.6 295.4 L263.0 295.3 L263.5 295.1 L263.9 294.5 L264.4 293.9 L264.8 293.3 L265.3 292.4 L265.7 290.5 L266.2 288.0 L266.6 285.7 L267.1 283.5 L267.5 280.5 L268.0 276.0 L268.4 271.7 L268.9 269.0 L269.3 267.8 L269.8 271.4 L270.2 275.5 L270.7 281.6 L271.1 287.2 L271.6 290.7 L272.0 293.1 L272.5 293.6 L272.9 295.1 L273.4 295.4 L273.8 295.5 L274.3 295.6 L274.7 295.6 L275.2 295.6 L275.6 295.7" fill="none" stroke="#cc1f36" stroke-width="1.6" stroke-linejoin="round"/>
<path d="M292.6 295.6 L293.1 295.6 L293.5 295.5 L293.9 295.5 L294.4 295.4 L294.8 295.3 L295.3 295.2 L295.7 294.9 L296.2 293.5 L296.6 295.7 L297.1 293.8 L297.5 292.4 L298.0 292.0 L298.4 291.2 L298.9 289.2 L299.3 286.6 L299.8 284.7 L300.2 284.0 L300.7 281.8 L301.1 278.6 L301.6 276.0 L302.0 274.2 L302.5 271.9 L302.9 271.1 L303.4 274.7 L303.8 278.8 L304.3 282.7 L304.7 286.5 L305.2 290.0 L305.6 291.7 L306.1 293.0 L306.5 294.0 L307.0 293.6 L307.4 295.0 L307.9 295.3 L308.3 295.4 L308.8 295.5 L309.2 295.6 L309.7 295.6 L310.1 295.6 L310.6 295.6" fill="none" stroke="#12518a" stroke-width="1.6" stroke-linejoin="round"/>
<path d="M302.5 295.6 L302.9 295.6 L303.4 295.6 L303.8 295.5 L304.3 295.5 L304.7 295.4 L305.2 295.4 L305.6 295.3 L306.1 295.2 L306.5 295.0 L307.0 294.3 L307.4 295.0 L307.9 294.6 L308.3 294.0 L308.8 293.0 L309.2 293.0 L309.7 292.3 L310.1 290.1 L310.6 289.9 L311.0 287.8 L311.5 285.1 L311.9 282.3 L312.4 280.6 L312.8 279.5 L313.3 277.9 L313.7 276.5 L314.2 275.2 L314.6 273.6 L315.1 269.9 L315.5 267.1 L316.0 270.4 L316.4 277.1 L316.9 280.4 L317.3 284.8 L317.8 289.8 L318.2 292.3 L318.7 293.6 L319.1 294.7 L319.6 295.2 L320.0 295.4 L320.5 295.5 L320.9 295.6 L321.4 295.6 L321.8 295.7 L322.3 295.7" fill="none" stroke="#cc1f36" stroke-width="1.6" stroke-linejoin="round"/>
<path d="M342.8 295.6 L343.2 295.6 L343.7 295.6 L344.1 295.6 L344.6 295.5 L345.0 295.4 L345.5 295.3 L345.9 295.2 L346.4 295.0 L346.8 294.6 L347.3 294.2 L347.7 293.1 L348.2 292.4 L348.6 291.5 L349.1 289.7 L349.5 289.1 L350.0 285.4 L350.4 281.0 L350.9 279.6 L351.3 278.6 L351.8 275.4 L352.2 273.4 L352.7 276.4 L353.1 280.4 L353.6 283.8 L354.0 287.4 L354.5 290.8 L354.9 292.3 L355.4 294.6 L355.8 295.1 L356.3 295.4 L356.7 295.5 L357.2 295.6 L357.6 295.6 L358.1 295.7 L358.5 295.7" fill="none" stroke="#12518a" stroke-width="1.6" stroke-linejoin="round"/>
<path d="M349.1 295.7 L349.5 295.6 L350.0 295.6 L350.4 295.6 L350.9 295.5 L351.3 295.3 L351.8 294.9 L352.2 294.6 L352.7 293.0 L353.1 290.6 L353.6 286.5 L354.0 281.2 L354.5 275.6 L354.9 270.4 L355.4 267.2 L355.8 271.6 L356.3 277.2 L356.7 283.3 L357.2 287.4 L357.6 290.2 L358.1 293.0 L358.5 294.5 L359.0 294.9 L359.4 295.2 L359.9 295.4 L360.3 295.5 L360.8 295.6 L361.2 295.6 L361.7 295.6 L362.1 295.7" fill="none" stroke="#cc1f36" stroke-width="1.6" stroke-linejoin="round"/>
<path d="M399.1 295.7 L399.6 295.6 L400.0 295.6 L400.5 295.6 L400.9 295.5 L401.4 295.4 L401.8 295.2 L402.3 295.1 L402.7 294.9 L403.2 293.1 L403.6 292.1 L404.1 291.1 L404.5 288.0 L405.0 284.4 L405.4 279.8 L405.9 274.0 L406.3 272.8 L406.8 275.7 L407.2 277.7 L407.7 279.5 L408.1 283.9 L408.6 288.7 L409.0 292.8 L409.5 293.2 L409.9 294.4 L410.4 295.1 L410.8 295.4 L411.3 295.5 L411.7 295.6 L412.2 295.6 L412.6 295.6 L413.1 295.7" fill="none" stroke="#12518a" stroke-width="1.6" stroke-linejoin="round"/>
<path d="M396.0 295.6 L396.4 295.6 L396.9 295.5 L397.3 295.5 L397.8 295.5 L398.2 295.4 L398.7 295.3 L399.1 295.2 L399.6 295.0 L400.0 294.7 L400.5 294.9 L400.9 294.7 L401.4 294.4 L401.8 294.0 L402.3 292.9 L402.7 290.9 L403.2 288.8 L403.6 288.6 L404.1 287.0 L404.5 284.6 L405.0 282.9 L405.4 281.8 L405.9 279.8 L406.3 278.2 L406.8 276.7 L407.2 274.7 L407.7 272.8 L408.1 275.2 L408.6 278.6 L409.0 280.6 L409.5 282.5 L409.9 284.4 L410.4 284.7 L410.8 286.1 L411.3 287.9 L411.7 290.4 L412.2 291.5 L412.6 291.9 L413.1 292.4 L413.5 295.2 L414.0 295.1 L414.4 295.5 L414.9 295.0 L415.3 295.2 L415.8 295.3 L416.2 295.4 L416.7 295.5 L417.1 295.5 L417.6 295.6 L418.0 295.6 L418.5 295.6" fill="none" stroke="#cc1f36" stroke-width="1.6" stroke-linejoin="round"/>
<path d="M43.1 333.6 L43.6 333.6 L44.0 333.5 L44.5 333.4 L44.9 333.1 L45.4 331.9 L45.8 330.7 L46.3 330.1 L46.7 327.1 L47.2 323.4 L47.6 318.7 L48.1 310.9 L48.5 304.2 L49.0 307.2 L49.4 312.5 L49.9 318.5 L50.3 323.2 L50.8 326.6 L51.2 329.5 L51.7 332.0 L52.1 333.2 L52.6 333.1 L53.0 333.4 L53.5 333.5 L53.9 333.6 L54.4 333.6 L54.8 333.6 L55.3 333.7" fill="none" stroke="#12518a" stroke-width="1.6" stroke-linejoin="round"/>
<path d="M44.9 333.7 L45.4 333.7 L45.8 333.6 L46.3 333.6 L46.7 333.5 L47.2 333.4 L47.6 333.2 L48.1 333.0 L48.5 332.0 L49.0 332.7 L49.4 332.4 L49.9 332.1 L50.3 332.6 L50.8 332.4 L51.2 333.4 L51.7 332.9 L52.1 332.4 L52.6 332.0 L53.0 331.2 L53.5 331.1 L53.9 328.5 L54.4 326.9 L54.8 325.9 L55.3 323.1 L55.7 320.7 L56.2 319.7 L56.6 317.3 L57.1 315.0 L57.5 316.3 L58.0 318.1 L58.4 319.5 L58.9 321.6 L59.3 323.5 L59.8 326.2 L60.2 328.3 L60.7 329.1 L61.1 331.3 L61.6 332.3 L62.0 333.2 L62.5 333.0 L62.9 333.2 L63.4 333.4 L63.8 333.5 L64.3 333.6 L64.7 333.6 L65.2 333.6 L65.6 333.6" fill="none" stroke="#cc1f36" stroke-width="1.6" stroke-linejoin="round"/>
<path d="M92.5 333.5 L93.0 333.5 L93.4 333.4 L93.9 333.3 L94.3 333.2 L94.8 333.1 L95.2 332.7 L95.7 333.2 L96.1 332.7 L96.6 331.8 L97.0 330.7 L97.5 330.5 L97.9 329.9 L98.4 328.8 L98.8 327.5 L99.3 326.6 L99.7 324.8 L100.2 322.5 L100.6 320.2 L101.1 319.0 L101.5 318.1 L102.0 317.1 L102.4 315.3 L102.9 314.1 L103.3 316.6 L103.8 319.9 L104.2 323.6 L104.7 327.6 L105.1 329.7 L105.6 331.2 L106.0 332.9 L106.5 333.3 L106.9 333.5 L107.4 333.6 L107.8 333.6 L108.3 333.7 L108.7 333.7" fill="none" stroke="#12518a" stroke-width="1.6" stroke-linejoin="round"/>
<path d="M110.5 333.7 L111.0 333.6 L111.4 333.6 L111.9 333.6 L112.3 333.5 L112.8 333.4 L113.2 333.3 L113.7 333.0 L114.1 333.2 L114.6 331.9 L115.0 331.3 L115.5 329.9 L115.9 326.5 L116.4 322.9 L116.8 319.3 L117.3 315.4 L117.7 313.0 L118.2 312.2 L118.6 311.2 L119.1 312.3 L119.5 317.5 L120.0 323.2 L120.4 326.4 L120.9 329.4 L121.3 330.8 L121.8 332.5 L122.2 333.1 L122.7 333.2 L123.1 333.4 L123.6 333.5 L124.0 333.6 L124.5 333.6 L124.9 333.6 L125.4 333.7" fill="none" stroke="#cc1f36" stroke-width="1.6" stroke-linejoin="round"/>
<path d="M144.9 333.6 L145.4 333.6 L145.8 333.6 L146.3 333.5 L146.7 333.5 L147.2 333.4 L147.6 333.2 L148.1 333.0 L148.5 333.6 L149.0 332.2 L149.4 331.2 L149.9 329.3 L150.3 328.4 L150.8 325.8 L151.2 322.0 L151.7 318.8 L152.1 315.5 L152.6 311.4 L153.0 307.3 L153.5 304.9 L153.9 306.9 L154.4 314.2 L154.8 320.3 L155.3 324.1 L155.7 327.1 L156.2 331.1 L156.6 331.6 L157.1 333.1 L157.5 333.4 L158.0 333.5 L158.4 333.6 L158.9 333.6 L159.3 333.7 L159.8 333.7" fill="none" stroke="#12518a" stroke-width="1.6" stroke-linejoin="round"/>
<path d="M158.4 333.6 L158.9 333.6 L159.3 333.6 L159.8 333.5 L160.2 333.5 L160.7 333.4 L161.1 333.3 L161.6 333.0 L162.0 332.0 L162.5 332.6 L162.9 332.0 L163.4 331.1 L163.8 329.4 L164.3 328.4 L164.7 326.9 L165.2 323.0 L165.6 320.0 L166.1 319.1 L166.5 318.7 L167.0 317.3 L167.4 316.4 L167.9 318.7 L168.3 319.6 L168.8 321.1 L169.2 323.4 L169.7 325.9 L170.1 328.4 L170.6 329.7 L171.0 330.5 L171.5 330.8 L171.9 332.5 L172.4 332.8 L172.8 333.1 L173.3 333.3 L173.7 333.4 L174.2 333.5 L174.6 333.6 L175.1 333.6 L175.5 333.6 L176.0 333.6" fill="none" stroke="#cc1f36" stroke-width="1.6" stroke-linejoin="round"/>
<path d="M191.6 333.6 L192.0 333.5 L192.5 333.4 L192.9 333.3 L193.4 333.1 L193.8 333.1 L194.3 332.5 L194.7 331.5 L195.2 329.8 L195.6 327.7 L196.1 325.4 L196.5 322.1 L197.0 318.9 L197.4 315.9 L197.9 313.3 L198.3 311.6 L198.8 309.1 L199.2 309.5 L199.7 311.7 L200.1 315.2 L200.6 319.7 L201.0 324.4 L201.5 327.5 L201.9 329.6 L202.4 330.3 L202.8 331.9 L203.3 332.6 L203.7 333.0 L204.2 333.3 L204.6 333.4 L205.1 333.5 L205.5 333.6 L206.0 333.6 L206.4 333.6 L206.9 333.6" fill="none" stroke="#12518a" stroke-width="1.6" stroke-linejoin="round"/>
<path d="M211.4 333.7 L211.8 333.6 L212.3 333.6 L212.7 333.6 L213.2 333.5 L213.6 333.4 L214.1 333.3 L214.5 333.0 L215.0 332.8 L215.4 332.1 L215.9 330.9 L216.3 328.3 L216.8 325.6 L217.2 323.1 L217.7 320.7 L218.1 317.0 L218.6 312.5 L219.0 309.0 L219.5 309.2 L219.9 312.8 L220.4 316.1 L220.8 319.9 L221.3 324.2 L221.7 326.5 L222.2 328.1 L222.6 330.5 L223.1 330.4 L223.5 332.5 L224.0 333.0 L224.4 333.3 L224.9 333.4 L225.3 333.5 L225.8 333.6 L226.2 333.6 L226.7 333.6 L227.1 333.6" fill="none" stroke="#cc1f36" stroke-width="1.6" stroke-linejoin="round"/>
<path d="M242.8 333.6 L243.2 333.5 L243.7 333.3 L244.1 331.3 L244.6 331.6 L245.0 329.5 L245.5 326.5 L245.9 322.4 L246.4 316.8 L246.8 311.2 L247.3 308.5 L247.7 310.3 L248.2 314.4 L248.6 317.7 L249.1 322.8 L249.5 328.2 L250.0 332.0 L250.4 332.5 L250.9 333.0 L251.3 333.3 L251.8 333.5 L252.2 333.6 L252.7 333.6 L253.1 333.7 L253.6 333.7" fill="none" stroke="#12518a" stroke-width="1.6" stroke-linejoin="round"/>
<path d="M259.4 333.6 L259.9 333.6 L260.3 333.6 L260.8 333.5 L261.2 333.5 L261.7 333.4 L262.1 333.2 L262.6 333.1 L263.0 333.7 L263.5 332.2 L263.9 331.1 L264.4 329.8 L264.8 329.3 L265.3 328.4 L265.7 326.5 L266.2 325.6 L266.6 324.5 L267.1 322.3 L267.5 319.5 L268.0 317.8 L268.4 315.7 L268.9 313.5 L269.3 312.7 L269.8 315.6 L270.2 318.6 L270.7 322.7 L271.1 326.8 L271.6 329.5 L272.0 331.8 L272.5 332.4 L272.9 333.2 L273.4 333.4 L273.8 333.5 L274.3 333.6 L274.7 333.6 L275.2 333.7 L275.6 333.7" fill="none" stroke="#cc1f36" stroke-width="1.6" stroke-linejoin="round"/>
<path d="M293.5 333.6 L293.9 333.6 L294.4 333.6 L294.8 333.5 L295.3 333.5 L295.7 333.4 L296.2 333.3 L296.6 333.1 L297.1 333.3 L297.5 332.0 L298.0 330.9 L298.4 329.9 L298.9 328.9 L299.3 328.0 L299.8 325.7 L300.2 323.6 L300.7 320.4 L301.1 317.6 L301.6 314.3 L302.0 308.9 L302.5 303.8 L302.9 304.8 L303.4 312.7 L303.8 319.6 L304.3 325.0 L304.7 328.6 L305.2 330.7 L305.6 332.0 L306.1 333.0 L306.5 333.4 L307.0 333.5 L307.4 333.6 L307.9 333.6 L308.3 333.7 L308.8 333.7" fill="none" stroke="#12518a" stroke-width="1.6" stroke-linejoin="round"/>
<path d="M300.7 333.6 L301.1 333.6 L301.6 333.6 L302.0 333.6 L302.5 333.5 L302.9 333.4 L303.4 333.3 L303.8 333.2 L304.3 333.0 L304.7 333.4 L305.2 332.3 L305.6 331.6 L306.1 330.5 L306.5 330.2 L307.0 330.0 L307.4 329.2 L307.9 328.4 L308.3 326.9 L308.8 326.1 L309.2 323.9 L309.7 321.9 L310.1 321.6 L310.6 321.9 L311.0 321.0 L311.5 321.0 L311.9 322.8 L312.4 324.6 L312.8 325.2 L313.3 326.6 L313.7 328.0 L314.2 328.7 L314.6 329.5 L315.1 330.7 L315.5 331.4 L316.0 331.9 L316.4 332.7 L316.9 333.3 L317.3 333.2 L317.8 333.1 L318.2 333.2 L318.7 333.4 L319.1 333.5 L319.6 333.5 L320.0 333.6 L320.5 333.6 L320.9 333.6" fill="none" stroke="#cc1f36" stroke-width="1.6" stroke-linejoin="round"/>
<path d="M342.8 333.6 L343.2 333.6 L343.7 333.6 L344.1 333.6 L344.6 333.5 L345.0 333.4 L345.5 333.3 L345.9 333.0 L346.4 332.9 L346.8 332.5 L347.3 331.8 L347.7 330.1 L348.2 326.2 L348.6 322.7 L349.1 319.3 L349.5 316.2 L350.0 312.2 L350.4 307.2 L350.9 305.5 L351.3 308.5 L351.8 311.8 L352.2 315.2 L352.7 320.6 L353.1 326.2 L353.6 328.5 L354.0 328.8 L354.5 329.7 L354.9 331.9 L355.4 332.9 L355.8 333.2 L356.3 333.4 L356.7 333.5 L357.2 333.5 L357.6 333.6 L358.1 333.6 L358.5 333.6" fill="none" stroke="#12518a" stroke-width="1.6" stroke-linejoin="round"/>
<path d="M342.8 333.7 L343.2 333.6 L343.7 333.6 L344.1 333.6 L344.6 333.5 L345.0 333.4 L345.5 333.3 L345.9 333.0 L346.4 332.8 L346.8 332.1 L347.3 331.2 L347.7 329.9 L348.2 327.3 L348.6 323.2 L349.1 319.8 L349.5 315.6 L350.0 312.1 L350.4 309.8 L350.9 308.0 L351.3 310.7 L351.8 314.9 L352.2 318.4 L352.7 320.9 L353.1 324.2 L353.6 327.9 L354.0 329.8 L354.5 331.6 L354.9 332.2 L355.4 333.5 L355.8 333.2 L356.3 333.4 L356.7 333.5 L357.2 333.5 L357.6 333.6 L358.1 333.6 L358.5 333.6" fill="none" stroke="#cc1f36" stroke-width="1.6" stroke-linejoin="round"/>
<path d="M392.4 333.6 L392.9 333.6 L393.3 333.6 L393.8 333.5 L394.2 333.4 L394.6 333.3 L395.1 333.1 L395.5 332.6 L396.0 332.8 L396.4 332.5 L396.9 330.5 L397.3 327.1 L397.8 325.4 L398.2 321.4 L398.7 318.9 L399.1 316.4 L399.6 312.7 L400.0 308.7 L400.5 305.0 L400.9 308.0 L401.4 312.7 L401.8 316.4 L402.3 319.9 L402.7 324.5 L403.2 327.8 L403.6 330.2 L404.1 331.4 L404.5 331.9 L405.0 333.1 L405.4 333.1 L405.9 333.3 L406.3 333.5 L406.8 333.5 L407.2 333.6 L407.7 333.6 L408.1 333.6" fill="none" stroke="#cc1f36" stroke-width="1.6" stroke-linejoin="round"/>
<path d="M43.1 372.5 L43.6 372.4 L44.0 372.2 L44.5 371.6 L44.9 370.7 L45.4 369.0 L45.8 367.3 L46.3 362.6 L46.7 357.5 L47.2 351.5 L47.6 345.8 L48.1 343.7 L48.5 347.8 L49.0 349.2 L49.4 350.5 L49.9 354.2 L50.3 359.5 L50.8 361.8 L51.2 362.3 L51.7 364.9 L52.1 367.1 L52.6 368.1 L53.0 368.5 L53.5 370.2 L53.9 371.5 L54.4 372.3 L54.8 372.6 L55.3 372.1 L55.7 372.3 L56.2 372.4 L56.6 372.5 L57.1 372.5 L57.5 372.6 L58.0 372.6 L58.4 372.6" fill="none" stroke="#12518a" stroke-width="1.6" stroke-linejoin="round"/>
<path d="M43.1 372.5 L43.6 372.4 L44.0 372.1 L44.5 372.5 L44.9 370.9 L45.4 369.1 L45.8 366.2 L46.3 361.3 L46.7 355.9 L47.2 352.5 L47.6 349.4 L48.1 344.4 L48.5 345.5 L49.0 350.0 L49.4 356.2 L49.9 361.1 L50.3 364.4 L50.8 366.4 L51.2 368.6 L51.7 370.5 L52.1 370.6 L52.6 372.0 L53.0 372.3 L53.5 372.4 L53.9 372.5 L54.4 372.6 L54.8 372.6 L55.3 372.6 L55.7 372.7" fill="none" stroke="#cc1f36" stroke-width="1.6" stroke-linejoin="round"/>
<path d="M92.5 372.6 L93.0 372.5 L93.4 372.5 L93.9 372.4 L94.3 372.3 L94.8 372.2 L95.2 372.1 L95.7 371.0 L96.1 371.0 L96.6 370.5 L97.0 370.8 L97.5 370.5 L97.9 370.1 L98.4 369.2 L98.8 369.0 L99.3 365.7 L99.7 364.5 L100.2 363.2 L100.6 361.4 L101.1 360.3 L101.5 358.4 L102.0 357.2 L102.4 356.1 L102.9 353.5 L103.3 351.7 L103.8 355.3 L104.2 359.9 L104.7 363.1 L105.1 365.3 L105.6 369.1 L106.0 370.9 L106.5 371.4 L106.9 372.2 L107.4 372.4 L107.8 372.5 L108.3 372.6 L108.7 372.6 L109.2 372.7 L109.6 372.7" fill="none" stroke="#12518a" stroke-width="1.6" stroke-linejoin="round"/>
<path d="M112.3 372.7 L112.8 372.6 L113.2 372.6 L113.7 372.6 L114.1 372.5 L114.6 372.3 L115.0 372.0 L115.5 371.2 L115.9 370.0 L116.4 368.8 L116.8 365.2 L117.3 361.7 L117.7 356.2 L118.2 350.9 L118.6 346.9 L119.1 346.8 L119.5 351.2 L120.0 356.0 L120.4 360.2 L120.9 365.3 L121.3 368.8 L121.8 370.7 L122.2 371.4 L122.7 372.0 L123.1 372.3 L123.6 372.5 L124.0 372.6 L124.5 372.6 L124.9 372.6 L125.4 372.7" fill="none" stroke="#cc1f36" stroke-width="1.6" stroke-linejoin="round"/>
<path d="M143.1 372.6 L143.6 372.6 L144.0 372.6 L144.5 372.5 L144.9 372.5 L145.4 372.4 L145.8 372.3 L146.3 372.2 L146.7 371.9 L147.2 371.6 L147.6 371.1 L148.1 370.5 L148.5 369.6 L149.0 367.3 L149.4 365.9 L149.9 364.1 L150.3 362.6 L150.8 359.4 L151.2 355.8 L151.7 352.6 L152.1 349.2 L152.6 346.6 L153.0 344.4 L153.5 344.4 L153.9 347.0 L154.4 350.2 L154.8 354.1 L155.3 357.7 L155.7 360.9 L156.2 363.7 L156.6 364.8 L157.1 367.1 L157.5 368.7 L158.0 370.7 L158.4 372.0 L158.9 372.6 L159.3 372.1 L159.8 372.3 L160.2 372.4 L160.7 372.5 L161.1 372.5 L161.6 372.6 L162.0 372.6 L162.5 372.6" fill="none" stroke="#12518a" stroke-width="1.6" stroke-linejoin="round"/>
<path d="M157.1 372.6 L157.5 372.6 L158.0 372.6 L158.4 372.5 L158.9 372.5 L159.3 372.4 L159.8 372.3 L160.2 372.1 L160.7 372.7 L161.1 371.4 L161.6 370.9 L162.0 370.6 L162.5 368.7 L162.9 368.0 L163.4 366.0 L163.8 363.6 L164.3 360.7 L164.7 356.8 L165.2 353.2 L165.6 351.0 L166.1 349.3 L166.5 347.4 L167.0 346.0 L167.4 349.7 L167.9 354.7 L168.3 358.9 L168.8 362.6 L169.2 366.0 L169.7 368.7 L170.1 371.2 L170.6 370.9 L171.0 372.0 L171.5 372.3 L171.9 372.4 L172.4 372.5 L172.8 372.6 L173.3 372.6 L173.7 372.6 L174.2 372.7" fill="none" stroke="#cc1f36" stroke-width="1.6" stroke-linejoin="round"/>
<path d="M191.6 372.2 L192.0 372.0 L192.5 371.7 L192.9 371.9 L193.4 371.8 L193.8 371.4 L194.3 369.7 L194.7 369.1 L195.2 368.4 L195.6 367.7 L196.1 366.8 L196.5 364.0 L197.0 361.8 L197.4 358.6 L197.9 355.2 L198.3 353.6 L198.8 351.4 L199.2 348.5 L199.7 346.6 L200.1 346.2 L200.6 347.0 L201.0 353.0 L201.5 357.6 L201.9 361.2 L202.4 365.5 L202.8 369.5 L203.3 371.2 L203.7 371.9 L204.2 372.3 L204.6 372.5 L205.1 372.6 L205.5 372.6 L206.0 372.6 L206.4 372.7" fill="none" stroke="#12518a" stroke-width="1.6" stroke-linejoin="round"/>
<path d="M196.5 372.6 L197.0 372.6 L197.4 372.6 L197.9 372.6 L198.3 372.5 L198.8 372.4 L199.2 372.3 L199.7 372.2 L200.1 372.0 L200.6 371.6 L201.0 371.7 L201.5 371.5 L201.9 371.1 L202.4 369.5 L202.8 367.7 L203.3 367.1 L203.7 366.5 L204.2 366.0 L204.6 365.3 L205.1 364.6 L205.5 364.5 L206.0 364.4 L206.4 365.9 L206.9 365.1 L207.3 365.2 L207.8 366.0 L208.2 365.8 L208.7 365.6 L209.1 365.4 L209.6 366.2 L210.0 366.2 L210.5 366.7 L210.9 366.7 L211.4 366.3 L211.8 365.9 L212.3 365.5 L212.7 366.2 L213.2 366.5 L213.6 366.5 L214.1 366.9 L214.5 367.1 L215.0 368.9 L215.4 368.2 L215.9 369.3 L216.3 369.3 L216.8 369.4 L217.2 370.8 L217.7 369.7 L218.1 371.1 L218.6 372.1 L219.0 371.9 L219.5 371.6 L219.9 371.7 L220.4 372.0 L220.8 372.2 L221.3 372.3 L221.7 372.4 L222.2 372.4 L222.6 372.5 L223.1 372.5 L223.5 372.6 L224.0 372.6 L224.4 372.6" fill="none" stroke="#cc1f36" stroke-width="1.6" stroke-linejoin="round"/>
<path d="M242.8 372.6 L243.2 372.5 L243.7 372.5 L244.1 372.4 L244.6 372.3 L245.0 372.2 L245.5 372.0 L245.9 371.9 L246.4 371.4 L246.8 370.5 L247.3 370.2 L247.7 368.9 L248.2 367.3 L248.6 364.6 L249.1 363.3 L249.5 362.0 L250.0 358.6 L250.4 355.0 L250.9 351.6 L251.3 347.5 L251.8 346.1 L252.2 344.9 L252.7 346.6 L253.1 351.1 L253.6 356.9 L254.0 361.4 L254.5 364.8 L254.9 367.6 L255.4 370.5 L255.8 371.4 L256.3 372.3 L256.7 372.2 L257.2 372.4 L257.6 372.5 L258.1 372.6 L258.5 372.6 L259.0 372.6 L259.4 372.7" fill="none" stroke="#12518a" stroke-width="1.6" stroke-linejoin="round"/>
<path d="M261.7 372.6 L262.1 372.6 L262.6 372.6 L263.0 372.5 L263.5 372.5 L263.9 372.4 L264.4 372.2 L264.8 372.0 L265.3 372.0 L265.7 371.5 L266.2 370.7 L266.6 369.7 L267.1 368.3 L267.5 366.7 L268.0 363.6 L268.4 360.8 L268.9 356.8 L269.3 352.7 L269.8 350.3 L270.2 347.2 L270.7 344.4 L271.1 348.5 L271.6 353.5 L272.0 357.8 L272.5 362.0 L272.9 365.5 L273.4 367.8 L273.8 369.3 L274.3 370.3 L274.7 372.1 L275.2 372.2 L275.6 372.4 L276.1 372.5 L276.5 372.6 L277.0 372.6 L277.4 372.6 L277.9 372.7" fill="none" stroke="#cc1f36" stroke-width="1.6" stroke-linejoin="round"/>
<path d="M292.6 372.6 L293.1 371.9 L293.5 371.4 L293.9 371.9 L294.4 370.7 L294.8 368.6 L295.3 369.7 L295.7 368.9 L296.2 367.7 L296.6 367.7 L297.1 365.3 L297.5 363.0 L298.0 362.4 L298.4 361.7 L298.9 359.8 L299.3 358.0 L299.8 355.9 L300.2 354.0 L300.7 353.2 L301.1 351.2 L301.6 348.5 L302.0 347.2 L302.5 351.9 L302.9 357.0 L303.4 362.0 L303.8 365.7 L304.3 368.7 L304.7 370.5 L305.2 371.6 L305.6 372.2 L306.1 372.4 L306.5 372.5 L307.0 372.6 L307.4 372.6 L307.9 372.7 L308.3 372.7" fill="none" stroke="#12518a" stroke-width="1.6" stroke-linejoin="round"/>
<path d="M301.6 372.7 L302.0 372.6 L302.5 372.6 L302.9 372.6 L303.4 372.5 L303.8 372.4 L304.3 372.3 L304.7 372.1 L305.2 371.3 L305.6 371.1 L306.1 370.3 L306.5 369.3 L307.0 366.7 L307.4 363.5 L307.9 358.3 L308.3 354.2 L308.8 351.6 L309.2 348.0 L309.7 344.5 L310.1 347.1 L310.6 348.8 L311.0 350.1 L311.5 353.0 L311.9 357.8 L312.4 361.8 L312.8 363.6 L313.3 365.1 L313.7 366.7 L314.2 368.4 L314.6 369.4 L315.1 370.7 L315.5 372.1 L316.0 371.8 L316.4 371.9 L316.9 372.2 L317.3 372.3 L317.8 372.4 L318.2 372.5 L318.7 372.5 L319.1 372.6 L319.6 372.6 L320.0 372.6" fill="none" stroke="#cc1f36" stroke-width="1.6" stroke-linejoin="round"/>
<path d="M345.5 372.6 L345.9 372.6 L346.4 372.6 L346.8 372.5 L347.3 372.5 L347.7 372.4 L348.2 372.2 L348.6 372.0 L349.1 372.0 L349.5 371.4 L350.0 370.0 L350.4 369.6 L350.9 366.4 L351.3 364.0 L351.8 361.3 L352.2 356.5 L352.7 352.3 L353.1 349.4 L353.6 345.3 L354.0 340.9 L354.5 342.7 L354.9 349.9 L355.4 355.7 L355.8 360.5 L356.3 365.3 L356.7 369.4 L357.2 370.9 L357.6 372.6 L358.1 372.2 L358.5 372.4 L359.0 372.5 L359.4 372.6 L359.9 372.6 L360.3 372.7 L360.8 372.7" fill="none" stroke="#cc1f36" stroke-width="1.6" stroke-linejoin="round"/>
<path d="M392.4 372.4 L392.9 372.3 L393.3 372.3 L393.8 372.2 L394.2 372.1 L394.6 372.0 L395.1 372.2 L395.5 372.0 L396.0 371.7 L396.4 371.2 L396.9 371.2 L397.3 371.2 L397.8 370.2 L398.2 369.0 L398.7 369.0 L399.1 368.5 L399.6 366.2 L400.0 366.5 L400.5 365.7 L400.9 364.6 L401.4 362.8 L401.8 361.9 L402.3 361.0 L402.7 358.5 L403.2 357.3 L403.6 357.5 L404.1 356.8 L404.5 354.1 L405.0 350.9 L405.4 349.0 L405.9 347.6 L406.3 344.9 L406.8 343.4 L407.2 343.3 L407.7 343.4 L408.1 346.7 L408.6 351.5 L409.0 356.4 L409.5 361.0 L409.9 364.4 L410.4 367.4 L410.8 370.5 L411.3 371.0 L411.7 372.1 L412.2 372.2 L412.6 372.4 L413.1 372.5 L413.5 372.6 L414.0 372.6 L414.4 372.6 L414.9 372.7" fill="none" stroke="#12518a" stroke-width="1.6" stroke-linejoin="round"/>
<path d="M392.4 372.5 L392.9 372.4 L393.3 372.4 L393.8 372.3 L394.2 372.2 L394.6 372.1 L395.1 372.0 L395.5 372.1 L396.0 370.9 L396.4 371.7 L396.9 371.5 L397.3 371.1 L397.8 371.1 L398.2 369.9 L398.7 369.4 L399.1 368.9 L399.6 368.0 L400.0 367.4 L400.5 366.4 L400.9 365.7 L401.4 364.8 L401.8 364.2 L402.3 361.5 L402.7 360.5 L403.2 359.5 L403.6 357.9 L404.1 356.5 L404.5 355.2 L405.0 353.5 L405.4 351.1 L405.9 348.6 L406.3 346.5 L406.8 345.8 L407.2 347.4 L407.7 348.2 L408.1 348.6 L408.6 350.6 L409.0 355.4 L409.5 360.4 L409.9 364.7 L410.4 368.1 L410.8 370.2 L411.3 371.5 L411.7 371.9 L412.2 372.3 L412.6 372.4 L413.1 372.5 L413.5 372.6 L414.0 372.6 L414.4 372.6 L414.9 372.7" fill="none" stroke="#cc1f36" stroke-width="1.6" stroke-linejoin="round"/>
<g transform="translate(27.6,338.3) rotate(-90)"><text x="0" y="0" font-size="10.4" text-anchor="middle" fill="#222">Cell count</text></g>
<line x1="23.8" y1="377" x2="23.8" y2="392.4" stroke="#111" stroke-width="1.3"/>
<line x1="23.2" y1="392.4" x2="40" y2="392.4" stroke="#111" stroke-width="1.3"/>
<path d="M23.8 371.5 L26.4 379 L21.2 379 Z" fill="#111"/>
<path d="M45.5 392.4 L38.2 389.8 L38.2 395 Z" fill="#111"/>
<text x="50.7" y="395.8" font-size="10.4" text-anchor="start" font-weight="normal" font-style="normal" fill="#222">Log fluo.</text>
<text x="9.1" y="434.6" font-size="15.6" text-anchor="start" font-weight="bold" font-style="normal" fill="#111">C</text>
<line x1="84.9" y1="442.4" x2="84.9" y2="561.6" stroke="#1a1a1a" stroke-width="1.45"/>
<line x1="80.5" y1="443" x2="85" y2="443" stroke="#1a1a1a" stroke-width="1.4"/>
<text x="75.5" y="446.7" font-size="10.5" text-anchor="end" font-weight="normal" font-style="normal" fill="#222">2000</text>
<line x1="80.5" y1="502" x2="85" y2="502" stroke="#1a1a1a" stroke-width="1.4"/>
<text x="75.5" y="505.7" font-size="10.5" text-anchor="end" font-weight="normal" font-style="normal" fill="#222">1000</text>
<line x1="80.5" y1="561" x2="85" y2="561" stroke="#1a1a1a" stroke-width="1.4"/>
<text x="75.5" y="564.7" font-size="10.5" text-anchor="end" font-weight="normal" font-style="normal" fill="#222">0</text>
<g transform="translate(42.3,502.2) rotate(-90) scale(0.72,1)"><text x="0" y="0" font-size="12.5" text-anchor="middle" fill="#111" stroke="#111" stroke-width="0.2">CCL5 (pg/ml)</text></g>
<line x1="84.2" y1="561" x2="255.8" y2="561" stroke="#1a1a1a" stroke-width="1.45"/>
<line x1="127.4" y1="561" x2="127.4" y2="565.5" stroke="#1a1a1a" stroke-width="1.3"/>
<line x1="170" y1="561" x2="170" y2="565.5" stroke="#1a1a1a" stroke-width="1.3"/>
<line x1="213.2" y1="561" x2="213.2" y2="565.5" stroke="#1a1a1a" stroke-width="1.3"/>
<line x1="255.2" y1="561" x2="255.2" y2="565.5" stroke="#1a1a1a" stroke-width="1.3"/>
<text x="0" y="0" font-size="10.4" text-anchor="end" font-weight="normal" font-style="normal" fill="#222" transform="translate(109.7,569.3) rotate(-90)">Naive</text>
<text x="0" y="0" font-size="10.4" text-anchor="end" font-weight="normal" font-style="normal" fill="#222" transform="translate(152.89999999999998,569.3) rotate(-90)">GC</text>
<text x="0" y="0" font-size="10.4" text-anchor="end" font-weight="normal" font-style="normal" fill="#222" transform="translate(195.1,569.3) rotate(-90)">Memory</text>
<text x="0" y="0" font-size="10.7" text-anchor="end" font-weight="normal" font-style="normal" fill="#222" transform="translate(237.0,569.3) rotate(-90)">OCI-Ly18</text>
<rect x="105.6" y="439.7" width="8.2" height="8.2" fill="#cc1f36" stroke="#222" stroke-width="0.8"/>
<text x="117" y="447.5" font-size="10.2" text-anchor="start" font-weight="normal" font-style="normal" fill="#222">NS</text>
<rect x="105.6" y="455.7" width="8.2" height="8.2" fill="#12518a" stroke="#222" stroke-width="0.8"/>
<text x="117" y="463.5" font-size="10.2" text-anchor="start" font-weight="normal" font-style="normal" fill="#222">CD40L + &#945;-BCR</text>
<rect x="105.6" y="471.9" width="8.2" height="8.2" fill="#3ab54a" stroke="#222" stroke-width="0.8"/>
<text x="117" y="479.7" font-size="10.2" text-anchor="start" font-weight="normal" font-style="normal" fill="#222">TNF</text>
<rect x="219.3" y="510" width="9.799999999999983" height="51" fill="#cc1f36" stroke="#111" stroke-width="0.9"/>
<rect x="229.1" y="452.5" width="9.700000000000017" height="108.5" fill="#12518a" stroke="#111" stroke-width="0.9"/>
<rect x="238.8" y="493.7" width="9.899999999999977" height="67.30000000000001" fill="#3ab54a" stroke="#111" stroke-width="0.9"/>
<line x1="224.2" y1="505.6" x2="224.2" y2="513.8" stroke="#111" stroke-width="1.1"/>
<line x1="221.1" y1="505.6" x2="227.29999999999998" y2="505.6" stroke="#111" stroke-width="1.1"/>
<line x1="221.1" y1="513.8" x2="227.29999999999998" y2="513.8" stroke="#111" stroke-width="1.1"/>
<line x1="234" y1="445.4" x2="234" y2="459.5" stroke="#111" stroke-width="1.1"/>
<line x1="230.9" y1="445.4" x2="237.1" y2="445.4" stroke="#111" stroke-width="1.1"/>
<line x1="230.9" y1="459.5" x2="237.1" y2="459.5" stroke="#111" stroke-width="1.1"/>
<line x1="243.7" y1="489.4" x2="243.7" y2="497.8" stroke="#111" stroke-width="1.1"/>
<line x1="240.6" y1="489.4" x2="246.79999999999998" y2="489.4" stroke="#111" stroke-width="1.1"/>
<line x1="240.6" y1="497.8" x2="246.79999999999998" y2="497.8" stroke="#111" stroke-width="1.1"/>
<rect x="78.4" y="638.9" width="177.1" height="12.7" fill="#1b1b1b"/>
<rect x="78.4" y="655.9" width="177.1" height="12.8" fill="#1b1b1b"/>
<defs><filter id="gl" x="-20%" y="-200%" width="140%" height="500%"><feGaussianBlur stdDeviation="0.7"/></filter></defs>
<rect x="83.6" y="659.9" width="27.700000000000003" height="4.3" rx="2.1" fill="#d8d8d8" filter="url(#gl)"/>
<rect x="85.1" y="660.8" width="24.700000000000003" height="2.4" rx="1.2" fill="#ffffff"/>
<rect x="119.6" y="659.9" width="27.0" height="4.3" rx="2.1" fill="#d8d8d8" filter="url(#gl)"/>
<rect x="121.1" y="660.8" width="24.0" height="2.4" rx="1.2" fill="#ffffff"/>
<rect x="153.4" y="659.9" width="28.19999999999999" height="4.3" rx="2.1" fill="#d8d8d8" filter="url(#gl)"/>
<rect x="154.9" y="660.8" width="25.19999999999999" height="2.4" rx="1.2" fill="#ffffff"/>
<rect x="188.5" y="659.9" width="27.19999999999999" height="4.3" rx="2.1" fill="#d8d8d8" filter="url(#gl)"/>
<rect x="190.0" y="660.8" width="24.19999999999999" height="2.4" rx="1.2" fill="#ffffff"/>
<rect x="188.8" y="643.2" width="25.6" height="3.2" rx="1.5" fill="#9a9a9a" filter="url(#gl)"/>
<rect x="190.5" y="644.0" width="22" height="1.5" rx="0.7" fill="#d0d0d0"/>
<text x="71.3" y="648.4" font-size="11.2" text-anchor="end" font-weight="bold" font-style="italic" fill="#111">CCL5</text>
<text x="75.6" y="665.6" font-size="11.2" text-anchor="end" font-weight="bold" font-style="italic" fill="#111">actin</text>
<text x="0" y="0" font-size="10" text-anchor="end" font-weight="normal" font-style="normal" fill="#222" transform="translate(103.3,678.2) rotate(-90)">Naive</text>
<text x="0" y="0" font-size="10" text-anchor="end" font-weight="normal" font-style="normal" fill="#222" transform="translate(134.5,678.2) rotate(-90)">GC</text>
<text x="0" y="0" font-size="10" text-anchor="end" font-weight="normal" font-style="normal" fill="#222" transform="translate(170.79999999999998,678.2) rotate(-90)">Memory</text>
<text x="0" y="0" font-size="10.6" text-anchor="end" font-weight="normal" font-style="normal" fill="#222" transform="translate(205.4,678.2) rotate(-90)">OCI-Ly18</text>
<text x="0" y="0" font-size="10" text-anchor="end" font-weight="normal" font-style="normal" fill="#222" transform="translate(239.29999999999998,678.2) rotate(-90)">H20</text>
<text x="270.2" y="434.6" font-size="15.6" text-anchor="start" font-weight="bold" font-style="normal" fill="#111">D</text>
<line x1="352.5" y1="441.8" x2="352.5" y2="562.9" stroke="#1a1a1a" stroke-width="1.45"/>
<line x1="348" y1="442.5" x2="352.5" y2="442.5" stroke="#1a1a1a" stroke-width="1.4"/>
<text x="343.8" y="446.2" font-size="10.5" text-anchor="end" font-weight="normal" font-style="normal" fill="#222">10.00</text>
<line x1="348" y1="482.5" x2="352.5" y2="482.5" stroke="#1a1a1a" stroke-width="1.4"/>
<text x="343.8" y="486.2" font-size="10.5" text-anchor="end" font-weight="normal" font-style="normal" fill="#222">1.00</text>
<line x1="348" y1="522.5" x2="352.5" y2="522.5" stroke="#1a1a1a" stroke-width="1.4"/>
<text x="343.8" y="526.2" font-size="10.5" text-anchor="end" font-weight="normal" font-style="normal" fill="#222">0.10</text>
<line x1="348" y1="562.2" x2="352.5" y2="562.2" stroke="#1a1a1a" stroke-width="1.4"/>
<text x="343.8" y="565.9000000000001" font-size="10.5" text-anchor="end" font-weight="normal" font-style="normal" fill="#222">0.01</text>
<g transform="translate(310.6,503.1) rotate(-90) scale(0.745,1) skewX(-10)"><text x="0" y="0" font-size="12.5" text-anchor="middle" font-style="italic" fill="#111" stroke="#111" stroke-width="0.3">CCL5/actin ratio</text></g>
<line x1="351.8" y1="562.2" x2="509.8" y2="562.2" stroke="#1a1a1a" stroke-width="1.45"/>
<line x1="384.6" y1="562.2" x2="384.6" y2="566.5" stroke="#1a1a1a" stroke-width="1.3"/>
<line x1="416.3" y1="562.2" x2="416.3" y2="566.5" stroke="#1a1a1a" stroke-width="1.3"/>
<line x1="448.3" y1="562.2" x2="448.3" y2="566.5" stroke="#1a1a1a" stroke-width="1.3"/>
<line x1="480" y1="562.2" x2="480" y2="566.5" stroke="#1a1a1a" stroke-width="1.3"/>
<line x1="509.2" y1="562.2" x2="509.2" y2="566.5" stroke="#1a1a1a" stroke-width="1.3"/>
<text x="0" y="0" font-size="10.9" text-anchor="end" font-weight="normal" font-style="normal" fill="#222" transform="translate(372.29999999999995,570.4) rotate(-90)">B593</text>
<text x="0" y="0" font-size="10.9" text-anchor="end" font-weight="normal" font-style="normal" fill="#222" transform="translate(404.4,570.4) rotate(-90)">K422</text>
<text x="0" y="0" font-size="10.9" text-anchor="end" font-weight="normal" font-style="normal" fill="#222" transform="translate(435.59999999999997,570.4) rotate(-90)">OCI-Ly1</text>
<text x="0" y="0" font-size="10.9" text-anchor="end" font-weight="normal" font-style="normal" fill="#222" transform="translate(466.7,570.4) rotate(-90)">OCI-LY2</text>
<text x="0" y="0" font-size="10.9" text-anchor="end" font-weight="normal" font-style="normal" fill="#222" transform="translate(499.59999999999997,570.4) rotate(-90)">OCI-Ly6</text>
<rect x="439.4" y="430.7" width="7.2" height="7.6" fill="#cc1f36" stroke="#222" stroke-width="0.8"/>
<text x="450.2" y="438.1" font-size="10.1" text-anchor="start" font-weight="normal" font-style="normal" fill="#222">DMSO</text>
<rect x="439.4" y="443.9" width="7.2" height="7.6" fill="#12518a" stroke="#222" stroke-width="0.8"/>
<text x="450.2" y="451.3" font-size="10.1" text-anchor="start" font-weight="normal" font-style="normal" fill="#222">Decitabine</text>
<rect x="439.4" y="456.2" width="7.2" height="7.6" fill="#3ab54a" stroke="#222" stroke-width="0.8"/>
<text x="450.2" y="463.6" font-size="10.1" text-anchor="start" font-weight="normal" font-style="normal" fill="#222">TSA</text>
<rect x="365.2" y="489.2" width="7.199999999999989" height="73.00000000000006" fill="#cc1f36" stroke="#111" stroke-width="0.9"/>
<rect x="372.4" y="505.5" width="7.600000000000023" height="56.700000000000045" fill="#12518a" stroke="#111" stroke-width="0.9"/>
<line x1="368.79999999999995" y1="483.7" x2="368.79999999999995" y2="492.5" stroke="#111" stroke-width="1.1"/>
<line x1="365.49999999999994" y1="483.7" x2="372.09999999999997" y2="483.7" stroke="#111" stroke-width="1.1"/>
<line x1="365.49999999999994" y1="492.5" x2="372.09999999999997" y2="492.5" stroke="#111" stroke-width="1.1"/>
<line x1="376.2" y1="501.8" x2="376.2" y2="507.71999999999997" stroke="#111" stroke-width="1.1"/>
<line x1="372.9" y1="501.8" x2="379.5" y2="501.8" stroke="#111" stroke-width="1.1"/>
<line x1="372.9" y1="507.71999999999997" x2="379.5" y2="507.71999999999997" stroke="#111" stroke-width="1.1"/>
<path d="M368.60 464.70 L369.10 466.11 L370.60 466.15 L369.41 467.06 L369.83 468.50 L368.60 467.65 L367.37 468.50 L367.79 467.06 L366.60 466.15 L368.10 466.11Z" fill="#1a1a1a"/>
<path d="M376.00 479.40 L376.50 480.81 L378.00 480.85 L376.81 481.76 L377.23 483.20 L376.00 482.35 L374.77 483.20 L375.19 481.76 L374.00 480.85 L375.50 480.81Z" fill="#1a1a1a"/>
<rect x="396.9" y="506.2" width="7.100000000000023" height="56.00000000000006" fill="#cc1f36" stroke="#111" stroke-width="0.9"/>
<rect x="404" y="460" width="7.699999999999989" height="102.20000000000005" fill="#12518a" stroke="#111" stroke-width="0.9"/>
<line x1="400.45" y1="503.7" x2="400.45" y2="507.7" stroke="#111" stroke-width="1.1"/>
<line x1="397.15" y1="503.7" x2="403.75" y2="503.7" stroke="#111" stroke-width="1.1"/>
<line x1="397.15" y1="507.7" x2="403.75" y2="507.7" stroke="#111" stroke-width="1.1"/>
<path d="M400.00 483.10 L400.50 484.51 L402.00 484.55 L400.81 485.46 L401.23 486.90 L400.00 486.05 L398.77 486.90 L399.19 485.46 L398.00 484.55 L399.50 484.51Z" fill="#1a1a1a"/>
<path d="M407.70 446.50 L408.20 447.91 L409.70 447.95 L408.51 448.86 L408.93 450.30 L407.70 449.45 L406.47 450.30 L406.89 448.86 L405.70 447.95 L407.20 447.91Z" fill="#1a1a1a"/>
<rect x="428.6" y="513.8" width="7.399999999999977" height="48.40000000000009" fill="#cc1f36" stroke="#111" stroke-width="0.9"/>
<rect x="436" y="527" width="7.699999999999989" height="35.200000000000045" fill="#12518a" stroke="#111" stroke-width="0.9"/>
<line x1="432.3" y1="508.6" x2="432.3" y2="516.92" stroke="#111" stroke-width="1.1"/>
<line x1="429.0" y1="508.6" x2="435.6" y2="508.6" stroke="#111" stroke-width="1.1"/>
<line x1="429.0" y1="516.92" x2="435.6" y2="516.92" stroke="#111" stroke-width="1.1"/>
<line x1="439.85" y1="522.8" x2="439.85" y2="529.52" stroke="#111" stroke-width="1.1"/>
<line x1="436.55" y1="522.8" x2="443.15000000000003" y2="522.8" stroke="#111" stroke-width="1.1"/>
<line x1="436.55" y1="529.52" x2="443.15000000000003" y2="529.52" stroke="#111" stroke-width="1.1"/>
<path d="M432.60 495.70 L433.10 497.11 L434.60 497.15 L433.41 498.06 L433.83 499.50 L432.60 498.65 L431.37 499.50 L431.79 498.06 L430.60 497.15 L432.10 497.11Z" fill="#1a1a1a"/>
<path d="M439.40 509.60 L439.90 511.01 L441.40 511.05 L440.21 511.96 L440.63 513.40 L439.40 512.55 L438.17 513.40 L438.59 511.96 L437.40 511.05 L438.90 511.01Z" fill="#1a1a1a"/>
<rect x="461" y="516" width="7.300000000000011" height="46.200000000000045" fill="#cc1f36" stroke="#111" stroke-width="0.9"/>
<rect x="468.3" y="510.8" width="7.699999999999989" height="51.400000000000034" fill="#12518a" stroke="#111" stroke-width="0.9"/>
<line x1="464.65" y1="514.6" x2="464.65" y2="516.84" stroke="#111" stroke-width="1.1"/>
<line x1="461.34999999999997" y1="514.6" x2="467.95" y2="514.6" stroke="#111" stroke-width="1.1"/>
<line x1="461.34999999999997" y1="516.84" x2="467.95" y2="516.84" stroke="#111" stroke-width="1.1"/>
<path d="M464.60 500.40 L465.10 501.81 L466.60 501.85 L465.41 502.76 L465.83 504.20 L464.60 503.35 L463.37 504.20 L463.79 502.76 L462.60 501.85 L464.10 501.81Z" fill="#1a1a1a"/>
<path d="M471.70 497.30 L472.20 498.71 L473.70 498.75 L472.51 499.66 L472.93 501.10 L471.70 500.25 L470.47 501.10 L470.89 499.66 L469.70 498.75 L471.20 498.71Z" fill="#1a1a1a"/>
<rect x="492.9" y="507" width="7.7000000000000455" height="55.200000000000045" fill="#cc1f36" stroke="#111" stroke-width="0.9"/>
<rect x="500.6" y="538.5" width="7.099999999999966" height="23.700000000000045" fill="#12518a" stroke="#111" stroke-width="0.9"/>
<line x1="496.75" y1="501.8" x2="496.75" y2="510.12" stroke="#111" stroke-width="1.1"/>
<line x1="493.45" y1="501.8" x2="500.05" y2="501.8" stroke="#111" stroke-width="1.1"/>
<line x1="493.45" y1="510.12" x2="500.05" y2="510.12" stroke="#111" stroke-width="1.1"/>
<line x1="504.15" y1="534.2" x2="504.15" y2="541.0799999999999" stroke="#111" stroke-width="1.1"/>
<line x1="500.84999999999997" y1="534.2" x2="507.45" y2="534.2" stroke="#111" stroke-width="1.1"/>
<line x1="500.84999999999997" y1="541.0799999999999" x2="507.45" y2="541.0799999999999" stroke="#111" stroke-width="1.1"/>
<path d="M496.30 489.60 L496.80 491.01 L498.30 491.05 L497.11 491.96 L497.53 493.40 L496.30 492.55 L495.07 493.40 L495.49 491.96 L494.30 491.05 L495.80 491.01Z" fill="#1a1a1a"/>
<path d="M503.40 515.70 L503.90 517.11 L505.40 517.15 L504.21 518.06 L504.63 519.50 L503.40 518.65 L502.17 519.50 L502.59 518.06 L501.40 517.15 L502.90 517.11Z" fill="#1a1a1a"/>
<rect x="0.75" y="0.75" width="518.5" height="730.5" fill="none" stroke="#000" stroke-width="1.5"/>
</svg>
</body></html>
